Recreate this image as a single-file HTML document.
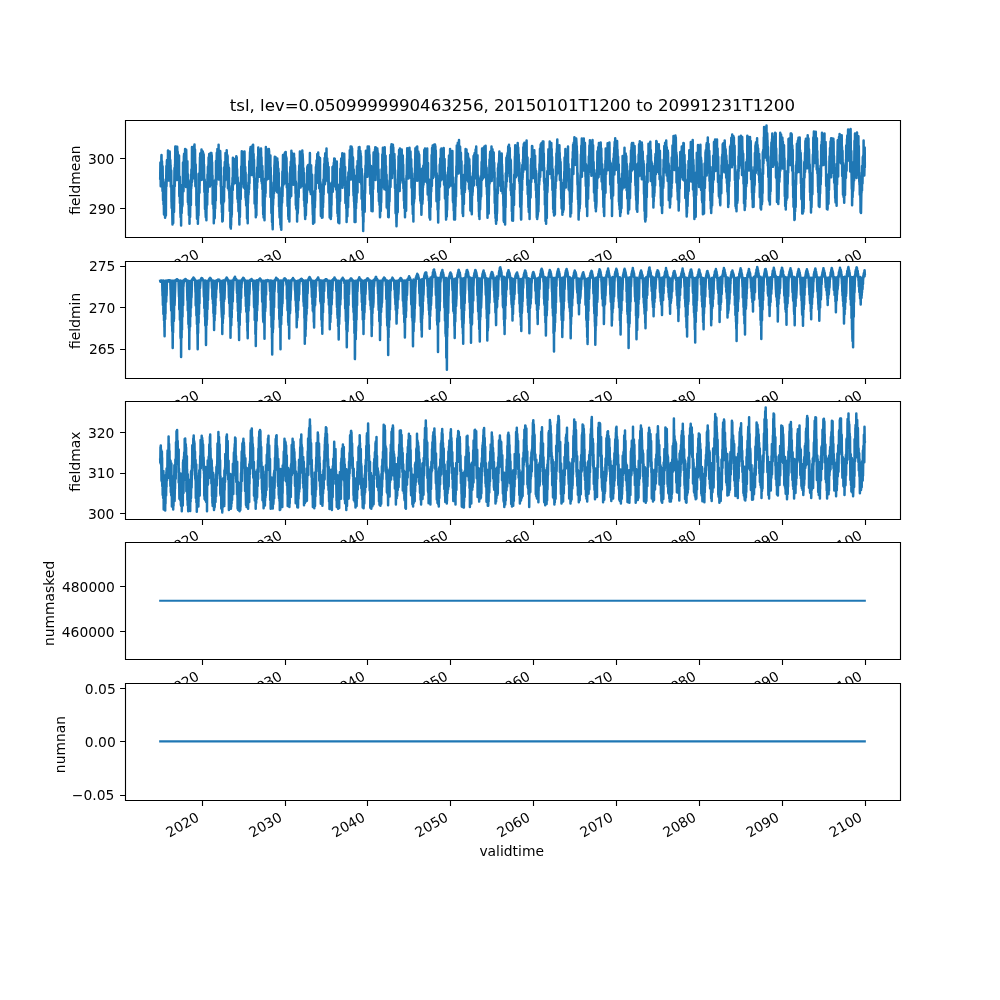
<!DOCTYPE html>
<html><head><meta charset="utf-8"><title>tsl</title>
<style>html,body{margin:0;padding:0;background:#fff;width:1000px;height:1000px;overflow:hidden}svg{display:block}</style>
</head><body>
<svg width="1000" height="1000" viewBox="0 0 1000 1000" style="font-family:'DejaVu Sans','Liberation Sans',sans-serif"><rect width="1000" height="1000" fill="#fff"/>
<rect x="125" y="120" width="775" height="117" fill="#fff"/>
<clipPath id="c0"><rect x="125.00" y="120.00" width="775.00" height="117.24"/></clipPath>
<path clip-path="url(#c0)" d="M160.2 178.5L160.4 162.5 160.5 164.6 160.5 170.6 160.6 164.2 160.7 186.3 161.0 166.8 161.0 171.0 161.2 172.7 161.4 155.9 161.5 163.8 161.5 161.0 161.5 155.0 161.8 178.5 162.0 170.4 162.0 161.2 162.5 190.9 162.5 186.1 162.5 186.6 162.6 166.3 162.9 186.9 163.0 184.9 163.0 195.7 163.1 200.4 163.3 179.4 163.5 199.4 163.5 204.4 163.6 189.5 164.0 214.4 164.0 205.2 164.2 214.7 164.5 196.9 164.5 197.8 164.5 203.6 164.5 211.7 164.9 185.5 165.0 205.5 165.0 199.2 165.1 217.8 165.5 197.6 165.5 194.2 165.5 182.5 165.9 215.5 166.0 193.2 166.0 194.7 166.4 165.9 166.5 169.5 166.5 186.3 166.9 160.7 167.0 169.4 167.0 168.8 167.0 160.1 167.4 176.0 167.5 170.9 167.5 165.8 167.8 176.8 168.0 150.5 168.0 157.8 168.1 172.7 168.4 153.5 168.5 171.1 168.5 166.7 168.6 180.5 168.7 153.6 169.0 154.9 169.0 161.5 169.1 177.9 169.2 159.1 169.5 161.4 169.5 173.1 169.7 151.6 170.0 168.1 170.0 169.7 170.1 177.9 170.3 160.0 170.5 166.7 170.5 173.7 170.6 165.3 170.8 186.8 171.0 177.5 171.0 183.1 171.2 170.5 171.5 201.9 171.5 193.9 171.5 198.3 171.7 207.9 171.9 185.7 172.0 200.2 172.0 201.1 172.5 224.4 172.5 217.7 172.5 213.4 172.8 219.8 172.9 208.1 173.0 208.9 173.0 207.2 173.2 222.9 173.4 191.4 173.5 201.9 173.5 210.0 173.5 211.5 173.7 191.2 174.0 202.6 174.0 203.7 174.0 211.9 174.5 168.1 174.5 174.2 174.5 177.1 174.8 186.2 175.0 164.2 175.0 171.9 175.0 176.0 175.3 146.4 175.5 162.8 175.5 168.3 175.5 179.7 176.0 154.3 176.0 152.6 176.3 146.7 176.5 172.2 176.5 166.6 176.5 169.5 176.6 179.9 176.7 148.6 177.0 166.0 177.0 167.8 177.1 176.2 177.2 146.8 177.5 158.5 177.5 156.1 177.7 151.8 177.8 169.9 178.0 161.6 178.0 167.1 178.2 154.8 178.4 178.9 178.5 162.3 178.5 156.6 178.8 180.8 179.0 167.9 179.0 155.4 179.3 196.3 179.5 187.6 179.5 182.8 179.8 176.7 179.9 202.9 180.0 198.1 180.0 190.6 180.1 185.7 180.4 213.6 180.5 205.4 180.5 212.2 180.6 217.2 180.7 191.1 181.0 208.2 181.0 210.1 181.1 225.6 181.2 206.6 181.5 210.0 181.5 203.8 181.7 213.1 181.9 185.9 182.0 199.8 182.0 190.2 182.0 185.1 182.1 206.9 182.5 204.6 182.5 198.6 183.0 168.0 183.0 169.7 183.0 162.6 183.5 191.3 183.5 188.1 183.5 171.8 183.6 177.3 183.9 155.8 184.0 171.4 184.0 170.9 184.1 153.7 184.4 185.5 184.5 157.2 184.5 154.3 184.7 180.7 185.0 168.5 185.0 173.3 185.1 149.0 185.4 176.8 185.5 176.4 185.5 174.1 185.7 162.8 186.0 186.9 186.0 179.6 186.2 149.8 186.5 165.9 186.5 167.5 186.6 161.2 186.9 183.9 187.0 175.2 187.0 175.9 187.1 184.5 187.4 161.2 187.5 179.4 187.5 182.4 187.8 174.0 187.9 202.3 188.0 197.9 188.0 191.4 188.2 179.7 188.4 204.8 188.5 196.1 188.5 193.5 188.5 191.4 188.9 215.1 189.0 206.9 189.0 211.8 189.1 194.7 189.5 213.5 189.5 219.0 189.5 223.8 189.7 196.6 190.0 201.2 190.0 211.9 190.1 217.1 190.5 181.3 190.5 183.8 190.5 193.6 190.9 205.1 191.0 174.8 191.0 186.1 191.0 188.1 191.2 188.6 191.4 169.6 191.5 186.1 191.5 181.5 191.8 182.4 192.0 147.0 192.0 164.9 192.0 165.5 192.1 181.4 192.2 151.2 192.5 166.7 192.5 171.3 192.6 148.4 192.9 175.7 193.0 171.1 193.0 172.3 193.2 178.3 193.3 150.8 193.5 156.8 193.5 159.0 193.6 175.4 194.0 146.3 194.0 148.8 194.1 173.8 194.5 144.5 194.5 155.1 194.5 149.5 195.0 172.9 195.0 166.1 195.0 149.6 195.4 186.2 195.5 183.5 195.5 181.9 195.7 164.4 195.9 185.6 196.0 177.6 196.0 180.7 196.3 173.8 196.4 205.4 196.5 201.2 196.5 201.7 196.7 196.2 197.0 218.7 197.0 218.6 197.0 218.7 197.2 200.2 197.5 219.0 197.5 218.9 197.5 203.7 197.7 197.8 197.9 223.8 198.0 213.3 198.0 209.2 198.1 218.2 198.3 196.9 198.5 205.8 198.5 215.6 199.0 184.9 199.0 180.3 199.1 173.6 199.5 192.8 199.5 182.7 199.5 183.9 199.6 186.0 200.0 157.3 200.0 166.7 200.0 168.2 200.1 180.6 200.2 153.6 200.5 167.3 200.5 165.6 200.7 155.2 201.0 179.9 201.0 169.4 201.1 176.2 201.5 149.6 201.5 153.9 201.5 163.0 201.6 155.9 202.0 178.1 202.0 170.9 202.0 174.0 202.1 151.7 202.5 153.5 202.5 158.5 202.7 170.7 202.8 151.5 203.0 167.3 203.0 179.4 203.2 153.0 203.5 173.0 203.5 171.4 203.7 154.4 203.9 175.1 204.0 172.7 204.0 168.7 204.0 164.6 204.4 192.1 204.5 184.9 204.5 186.2 204.7 179.4 205.0 209.1 205.0 198.9 205.0 201.9 205.3 186.2 205.4 208.0 205.5 194.4 205.5 210.2 205.8 217.2 206.0 203.0 206.0 198.2 206.2 194.6 206.4 220.2 206.5 205.5 206.5 206.9 206.6 208.8 206.9 182.2 207.0 201.9 207.0 196.1 207.2 204.7 207.5 174.5 207.5 183.8 207.5 185.6 207.7 192.3 207.9 166.8 208.0 174.0 208.0 174.5 208.5 164.3 208.5 182.8 208.5 177.8 208.5 183.1 208.6 157.5 209.0 174.3 209.0 169.9 209.2 154.1 209.3 183.6 209.5 169.5 209.5 173.5 209.8 161.6 209.9 186.5 210.0 163.6 210.0 169.8 210.2 185.3 210.2 159.0 210.5 171.2 210.5 169.2 210.7 152.9 210.9 179.8 211.0 175.2 211.0 161.4 211.1 176.3 211.4 152.9 211.5 168.3 211.5 169.2 211.6 180.6 211.7 155.1 212.0 170.0 212.0 171.4 212.1 162.2 212.3 180.6 212.5 175.6 212.5 181.5 212.6 180.9 212.7 204.1 213.0 182.6 213.0 186.8 213.4 180.8 213.5 208.8 213.5 202.7 213.5 199.3 213.7 183.4 213.8 223.2 214.0 204.7 214.0 208.0 214.1 196.9 214.5 216.3 214.5 207.4 214.7 218.2 215.0 201.3 215.0 202.3 215.2 208.6 215.5 179.4 215.5 181.6 215.8 200.6 216.0 161.0 216.0 174.0 216.1 166.1 216.3 184.7 216.5 167.6 216.5 167.4 216.8 152.8 216.9 171.2 217.0 170.1 217.0 155.1 217.3 177.1 217.4 149.1 217.5 152.7 217.5 159.4 217.6 155.7 217.7 173.9 218.0 157.5 218.0 159.1 218.1 167.8 218.5 149.8 218.5 155.1 218.5 155.9 218.6 144.8 218.7 179.4 219.0 166.0 219.0 162.3 219.1 174.1 219.4 154.6 219.5 161.3 219.5 159.1 219.9 173.3 220.0 152.0 220.0 153.5 220.0 162.8 220.1 174.1 220.2 151.1 220.5 162.7 220.5 164.2 220.6 160.0 220.8 186.5 221.0 167.7 221.0 178.7 221.2 202.9 221.5 192.9 221.5 204.2 221.8 188.9 221.9 212.3 222.0 209.9 222.0 200.9 222.2 199.5 222.3 221.4 222.5 203.2 222.5 208.2 222.7 204.1 222.7 221.0 223.0 211.4 223.0 208.1 223.1 187.1 223.5 190.6 223.5 189.7 223.6 202.5 224.0 175.8 224.0 199.7 224.0 201.3 224.3 167.3 224.5 185.5 224.5 187.1 224.8 162.0 225.0 164.6 225.0 163.5 225.3 180.3 225.5 153.0 225.5 155.4 225.5 153.9 225.9 177.2 226.0 162.2 226.0 154.3 226.0 153.3 226.3 173.8 226.5 164.2 226.5 168.8 226.7 174.0 226.7 150.2 227.0 164.3 227.0 158.4 227.1 178.8 227.4 155.2 227.5 160.0 227.5 163.6 227.6 155.9 227.9 188.3 228.0 169.4 228.0 165.5 228.2 164.2 228.3 181.2 228.5 178.3 228.5 172.4 228.6 167.2 228.9 190.8 229.0 168.0 229.0 180.9 229.1 180.1 229.4 198.2 229.5 193.0 229.5 197.6 229.6 186.0 229.7 210.9 230.0 206.9 230.0 211.3 230.3 190.8 230.4 227.2 230.5 212.6 230.5 210.4 230.8 206.7 230.8 228.6 231.0 220.1 231.0 223.1 231.1 225.4 231.3 198.4 231.5 216.9 231.5 212.5 231.8 215.0 232.0 188.0 232.0 196.1 232.0 198.4 232.1 203.4 232.3 182.9 232.5 187.5 232.5 177.8 232.8 190.0 232.9 157.8 233.0 168.0 233.0 169.3 233.2 159.7 233.4 184.4 233.5 171.3 233.5 176.7 233.7 163.2 233.8 183.8 234.0 169.4 234.0 163.8 234.2 181.4 234.4 159.1 234.5 174.8 234.5 176.3 234.6 161.5 234.8 182.1 235.0 165.5 235.0 165.7 235.1 183.1 235.4 160.9 235.5 171.3 235.5 171.7 235.7 164.5 235.8 179.9 236.0 165.9 236.0 167.2 236.3 156.2 236.4 175.3 236.5 162.9 236.5 160.5 236.7 157.2 236.9 179.5 237.0 178.9 237.0 174.8 237.1 168.9 237.4 198.8 237.5 189.3 237.5 197.7 237.7 177.5 238.0 202.4 238.0 197.5 238.0 192.7 238.1 188.4 238.5 211.2 238.5 198.3 238.5 202.7 238.7 211.3 239.0 191.0 239.0 204.1 239.0 200.6 239.0 200.5 239.4 224.4 239.5 202.0 239.5 206.7 239.7 190.9 239.9 217.1 240.0 207.3 240.0 199.2 240.0 206.9 240.3 182.8 240.5 196.2 240.5 192.2 240.7 199.1 240.9 180.5 241.0 187.1 241.0 176.5 241.2 183.1 241.2 166.4 241.5 169.5 241.5 181.7 241.8 151.2 242.0 169.7 242.0 170.6 242.3 183.4 242.5 158.4 242.5 155.9 242.9 178.8 243.0 171.4 243.0 170.0 243.1 178.4 243.3 157.4 243.5 171.2 243.5 165.6 243.6 151.8 243.7 187.5 244.0 175.4 244.0 173.9 244.2 178.9 244.4 157.7 244.5 162.6 244.5 158.8 244.5 151.4 245.0 189.1 245.0 181.5 245.2 167.1 245.5 197.8 245.5 189.6 245.5 191.2 245.6 172.4 245.9 200.2 246.0 187.8 246.0 190.5 246.2 205.4 246.4 186.3 246.5 188.0 246.5 194.7 246.8 194.6 247.0 218.6 247.0 212.7 247.3 215.9 247.4 192.4 247.5 207.0 247.5 203.4 247.7 223.2 247.8 193.7 248.0 201.3 248.0 203.2 248.4 182.6 248.5 194.8 248.5 182.6 248.7 192.8 248.8 174.4 249.0 183.5 249.0 173.9 249.1 189.2 249.3 161.2 249.5 183.3 249.5 165.1 249.6 174.9 250.0 152.0 250.0 157.0 250.0 172.3 250.1 174.8 250.3 148.6 250.5 156.6 250.5 155.5 250.6 147.1 250.8 168.3 251.0 160.0 251.0 155.5 251.0 151.0 251.5 174.9 251.5 170.6 251.6 149.8 252.0 158.9 252.0 160.8 252.0 149.4 252.5 168.7 252.5 159.1 252.5 147.0 252.5 145.4 252.8 172.4 253.0 152.6 253.0 156.6 253.1 144.8 253.3 170.7 253.5 166.8 253.5 164.8 253.6 153.9 253.8 176.9 254.0 162.7 254.0 159.8 254.4 190.2 254.5 185.7 254.5 179.5 254.6 203.5 255.0 193.0 255.0 189.3 255.2 178.7 255.5 208.3 255.5 202.5 255.5 198.3 255.8 190.9 255.8 217.2 256.0 195.2 256.0 193.3 256.4 215.3 256.5 189.8 256.5 194.3 256.5 188.3 256.6 204.1 257.0 172.7 257.0 179.2 257.1 188.1 257.2 167.6 257.5 177.8 257.5 180.2 257.5 182.0 257.9 157.8 258.0 162.3 258.0 156.5 258.1 168.2 258.3 147.6 258.5 161.3 258.5 161.9 258.8 174.2 258.9 151.1 259.0 157.7 259.0 162.1 259.1 149.7 259.5 176.7 259.5 176.0 259.5 170.9 259.6 150.9 260.0 157.2 260.0 163.9 260.2 155.9 260.5 174.6 260.5 166.9 260.5 165.8 260.6 174.4 261.0 148.4 261.0 160.1 261.0 160.3 261.1 151.5 261.4 181.3 261.5 178.3 261.5 173.0 261.5 157.3 261.9 183.4 262.0 170.1 262.0 171.6 262.3 166.0 262.4 189.2 262.5 185.4 262.5 183.5 262.6 170.8 262.9 206.1 263.0 190.2 263.0 195.8 263.1 184.7 263.2 214.5 263.5 190.4 263.5 198.1 263.6 217.6 263.9 189.6 264.0 212.1 264.0 213.4 264.3 193.6 264.5 215.3 264.5 216.0 264.5 220.2 264.8 187.5 265.0 190.6 265.0 186.0 265.1 178.8 265.2 196.7 265.5 180.1 265.5 182.9 265.6 192.9 265.9 147.1 266.0 170.0 266.0 164.2 266.2 180.6 266.5 154.0 266.5 160.7 266.5 164.0 266.6 149.1 267.0 176.9 267.0 174.7 267.2 179.3 267.3 156.4 267.5 161.6 267.5 168.4 267.7 178.9 267.9 154.3 268.0 163.2 268.0 170.8 268.0 173.3 268.5 151.2 268.5 166.6 268.5 159.8 268.7 170.0 268.9 149.0 269.0 166.8 269.0 159.9 269.1 150.8 269.4 175.5 269.5 164.9 269.5 169.9 269.7 178.5 269.8 157.3 270.0 173.2 270.0 168.5 270.4 155.6 270.5 197.0 270.5 190.2 270.5 182.9 270.7 167.4 271.0 191.1 271.0 175.5 271.4 213.0 271.5 201.3 271.5 202.6 271.5 193.8 272.0 217.3 272.0 222.1 272.3 207.9 272.5 225.9 272.5 222.5 272.5 221.4 272.7 229.2 272.9 197.0 273.0 198.2 273.0 202.1 273.1 205.0 273.3 192.9 273.5 194.5 273.5 198.3 273.7 182.4 274.0 193.0 274.0 193.5 274.4 165.1 274.5 165.6 274.8 156.8 274.9 178.3 275.0 173.4 275.0 174.4 275.1 181.1 275.4 158.4 275.5 162.1 275.5 157.1 275.8 184.7 276.0 179.6 276.0 174.4 276.1 161.9 276.4 187.2 276.5 181.2 276.5 191.0 276.7 159.7 277.0 191.9 277.0 184.8 277.3 158.4 277.5 186.3 277.5 185.1 277.5 192.6 277.7 161.8 278.0 176.7 278.0 177.5 278.1 190.7 278.4 168.7 278.5 185.7 278.5 177.1 278.8 173.1 278.9 197.0 279.0 186.2 279.0 206.8 279.3 186.9 279.4 211.7 279.5 208.7 279.5 213.3 279.6 217.4 279.8 198.0 280.0 203.5 280.0 209.2 280.1 199.3 280.4 224.7 280.5 213.9 280.5 207.2 280.6 207.2 280.9 227.7 281.0 225.1 281.0 217.6 281.1 203.8 281.3 229.8 281.5 207.0 281.5 203.2 281.6 206.3 281.9 188.1 282.0 199.4 282.0 196.0 282.1 202.7 282.4 171.4 282.5 185.0 282.5 191.6 282.5 196.4 283.0 154.9 283.0 168.4 283.0 173.6 283.1 185.7 283.1 164.0 283.5 173.6 283.5 179.3 283.6 184.6 283.9 164.1 284.0 172.1 284.0 181.7 284.3 161.2 284.5 172.9 284.5 172.2 284.7 153.2 284.8 183.2 285.0 159.3 285.0 173.2 285.2 177.2 285.3 152.3 285.5 172.9 285.5 171.7 285.7 152.0 285.8 174.4 286.0 164.8 286.0 161.6 286.1 156.5 286.4 178.0 286.5 161.8 286.5 169.4 286.5 158.0 286.8 187.4 287.0 172.3 287.0 176.7 287.2 173.4 287.5 201.1 287.5 197.6 287.6 206.1 288.0 186.0 288.0 188.2 288.0 187.6 288.1 184.0 288.3 216.6 288.5 211.9 288.5 208.8 288.5 218.9 288.9 198.9 289.0 202.3 289.0 202.0 289.3 198.1 289.4 221.4 289.5 205.7 289.5 203.3 289.5 205.7 289.7 187.8 290.0 188.8 290.0 198.1 290.3 166.9 290.5 181.1 290.5 178.7 290.6 186.4 290.8 161.8 291.0 178.4 291.0 177.4 291.2 196.0 291.4 150.8 291.5 170.8 291.5 178.5 291.7 183.7 291.9 153.0 292.0 178.9 292.0 165.9 292.2 155.9 292.4 180.9 292.5 175.7 292.5 174.4 292.6 184.6 292.7 155.3 293.0 173.1 293.0 182.3 293.2 184.7 293.3 157.7 293.5 163.6 293.5 164.9 293.9 179.2 294.0 153.8 294.0 165.7 294.4 158.0 294.5 176.9 294.5 173.3 294.5 173.1 294.6 163.7 294.7 177.8 295.0 167.1 295.0 165.6 295.5 188.5 295.5 184.3 295.5 193.3 295.8 181.4 295.8 204.9 296.0 196.6 296.0 195.3 296.2 208.7 296.3 191.7 296.5 202.8 296.5 203.7 296.7 210.0 296.9 192.6 297.0 203.2 297.0 209.0 297.1 221.4 297.4 196.5 297.5 203.9 297.5 207.7 297.8 213.4 298.0 190.8 298.0 208.4 298.5 183.1 298.5 190.6 298.7 197.0 298.9 171.3 299.0 176.7 299.0 174.6 299.1 187.4 299.2 165.8 299.5 168.5 299.5 164.8 299.6 185.8 299.9 151.4 300.0 169.8 300.0 175.9 300.1 157.5 300.5 168.1 300.5 166.6 300.6 187.4 300.9 153.6 301.0 162.5 301.0 163.3 301.1 158.0 301.2 175.0 301.5 170.7 301.5 173.2 301.8 185.9 302.0 158.2 302.0 170.0 302.3 150.5 302.5 180.5 302.5 172.9 302.5 179.4 302.6 153.7 303.0 162.4 303.0 179.1 303.3 167.9 303.4 183.3 303.5 170.1 303.5 176.5 303.5 168.2 303.9 192.9 304.0 192.8 304.0 200.4 304.1 172.9 304.5 206.6 304.5 206.4 304.6 183.9 305.0 216.3 305.0 210.0 305.2 219.0 305.2 190.9 305.5 201.8 305.5 205.2 305.6 198.5 305.9 215.3 306.0 208.3 306.0 209.8 306.2 185.8 306.5 190.1 306.5 194.1 306.6 185.7 306.7 202.7 307.0 189.9 307.0 190.0 307.1 192.2 307.3 167.1 307.5 180.2 307.5 181.2 307.6 186.5 307.7 165.7 308.0 176.3 308.0 174.8 308.2 165.0 308.3 187.0 308.5 183.9 308.5 180.9 308.5 166.2 308.8 185.1 309.0 175.2 309.0 176.3 309.0 188.9 309.2 169.5 309.5 179.6 309.5 178.6 309.6 189.8 309.9 152.9 310.0 180.1 310.0 179.8 310.3 165.9 310.4 192.1 310.5 179.3 310.5 176.0 310.6 168.5 310.8 193.9 311.0 177.1 311.0 173.5 311.1 165.3 311.4 187.0 311.5 173.7 311.5 179.6 311.6 194.5 311.7 176.8 312.0 186.1 312.0 175.3 312.1 174.7 312.4 204.0 312.5 203.2 312.5 202.7 312.8 214.8 312.9 194.9 313.0 205.5 313.0 209.3 313.1 223.8 313.5 208.1 313.5 213.7 313.6 222.4 313.7 204.8 314.0 218.0 314.0 210.9 314.3 222.6 314.5 194.3 314.5 207.0 314.5 199.7 314.8 191.0 314.9 207.5 315.0 194.5 315.0 192.0 315.1 201.0 315.5 182.0 315.5 174.4 315.8 189.1 315.9 167.0 316.0 180.3 316.0 177.2 316.2 183.0 316.3 164.4 316.5 170.6 316.5 169.6 316.6 160.5 316.8 183.0 317.0 171.2 317.0 169.9 317.3 154.0 317.5 177.5 317.5 172.1 317.5 170.0 317.5 182.1 317.9 161.9 318.0 170.8 318.0 165.1 318.2 152.6 318.4 179.0 318.5 170.4 318.5 171.0 318.8 157.1 318.8 176.2 319.0 164.2 319.0 161.8 319.2 188.2 319.5 171.4 319.5 168.8 319.5 159.0 319.7 183.3 320.0 163.5 320.0 158.0 320.2 192.0 320.5 189.6 320.5 182.0 320.9 216.0 321.0 192.2 321.0 187.2 321.1 184.5 321.4 209.9 321.5 201.2 321.5 195.7 321.6 193.6 321.9 217.8 322.0 206.4 322.0 206.1 322.3 195.4 322.4 215.1 322.5 213.6 322.5 211.5 322.5 217.6 322.9 191.1 323.0 207.3 323.0 195.7 323.2 202.8 323.4 179.4 323.5 189.4 323.5 183.8 323.6 194.8 324.0 170.0 324.0 175.8 324.2 164.1 324.4 180.6 324.5 168.3 324.5 173.6 324.6 158.0 324.8 175.8 325.0 172.3 325.0 184.2 325.2 153.4 325.5 177.1 325.5 167.5 325.6 173.5 325.7 153.0 326.0 164.4 326.0 165.1 326.2 180.2 326.5 149.0 326.5 154.1 326.5 148.4 326.8 174.2 327.0 172.8 327.0 168.6 327.1 173.3 327.2 158.4 327.5 173.2 327.5 170.8 327.6 181.2 327.7 162.6 328.0 174.8 328.0 177.2 328.2 168.8 328.4 192.6 328.5 183.2 328.5 173.7 328.6 167.1 328.8 191.8 329.0 184.2 329.0 188.1 329.3 183.2 329.5 203.9 329.5 202.2 329.5 199.9 329.7 217.4 330.0 216.3 330.0 217.1 330.3 197.5 330.5 213.1 330.5 209.0 330.5 199.6 330.8 219.0 331.0 205.5 331.0 204.6 331.1 216.5 331.3 195.8 331.5 204.9 331.5 200.0 331.8 182.5 332.0 185.1 332.0 185.6 332.3 190.9 332.5 174.5 332.5 167.0 332.8 191.7 333.0 180.4 333.0 174.1 333.2 186.6 333.3 166.1 333.5 181.0 333.5 167.4 333.6 180.4 333.8 162.7 334.0 171.3 334.0 179.1 334.2 158.6 334.3 184.4 334.5 173.3 334.5 176.3 334.7 181.4 334.8 158.8 335.0 179.1 335.0 185.8 335.3 186.7 335.4 166.2 335.5 177.0 335.5 174.7 335.7 180.5 335.9 161.5 336.0 178.7 336.0 181.1 336.1 189.6 336.4 172.3 336.5 175.2 336.5 172.3 336.8 161.5 337.0 198.1 337.0 195.5 337.0 193.8 337.2 183.9 337.4 213.3 337.5 202.1 337.5 202.2 337.6 185.1 337.9 216.4 338.0 201.7 338.0 201.0 338.1 194.2 338.3 222.6 338.5 206.7 338.5 205.4 338.6 216.5 338.9 195.3 339.0 214.4 339.0 212.1 339.3 223.2 339.5 191.4 339.5 195.2 339.5 200.8 339.5 204.7 339.8 184.2 340.0 193.2 340.0 190.7 340.1 201.0 340.3 168.7 340.5 178.4 340.5 172.5 340.9 181.1 340.9 163.6 341.0 164.8 341.0 175.2 341.2 158.4 341.5 161.1 341.5 166.9 341.6 161.7 341.9 179.4 342.0 175.0 342.0 171.9 342.3 153.2 342.5 182.1 342.5 187.8 343.0 154.6 343.0 167.6 343.0 159.5 343.1 183.7 343.3 157.8 343.5 170.0 343.5 170.2 343.7 176.9 344.0 161.3 344.0 162.9 344.0 167.0 344.2 153.8 344.5 169.6 344.5 175.1 344.7 169.7 344.9 185.7 345.0 176.0 345.0 178.5 345.1 167.1 345.4 202.9 345.5 196.6 345.5 184.6 345.8 181.4 345.9 202.6 346.0 197.5 346.0 198.5 346.2 190.3 346.3 208.6 346.5 199.8 346.5 194.5 346.6 222.0 346.8 191.6 347.0 199.7 347.0 211.6 347.3 196.2 347.4 216.2 347.5 198.2 347.5 203.7 347.7 207.8 347.9 177.0 348.0 200.3 348.0 195.1 348.1 207.2 348.4 172.4 348.5 185.4 348.5 192.6 348.8 195.6 349.0 171.1 349.0 177.6 349.0 178.9 349.5 159.2 349.5 175.1 349.5 169.4 349.6 174.5 349.8 150.2 350.0 169.1 350.0 168.9 350.0 178.6 350.3 151.4 350.5 159.8 350.5 161.2 350.6 146.4 350.9 174.1 351.0 166.5 351.0 179.4 351.2 160.2 351.5 175.8 351.5 167.3 351.6 146.8 351.8 174.0 352.0 165.8 352.0 159.3 352.1 148.6 352.5 177.3 352.5 168.0 352.5 162.3 352.7 157.1 352.9 173.0 353.0 168.2 353.0 160.4 353.0 157.8 353.4 192.0 353.5 183.8 353.5 195.6 353.7 169.4 354.0 201.6 354.0 196.5 354.0 191.8 354.4 207.9 354.5 206.2 354.5 205.4 354.6 222.0 354.9 183.2 355.0 199.9 355.0 203.1 355.0 192.6 355.3 218.5 355.5 213.5 355.5 207.1 355.5 221.9 355.7 187.5 356.0 208.6 356.0 194.2 356.2 175.6 356.4 202.7 356.5 199.5 356.5 192.7 356.6 199.0 356.9 166.2 357.0 177.4 357.0 176.5 357.3 168.0 357.5 192.4 357.5 178.8 357.6 161.1 358.0 173.6 358.0 164.3 358.3 172.8 358.5 150.4 358.5 156.9 358.5 153.1 358.7 177.9 358.8 147.3 359.0 156.8 359.0 159.4 359.1 149.3 359.3 176.8 359.5 160.2 359.5 156.4 359.5 146.9 359.9 182.1 360.0 172.7 360.0 175.7 360.3 151.1 360.5 157.4 360.5 162.7 360.6 153.3 360.7 172.3 361.0 156.3 361.0 165.5 361.0 157.9 361.3 184.3 361.5 170.1 361.5 169.2 361.6 198.7 361.8 168.9 362.0 186.8 362.0 187.5 362.1 175.7 362.4 209.9 362.5 197.7 362.5 194.6 362.8 216.2 363.0 204.9 363.0 206.6 363.2 231.0 363.4 198.7 363.5 216.2 363.5 222.0 363.5 198.7 364.0 208.1 364.0 198.6 364.2 208.4 364.4 191.1 364.5 195.7 364.5 196.1 364.7 211.8 365.0 173.8 365.0 178.0 365.0 177.4 365.1 193.3 365.5 165.4 365.5 166.9 365.5 167.6 365.8 176.2 365.9 150.8 366.0 159.7 366.0 154.2 366.2 172.1 366.4 151.9 366.5 159.4 366.5 160.1 366.5 150.6 366.8 171.2 367.0 159.3 367.0 164.3 367.1 154.1 367.4 176.8 367.5 167.6 367.5 170.2 367.7 146.6 368.0 164.2 368.0 164.5 368.0 173.8 368.4 152.9 368.5 164.6 368.5 164.9 368.8 169.0 368.9 146.4 369.0 160.5 369.0 154.4 369.1 148.5 369.5 171.7 369.5 165.0 369.5 154.8 370.0 178.6 370.0 185.7 370.2 167.3 370.4 193.8 370.5 176.7 370.5 174.4 370.8 190.6 371.0 166.1 371.0 170.5 371.0 183.2 371.5 211.1 371.5 207.5 371.5 201.8 371.8 185.1 372.0 194.3 372.0 202.1 372.1 186.8 372.5 203.1 372.5 191.8 372.6 211.2 373.0 174.2 373.0 182.9 373.2 189.1 373.5 161.5 373.5 158.2 373.6 152.5 373.8 177.6 374.0 162.1 374.0 161.3 374.4 153.3 374.5 176.4 374.5 164.3 374.6 172.3 375.0 149.4 375.0 168.4 375.1 175.7 375.3 147.2 375.5 165.5 375.5 171.6 375.6 180.0 375.9 147.6 376.0 163.0 376.0 165.9 376.3 168.4 376.4 150.0 376.5 163.0 376.5 155.4 376.5 148.8 376.9 174.3 377.0 167.5 377.0 166.2 377.0 170.0 377.3 148.4 377.5 163.1 377.5 167.6 377.5 150.6 378.0 174.6 378.0 172.0 378.1 153.4 378.3 192.1 378.5 173.2 378.5 172.0 378.6 169.4 378.9 201.3 379.0 190.2 379.0 197.2 379.2 180.0 379.5 204.9 379.5 198.9 379.5 198.8 379.6 188.9 380.0 217.2 380.0 213.6 380.1 216.7 380.3 190.4 380.5 202.5 380.5 204.3 380.7 187.7 380.8 210.9 381.0 199.2 381.0 192.7 381.2 202.4 381.5 178.2 381.5 187.9 381.6 169.5 382.0 176.1 382.0 168.3 382.2 180.6 382.3 154.4 382.5 169.7 382.5 168.3 382.7 183.0 382.9 147.8 383.0 163.8 383.0 164.3 383.3 151.1 383.4 174.9 383.5 169.9 383.5 165.5 383.6 187.6 383.7 154.0 384.0 168.0 384.0 164.4 384.1 159.3 384.4 189.3 384.5 167.6 384.5 164.0 384.7 147.2 384.9 187.2 385.0 168.8 385.0 172.4 385.2 179.9 385.5 156.3 385.5 168.0 385.5 168.1 385.6 155.8 385.8 185.3 386.0 166.2 386.0 181.0 386.0 167.5 386.2 190.5 386.5 185.8 386.5 186.7 386.6 174.7 386.7 207.5 387.0 194.2 387.0 193.8 387.1 180.4 387.4 206.6 387.5 191.4 387.5 191.0 387.5 189.5 387.9 209.5 388.0 201.6 388.0 196.7 388.0 186.5 388.2 217.1 388.5 201.1 388.5 208.9 388.6 192.6 388.7 217.2 389.0 197.2 389.0 205.2 389.0 205.8 389.3 186.6 389.5 194.2 389.5 194.6 389.5 201.6 390.0 171.4 390.0 177.4 390.0 179.3 390.2 155.0 390.5 185.3 390.5 186.9 390.9 154.8 391.0 164.3 391.0 169.5 391.1 146.4 391.4 171.1 391.5 147.3 391.5 144.2 391.7 175.7 392.0 154.6 392.0 154.4 392.1 178.0 392.2 147.0 392.5 163.8 392.5 159.9 392.6 168.6 392.9 144.7 393.0 149.3 393.0 153.1 393.2 169.0 393.3 147.6 393.5 167.5 393.5 154.1 393.6 168.4 394.0 162.5 394.0 167.6 394.2 172.5 394.4 154.0 394.5 164.8 394.5 173.8 394.6 159.0 395.0 188.2 395.0 184.6 395.0 185.7 395.1 170.3 395.5 199.0 395.5 206.5 395.6 213.3 395.7 185.1 396.0 190.7 396.0 201.7 396.1 191.1 396.4 223.1 396.5 212.1 396.5 218.6 396.5 226.2 397.0 202.5 397.0 214.2 397.4 195.7 397.5 205.6 397.5 211.0 397.7 212.2 398.0 179.1 398.0 183.3 398.0 188.0 398.5 161.7 398.5 156.2 399.0 181.4 399.0 171.4 399.0 171.9 399.1 149.9 399.5 162.7 399.5 163.0 399.7 190.9 399.9 148.4 400.0 167.7 400.0 172.0 400.0 178.7 400.2 151.1 400.5 163.0 400.5 159.7 400.8 174.5 400.9 152.5 401.0 155.0 401.0 158.7 401.2 179.6 401.5 152.8 401.5 164.8 401.6 174.6 401.7 149.5 402.0 160.0 402.0 169.7 402.1 180.8 402.3 156.6 402.5 172.8 402.5 171.0 402.6 182.7 402.8 155.4 403.0 172.9 403.0 178.0 403.2 164.5 403.4 188.5 403.5 182.6 403.5 185.4 403.6 178.6 403.9 200.8 404.0 191.8 404.0 189.6 404.0 181.6 404.3 208.0 404.5 187.2 404.5 196.9 404.8 190.8 405.0 217.2 405.0 207.1 405.5 184.1 405.5 188.2 405.6 183.9 405.9 200.5 406.0 194.7 406.0 191.5 406.1 210.8 406.4 177.4 406.5 178.8 406.5 175.4 406.7 178.5 407.0 158.4 407.0 164.6 407.0 161.9 407.1 177.1 407.2 148.2 407.5 155.0 407.5 165.0 407.6 167.9 407.7 150.4 408.0 154.3 408.0 162.5 408.1 152.2 408.5 175.2 408.5 178.5 409.0 148.2 409.0 153.1 409.0 162.8 409.0 167.8 409.5 149.6 409.5 150.3 409.5 147.8 409.9 169.5 410.0 157.7 410.0 161.5 410.4 177.3 410.5 152.2 410.5 151.6 410.9 177.9 411.0 162.9 411.0 169.8 411.2 159.3 411.5 187.8 411.5 181.1 411.5 179.7 411.6 168.1 412.0 188.1 412.0 178.6 412.2 204.8 412.5 197.0 412.5 188.7 412.8 214.0 413.0 203.0 413.0 198.7 413.1 185.1 413.4 221.4 413.5 200.1 413.5 201.0 413.7 203.8 414.0 183.8 414.0 187.4 414.0 195.9 414.0 202.1 414.5 173.4 414.5 183.0 414.5 198.8 415.0 168.5 415.0 172.2 415.4 148.2 415.5 152.6 415.5 151.1 415.6 150.7 415.8 173.7 416.0 170.1 416.0 160.9 416.2 168.5 416.4 153.5 416.5 155.9 416.5 160.1 416.6 147.1 416.7 176.2 417.0 165.4 417.0 166.3 417.1 180.7 417.2 146.4 417.5 170.4 417.5 166.4 417.6 173.4 417.9 158.1 418.0 164.6 418.0 166.0 418.3 175.2 418.3 151.5 418.5 165.0 418.5 162.9 418.5 171.1 418.7 153.3 419.0 157.9 419.0 155.3 419.2 154.7 419.5 181.3 419.5 172.3 419.5 163.7 420.0 195.2 420.0 183.2 420.0 185.0 420.3 173.3 420.3 200.7 420.5 185.8 420.5 186.7 420.5 186.2 420.9 203.2 421.0 196.4 421.0 200.3 421.1 186.8 421.4 214.8 421.5 212.3 421.5 212.5 422.0 168.8 422.0 177.4 422.4 203.7 422.5 199.2 422.5 192.9 422.7 199.8 422.8 170.8 423.0 184.7 423.0 183.5 423.0 187.6 423.3 165.8 423.5 176.3 423.5 182.0 423.5 184.6 424.0 163.6 424.0 165.6 424.0 164.7 424.3 150.0 424.4 180.2 424.5 155.7 424.5 162.4 424.9 179.8 425.0 148.6 425.0 150.7 425.3 181.6 425.5 166.9 425.5 171.3 425.6 156.0 425.9 181.0 426.0 164.4 426.0 168.3 426.1 176.3 426.2 152.3 426.5 156.9 426.5 154.2 426.7 149.0 426.9 168.1 427.0 163.8 427.0 168.3 427.2 148.4 427.3 183.5 427.5 179.0 427.5 176.1 427.7 194.5 428.0 162.9 428.0 166.1 428.0 171.4 428.1 191.7 428.5 182.3 428.5 193.0 428.7 179.3 428.8 200.4 429.0 189.5 429.0 193.9 429.0 188.0 429.5 217.8 429.5 213.0 429.5 207.0 429.6 189.0 429.7 213.3 430.0 206.6 430.0 210.4 430.2 219.6 430.3 188.7 430.5 195.5 430.5 197.1 430.7 206.9 431.0 179.9 431.0 190.1 431.2 191.7 431.5 168.7 431.5 173.4 431.5 175.0 431.6 155.0 431.9 186.0 432.0 174.8 432.0 161.3 432.1 148.0 432.3 174.3 432.5 151.3 432.5 153.4 432.7 145.6 432.9 177.0 433.0 167.7 433.0 178.1 433.1 149.4 433.5 165.8 433.5 164.6 433.8 167.9 434.0 144.7 434.0 153.1 434.0 161.2 434.1 145.9 434.2 174.4 434.5 162.9 434.5 158.8 434.8 174.0 435.0 144.5 435.0 154.1 435.1 165.5 435.4 146.2 435.5 160.4 435.5 163.2 435.7 177.0 435.8 150.6 436.0 171.8 436.0 170.9 436.1 165.4 436.5 201.3 436.5 196.4 436.5 194.5 436.7 173.3 437.0 200.8 437.0 188.7 437.1 181.5 437.3 199.6 437.5 186.9 437.5 187.6 437.6 209.8 438.0 200.7 438.0 208.0 438.2 222.6 438.4 191.7 438.5 206.7 438.5 209.2 438.8 183.1 439.0 192.9 439.0 189.6 439.1 200.0 439.3 175.2 439.5 176.3 439.5 180.5 439.7 164.5 439.9 186.8 440.0 174.2 440.0 169.1 440.1 181.0 440.2 158.5 440.5 160.4 440.5 158.4 440.7 180.4 440.8 149.4 441.0 159.1 441.0 156.5 441.3 175.0 441.4 148.4 441.5 161.9 441.5 162.7 441.5 150.8 441.8 177.9 442.0 156.5 442.0 163.3 442.2 179.2 442.4 152.7 442.5 169.8 442.5 165.5 442.8 172.2 442.9 153.2 443.0 167.6 443.0 164.2 443.2 178.1 443.5 155.0 443.5 161.4 443.7 148.1 444.0 176.5 444.0 178.6 444.1 184.8 444.3 169.6 444.5 181.6 444.5 180.3 444.6 159.1 445.0 198.5 445.0 189.5 445.0 184.1 445.2 175.1 445.3 197.3 445.5 196.8 445.5 195.1 445.6 189.4 446.0 215.1 446.0 204.2 446.0 215.6 446.1 219.6 446.5 195.0 446.5 199.9 446.5 191.5 446.8 216.5 446.9 185.8 447.0 192.5 447.0 197.5 447.1 210.1 447.5 187.9 447.5 191.5 447.5 189.4 447.7 195.0 447.8 172.6 448.0 175.0 448.0 171.8 448.2 188.2 448.3 167.5 448.5 172.0 448.5 179.5 448.6 182.7 448.8 159.8 449.0 170.8 449.0 162.7 449.0 155.4 449.1 186.9 449.5 167.1 449.5 165.3 449.6 162.7 449.9 176.8 450.0 167.4 450.0 159.1 450.1 149.0 450.3 177.9 450.5 169.2 450.5 164.1 450.7 156.0 450.8 182.8 451.0 164.6 451.0 167.7 451.2 185.5 451.4 152.7 451.5 168.6 451.5 173.4 451.7 154.2 451.9 178.3 452.0 155.7 452.0 164.7 452.3 181.0 452.4 150.9 452.5 165.9 452.5 165.5 452.9 201.0 453.0 189.9 453.0 190.1 453.1 202.6 453.3 177.4 453.5 192.9 453.5 186.7 453.7 210.8 454.0 206.5 454.0 204.6 454.1 219.5 454.2 194.6 454.5 204.4 454.5 207.1 454.6 193.8 454.9 219.6 455.0 219.4 455.0 205.6 455.1 216.8 455.3 193.4 455.5 196.9 455.5 206.2 455.8 184.0 456.0 189.6 456.0 196.7 456.4 166.1 456.5 169.8 456.5 173.0 456.5 177.0 456.8 145.6 457.0 158.3 457.0 165.9 457.0 172.6 457.4 152.3 457.5 156.3 457.5 149.8 457.7 165.3 457.8 142.7 458.0 151.3 458.0 159.2 458.1 144.0 458.3 165.9 458.5 162.5 458.5 156.8 458.6 173.6 458.8 149.9 459.0 152.3 459.0 148.5 459.0 140.0 459.4 167.6 459.5 152.2 459.5 150.6 459.6 146.3 459.7 171.6 460.0 155.4 460.0 155.6 460.1 146.8 460.4 169.5 460.5 164.9 460.5 165.1 460.7 168.0 460.9 152.7 461.0 163.5 461.0 173.0 461.1 161.1 461.4 188.8 461.5 165.1 461.5 161.3 461.8 194.3 462.0 191.3 462.0 187.9 462.3 181.9 462.4 199.8 462.5 198.3 462.5 202.8 462.6 213.6 462.7 191.1 463.0 204.6 463.0 207.6 463.1 216.0 463.5 179.3 463.5 192.8 463.5 197.4 463.7 180.5 463.9 204.1 464.0 187.3 464.0 186.5 464.0 174.8 464.1 192.2 464.5 187.9 464.5 179.1 464.8 191.9 464.9 165.2 465.0 190.1 465.0 177.4 465.2 184.9 465.5 163.3 465.5 159.0 465.6 149.0 465.7 176.5 466.0 164.6 466.0 164.5 466.1 177.0 466.2 152.8 466.5 161.2 466.5 149.6 466.8 179.9 467.0 178.6 467.0 170.6 467.2 163.7 467.3 180.1 467.5 166.2 467.5 166.0 467.7 170.8 467.9 153.8 468.0 161.7 468.0 171.2 468.1 181.6 468.4 157.5 468.5 168.4 468.5 182.1 468.6 159.3 469.0 173.6 469.0 188.8 469.3 159.3 469.5 171.6 469.5 177.7 469.6 165.2 469.9 191.7 470.0 180.9 470.0 183.0 470.1 178.5 470.4 210.5 470.5 208.0 470.5 199.7 470.7 184.0 470.9 207.9 471.0 197.7 471.0 200.7 471.3 189.1 471.4 207.7 471.5 202.8 471.5 211.9 471.6 185.7 471.8 214.2 472.0 193.9 472.0 187.2 472.3 176.5 472.4 195.3 472.5 188.3 472.5 177.9 472.7 192.0 472.9 173.1 473.0 181.9 473.0 184.8 473.5 159.8 473.5 167.5 473.5 159.6 473.6 156.0 473.9 185.6 474.0 163.2 474.0 170.2 474.2 154.8 474.4 179.0 474.5 169.5 474.5 173.8 474.7 153.0 475.0 158.4 475.0 154.8 475.0 153.0 475.3 169.6 475.5 155.2 475.5 163.1 475.6 149.4 475.7 164.8 476.0 159.5 476.0 173.0 476.0 177.4 476.2 146.6 476.5 166.7 476.5 164.8 476.7 156.4 477.0 179.1 477.0 176.0 477.0 185.1 477.5 155.2 477.5 163.6 477.9 187.6 478.0 175.6 478.0 175.2 478.4 201.2 478.5 178.2 478.5 180.5 478.9 211.8 479.0 207.0 479.0 205.7 479.1 216.7 479.3 197.1 479.5 208.6 479.5 219.0 479.6 192.9 480.0 193.3 480.0 183.2 480.1 209.5 480.5 192.1 480.5 193.0 480.5 199.4 480.9 176.4 481.0 183.0 481.0 185.1 481.1 196.4 481.5 167.4 481.5 179.8 481.6 162.1 481.9 180.2 482.0 177.6 482.0 173.3 482.1 148.5 482.2 173.8 482.5 158.4 482.5 157.0 482.9 178.6 483.0 168.6 483.0 170.3 483.1 154.4 483.4 176.8 483.5 170.2 483.5 165.0 483.5 175.0 483.8 147.4 484.0 158.6 484.0 159.5 484.1 164.3 484.5 146.4 484.5 157.4 484.5 153.1 484.6 174.7 485.0 157.7 485.0 157.5 485.1 177.3 485.3 155.6 485.5 162.8 485.5 151.2 485.6 145.7 485.8 169.1 486.0 169.0 486.0 165.5 486.4 186.4 486.5 172.7 486.5 170.8 486.6 167.8 487.0 194.4 487.0 194.3 487.0 185.6 487.0 177.8 487.5 217.8 487.5 208.7 487.5 201.4 487.7 184.0 487.8 211.3 488.0 202.3 488.0 197.5 488.2 178.9 488.3 205.2 488.5 195.6 488.5 202.7 488.7 213.6 488.9 175.0 489.0 183.1 489.0 189.7 489.0 195.2 489.5 159.4 489.5 159.5 489.5 162.8 489.6 183.8 489.9 159.0 490.0 165.7 490.0 154.0 490.0 175.0 490.2 151.7 490.5 162.6 490.5 164.7 490.6 153.7 490.8 176.8 491.0 157.1 491.0 153.3 491.3 173.4 491.5 146.4 491.5 146.6 491.5 161.6 491.7 181.1 492.0 154.7 492.0 155.1 492.0 158.0 492.2 169.7 492.4 154.0 492.5 159.5 492.5 149.2 492.7 173.2 493.0 169.8 493.0 169.6 493.1 151.9 493.2 176.8 493.5 158.1 493.5 171.9 493.7 152.6 493.8 172.6 494.0 166.2 494.0 168.9 494.2 162.8 494.5 190.2 494.5 183.3 494.5 179.0 494.6 172.2 494.7 202.9 495.0 191.2 495.0 189.2 495.2 213.6 495.5 208.1 495.5 217.9 495.8 200.9 495.9 221.6 496.0 209.7 496.0 218.2 496.1 223.8 496.4 198.5 496.5 211.1 496.5 215.7 496.7 220.6 496.8 190.3 497.0 213.5 497.0 210.3 497.1 211.6 497.4 186.2 497.5 186.5 497.5 177.9 497.8 193.5 497.9 168.3 498.0 180.4 498.0 185.1 498.4 164.1 498.5 185.7 498.5 173.4 498.8 162.5 498.9 183.9 499.0 168.8 499.0 163.4 499.4 151.4 499.5 171.7 499.5 169.2 499.6 180.5 499.7 157.0 500.0 164.7 500.0 169.7 500.1 185.4 500.2 153.5 500.5 179.5 500.5 165.3 500.6 154.3 501.0 190.8 501.0 180.4 501.0 180.8 501.4 160.8 501.5 173.8 501.5 164.9 501.7 153.4 501.9 175.8 502.0 164.3 502.0 174.3 502.1 166.0 502.5 183.4 502.5 177.5 502.5 175.1 502.6 193.6 503.0 181.8 503.0 188.1 503.1 185.8 503.4 206.1 503.5 197.7 503.5 199.8 503.5 193.4 503.7 220.9 504.0 202.8 504.0 208.1 504.0 222.1 504.4 200.1 504.5 201.0 504.5 199.8 504.9 196.4 505.0 221.8 505.0 208.0 505.0 207.6 505.1 224.4 505.4 189.1 505.5 192.7 505.5 201.5 505.6 207.4 505.8 173.2 506.0 181.2 506.2 187.4 506.4 157.7 506.5 167.1 506.5 167.4 506.8 181.6 506.9 166.4 507.0 174.1 507.0 166.4 507.1 156.0 507.4 176.6 507.5 163.4 507.5 154.0 507.9 152.4 507.9 171.1 508.0 168.0 508.0 167.1 508.2 146.4 508.5 161.7 508.5 159.6 508.7 172.7 509.0 145.9 509.0 147.3 509.0 144.8 509.5 168.5 509.5 164.5 509.5 167.2 509.7 148.0 510.0 166.8 510.0 167.6 510.2 182.0 510.4 159.3 510.5 165.6 510.5 161.5 510.7 190.5 510.8 160.2 511.0 171.4 511.0 168.7 511.2 195.2 511.5 190.2 511.5 192.8 511.8 187.3 511.8 211.2 512.0 197.4 512.0 196.4 512.2 220.6 512.3 185.6 512.5 208.5 512.5 206.6 512.6 201.3 512.8 217.4 513.0 208.4 513.0 214.1 513.0 220.8 513.4 195.2 513.5 200.8 513.5 191.3 513.6 183.9 513.9 205.2 514.0 191.4 514.0 197.0 514.0 205.1 514.2 174.8 514.5 186.0 514.5 189.5 514.9 156.4 515.0 164.6 515.0 162.9 515.2 145.3 515.3 176.2 515.5 165.4 515.5 172.6 515.9 151.6 515.9 177.2 516.0 165.5 516.0 170.8 516.2 176.1 516.4 151.5 516.5 155.4 516.5 150.7 516.8 173.1 517.0 156.7 517.0 162.0 517.3 169.6 517.5 151.1 517.5 160.9 517.5 162.5 517.7 143.0 518.0 170.5 518.0 162.4 518.0 175.2 518.2 147.4 518.5 168.9 518.5 159.6 518.7 154.5 518.8 173.9 519.0 170.0 519.0 168.6 519.1 180.9 519.3 162.7 519.5 170.1 519.5 183.3 519.6 168.6 520.0 193.7 520.0 186.6 520.0 189.1 520.0 175.4 520.2 206.7 520.5 199.5 520.5 203.0 520.8 195.9 521.0 218.9 521.0 210.3 521.0 210.8 521.2 219.6 521.5 195.0 521.5 205.1 521.9 178.1 522.0 185.2 522.0 173.1 522.1 190.2 522.3 165.0 522.5 174.4 522.5 174.6 522.6 178.9 523.0 159.3 523.0 167.7 523.0 166.5 523.2 172.1 523.3 147.2 523.5 151.4 523.5 155.0 523.8 144.0 523.9 167.7 524.0 157.1 524.0 161.3 524.3 166.8 524.4 142.8 524.5 157.1 524.5 157.3 524.6 167.1 524.8 146.7 525.0 155.8 525.0 167.8 525.0 169.3 525.3 145.5 525.5 150.2 525.5 156.1 525.6 166.4 525.7 145.2 526.0 157.4 526.0 155.8 526.1 167.3 526.4 146.4 526.5 155.6 526.5 156.3 526.6 140.4 526.8 166.7 527.0 165.4 527.0 168.6 527.1 159.7 527.2 185.0 527.5 176.3 527.5 165.7 527.5 157.4 527.7 194.2 528.0 179.7 528.0 193.4 528.1 180.7 528.4 207.2 528.5 202.4 528.5 197.7 528.5 191.9 528.8 212.0 529.0 209.8 529.0 208.8 529.2 210.1 529.4 189.9 529.5 200.6 529.5 204.8 529.6 219.0 529.9 187.9 530.0 196.5 530.0 191.8 530.3 180.8 530.4 196.1 530.5 190.1 530.5 186.8 530.6 197.6 530.8 164.8 531.0 173.2 531.0 166.8 531.1 158.9 531.3 182.0 531.5 162.1 531.5 169.5 531.7 175.6 532.0 146.0 532.0 148.8 532.3 146.3 532.3 173.1 532.5 166.7 532.5 163.4 532.8 152.4 533.0 173.9 533.0 169.8 533.0 163.5 533.4 178.0 533.5 152.1 533.5 153.4 533.9 166.6 534.0 158.1 534.0 162.3 534.3 150.3 534.4 171.4 534.5 165.3 534.5 161.8 534.7 157.9 535.0 175.1 535.0 172.7 535.1 155.8 535.3 182.6 535.5 170.2 535.5 172.4 535.5 168.6 535.9 190.5 536.0 173.3 536.0 183.3 536.1 170.9 536.3 197.8 536.5 184.5 536.5 196.3 536.8 217.5 537.0 206.7 537.0 204.8 537.2 219.0 537.4 195.8 537.5 216.9 537.5 205.0 537.8 201.9 537.8 214.9 538.0 206.8 538.0 199.5 538.2 186.3 538.4 211.5 538.5 200.8 538.5 197.7 538.6 205.0 539.0 173.5 539.0 180.5 539.0 179.6 539.2 184.8 539.5 164.1 539.5 176.0 539.5 181.1 540.0 148.7 540.0 151.1 540.0 149.4 540.2 177.1 540.5 159.2 540.5 151.5 540.7 144.4 540.9 163.3 541.0 156.8 541.0 156.3 541.2 163.9 541.4 143.2 541.5 160.3 541.5 150.9 541.6 148.2 541.8 169.9 542.0 157.4 542.0 159.9 542.1 146.3 542.1 162.4 542.5 150.2 542.5 145.1 542.6 169.7 542.7 141.6 543.0 151.7 543.0 149.5 543.4 141.6 543.5 165.4 543.5 158.2 543.5 160.8 543.8 153.5 544.0 181.6 544.0 178.4 544.0 170.8 544.2 167.7 544.3 183.5 544.5 182.5 544.5 190.0 544.8 178.7 544.9 204.8 545.0 200.9 545.0 196.6 545.1 187.0 545.5 217.7 545.5 215.1 545.5 221.1 545.7 201.4 545.9 221.4 546.0 202.8 546.0 198.3 546.1 223.8 546.3 193.1 546.5 201.6 546.5 198.1 546.8 217.9 547.0 180.0 547.0 189.2 547.3 171.0 547.4 192.1 547.5 189.3 547.5 185.9 547.7 186.2 548.0 164.5 548.0 175.4 548.0 167.4 548.0 175.4 548.4 149.3 548.5 164.5 548.5 159.6 548.5 149.3 549.0 166.8 549.0 155.6 549.3 150.5 549.3 167.6 549.5 157.7 549.5 156.5 549.7 141.6 549.8 173.7 550.0 162.1 550.0 160.9 550.1 149.3 550.5 166.7 550.5 152.9 550.5 159.1 550.6 152.9 550.9 174.0 551.0 167.8 551.0 164.0 551.3 142.9 551.4 166.0 551.5 153.6 551.5 158.8 551.7 149.0 551.7 178.4 552.0 162.6 552.0 168.9 552.1 157.0 552.4 190.1 552.5 178.9 552.5 174.0 552.7 169.2 553.0 196.4 553.0 189.8 553.0 188.7 553.0 183.4 553.2 209.1 553.5 201.9 553.5 203.9 553.6 212.4 554.0 190.9 554.0 201.8 554.0 201.7 554.1 215.4 554.5 188.9 554.5 194.2 554.5 195.3 554.7 183.5 554.9 214.5 555.0 192.3 555.0 195.8 555.1 197.6 555.5 177.8 555.5 176.6 555.6 188.2 555.9 166.2 556.0 173.6 556.0 170.4 556.2 181.0 556.4 153.4 556.5 164.3 556.5 176.1 556.9 148.6 557.0 156.9 557.0 149.2 557.3 139.4 557.5 173.4 557.5 166.4 557.5 157.1 557.7 148.3 557.9 166.7 558.0 150.9 558.0 151.6 558.0 149.6 558.1 170.9 558.5 154.8 558.5 156.7 558.6 171.3 559.0 146.7 559.0 149.7 559.0 153.9 559.3 170.6 559.4 145.3 559.5 159.8 559.5 164.0 559.7 152.8 559.9 179.9 560.0 160.5 560.0 161.0 560.1 159.1 560.1 179.8 560.5 173.6 560.5 163.4 560.6 162.1 561.0 189.9 561.0 188.9 561.1 179.0 561.2 198.8 561.5 196.6 561.5 191.6 561.6 208.2 561.9 187.5 562.0 201.4 562.0 209.6 562.1 195.8 562.4 214.8 562.5 197.4 562.5 188.6 562.8 211.1 563.0 196.1 563.0 198.0 563.0 212.1 563.3 182.9 563.5 201.5 563.5 200.2 563.6 209.8 564.0 179.8 564.0 183.0 564.1 190.2 564.3 171.4 564.5 175.2 564.5 172.5 564.6 157.4 564.8 174.6 565.0 169.6 565.0 169.1 565.1 177.8 565.4 149.1 565.5 170.2 565.5 167.4 565.6 162.4 565.9 187.4 566.0 170.8 566.0 175.9 566.0 182.5 566.4 153.7 566.5 160.4 566.5 173.7 566.9 156.5 567.0 168.4 567.0 165.5 567.1 154.8 567.3 180.2 567.5 158.6 567.5 161.0 567.8 179.8 568.0 157.4 568.0 157.2 568.0 146.6 568.1 175.3 568.5 167.6 568.5 163.9 568.7 189.6 569.0 171.6 569.0 172.1 569.4 190.6 569.5 168.9 569.5 174.5 569.5 172.3 569.9 197.7 570.0 193.8 570.0 204.3 570.3 191.0 570.4 216.6 570.5 211.0 570.5 199.5 570.5 187.0 570.8 213.8 571.0 191.3 571.0 201.5 571.1 213.5 571.5 182.1 571.5 189.6 571.6 202.1 572.0 179.3 572.0 186.3 572.0 186.7 572.0 191.9 572.4 158.9 572.5 159.8 572.5 160.9 572.7 173.5 572.8 151.8 573.0 172.3 573.0 163.6 573.1 144.7 573.4 174.0 573.5 163.2 573.5 156.4 573.6 163.3 573.7 142.7 574.0 150.7 574.0 145.0 574.2 153.1 574.4 137.3 574.5 146.5 574.5 154.6 574.5 161.4 574.6 137.8 575.0 154.0 575.0 156.6 575.3 142.1 575.5 164.7 575.5 159.9 575.5 154.9 575.6 142.5 575.8 163.4 576.0 146.1 576.0 148.7 576.1 162.0 576.2 138.5 576.5 143.5 576.5 154.5 576.8 146.1 576.9 165.8 577.0 151.1 577.0 162.6 577.1 153.7 577.5 184.7 577.5 174.7 577.6 173.0 578.0 199.6 578.0 194.8 578.1 182.7 578.4 204.5 578.5 193.4 578.5 196.3 578.5 195.9 578.6 219.6 579.0 202.0 579.0 202.4 579.1 192.0 579.2 211.1 579.5 197.1 579.5 196.0 579.7 208.6 579.9 188.4 580.0 199.0 580.0 202.6 580.0 204.5 580.4 175.2 580.5 177.6 580.5 174.4 580.6 178.2 580.9 154.4 581.0 163.8 581.0 166.5 581.0 177.0 581.3 145.8 581.5 165.6 581.5 160.4 581.8 138.5 581.9 176.8 582.0 159.8 582.0 159.6 582.4 139.4 582.5 150.4 582.5 154.0 582.6 145.9 582.9 169.7 583.0 166.2 583.0 164.5 583.3 167.2 583.4 147.8 583.5 154.8 583.5 158.6 583.5 170.5 583.8 138.6 584.0 160.6 584.0 159.9 584.1 142.6 584.3 160.4 584.5 157.5 584.5 156.8 584.7 168.2 584.9 142.7 585.0 147.1 585.0 155.4 585.1 154.5 585.5 176.8 585.5 168.7 585.5 170.5 585.8 186.0 586.0 164.2 586.0 168.7 586.4 206.7 586.5 193.6 586.5 191.7 586.6 206.7 586.8 188.0 587.0 188.4 587.0 193.6 587.2 216.0 587.5 183.2 587.5 193.2 587.7 198.8 588.0 177.3 588.0 187.5 588.0 184.1 588.1 198.7 588.4 165.4 588.5 186.0 588.5 172.4 588.6 175.4 588.8 156.6 589.0 159.1 589.0 159.6 589.1 172.2 589.4 145.6 589.5 164.8 589.5 158.6 589.8 168.5 589.9 140.2 590.0 161.8 590.0 159.9 590.3 142.2 590.4 161.8 590.5 148.3 590.5 152.6 590.7 143.2 591.0 167.5 591.0 155.4 591.1 147.1 591.4 175.8 591.5 158.6 591.5 159.3 591.9 149.1 592.0 174.6 592.0 161.5 592.1 171.1 592.5 140.0 592.5 154.9 592.5 167.8 592.7 148.3 593.0 150.1 593.0 153.7 593.1 145.3 593.2 174.4 593.5 163.8 593.5 172.2 593.6 162.1 594.0 187.0 594.0 192.4 594.3 170.0 594.5 176.5 594.5 184.5 594.5 181.2 594.8 201.1 595.0 188.1 595.0 196.0 595.3 174.3 595.4 206.4 595.5 197.9 595.5 208.2 595.6 182.8 595.9 211.2 596.0 207.2 596.0 201.7 596.1 189.0 596.2 207.1 596.5 201.9 596.5 191.7 596.5 196.8 596.8 173.3 597.0 176.3 597.0 181.7 597.0 188.4 597.4 151.2 597.5 161.1 597.5 172.4 597.6 178.5 597.9 151.1 598.0 158.3 598.0 161.7 598.2 147.3 598.5 168.5 598.5 163.4 598.5 158.7 598.6 177.1 598.9 143.0 599.0 152.0 599.0 155.6 599.1 174.5 599.3 148.8 599.5 157.9 599.5 157.8 599.5 144.6 599.7 169.3 600.0 148.2 600.0 156.1 600.1 166.6 600.3 143.6 600.5 166.5 600.5 167.2 600.7 142.4 601.0 171.2 601.0 167.8 601.0 169.4 601.3 148.4 601.5 171.8 601.5 165.1 601.5 157.6 601.6 181.5 602.0 166.2 602.0 176.6 602.2 164.2 602.5 189.4 602.5 177.7 602.7 173.2 603.0 189.7 603.0 179.9 603.0 181.3 603.4 206.9 603.5 194.2 603.5 194.1 603.8 187.2 603.9 212.8 604.0 204.9 604.0 199.1 604.2 216.0 604.4 187.9 604.5 191.0 604.5 197.6 604.8 169.2 605.0 191.4 605.0 187.3 605.2 189.1 605.4 160.5 605.5 185.5 605.5 192.8 605.7 148.5 606.0 158.0 606.0 162.2 606.1 174.2 606.5 157.1 606.5 155.0 606.9 170.6 607.0 150.4 607.0 156.7 607.0 160.3 607.2 168.9 607.3 152.4 607.5 168.0 607.5 163.7 607.6 143.2 608.0 152.9 608.0 148.2 608.0 146.2 608.3 169.9 608.5 164.6 608.5 164.2 608.7 169.2 608.9 146.0 609.0 152.4 609.0 160.3 609.2 169.6 609.4 142.4 609.5 149.2 609.5 147.0 609.7 168.2 610.0 168.0 610.0 160.9 610.2 184.6 610.5 176.3 610.5 172.1 610.8 163.2 611.0 193.0 611.0 180.2 611.0 175.5 611.3 198.5 611.5 192.7 611.5 193.6 611.6 177.7 612.0 196.5 612.0 198.5 612.0 216.0 612.4 182.9 612.5 191.5 612.5 185.8 612.7 194.9 612.8 174.3 613.0 181.4 613.0 189.1 613.1 195.5 613.4 158.4 613.5 171.1 613.5 174.4 613.7 174.9 613.9 153.5 614.0 164.4 614.0 169.4 614.3 147.6 614.4 174.4 614.5 159.3 614.5 150.3 614.7 141.9 615.0 169.6 615.0 167.5 615.0 164.8 615.2 138.2 615.5 144.7 615.5 148.9 615.8 170.0 615.8 146.7 616.0 148.6 616.0 150.9 616.1 142.5 616.3 167.8 616.5 160.3 616.5 156.1 616.7 166.8 616.9 146.1 617.0 146.7 617.0 144.3 617.1 141.0 617.4 159.6 617.5 152.1 617.5 149.5 617.9 169.7 618.0 167.3 618.0 163.2 618.1 156.7 618.4 183.1 618.5 166.5 618.5 172.0 618.8 164.5 618.9 201.8 619.0 188.1 619.0 194.5 619.3 205.4 619.4 178.4 619.5 197.2 619.5 192.1 619.6 209.2 619.8 186.3 620.0 207.7 620.0 208.5 620.2 216.0 620.5 196.7 620.5 200.4 620.8 212.6 621.0 196.6 621.0 196.9 621.0 204.3 621.1 208.4 621.4 188.7 621.5 196.4 621.5 208.3 621.9 173.7 622.0 185.4 622.0 186.7 622.3 189.8 622.5 166.7 622.5 172.8 622.5 175.8 622.6 156.1 622.8 180.9 623.0 173.8 623.0 178.3 623.1 187.1 623.5 158.6 623.5 168.0 623.5 164.0 623.7 185.5 624.0 157.7 624.0 160.3 624.0 174.1 624.1 187.6 624.5 147.8 624.5 156.4 624.6 153.2 624.7 179.9 625.0 170.1 625.0 163.6 625.2 155.0 625.4 179.8 625.5 168.9 625.5 159.7 625.7 153.4 625.9 179.5 626.0 173.9 626.0 170.0 626.3 156.2 626.5 179.8 626.5 175.4 626.5 169.6 626.6 190.2 626.8 164.0 627.0 185.2 627.0 185.3 627.1 166.0 627.3 198.4 627.5 178.0 627.5 188.4 627.7 179.0 628.0 206.2 628.0 198.4 628.0 206.0 628.1 213.6 628.2 181.2 628.5 204.3 628.5 202.2 628.6 183.7 628.8 209.0 629.0 193.0 629.0 193.6 629.2 209.6 629.5 183.4 629.5 188.7 629.5 180.1 629.5 199.2 629.8 170.7 630.0 192.7 630.0 192.5 630.0 198.2 630.4 163.4 630.5 166.4 630.5 166.7 630.7 182.1 631.0 150.4 631.0 158.7 631.2 171.6 631.5 147.1 631.5 158.0 631.5 156.6 631.7 144.1 631.9 170.5 632.0 155.8 632.0 151.7 632.0 143.1 632.4 169.4 632.5 156.7 632.5 162.7 632.7 169.5 632.9 147.8 633.0 153.2 633.0 156.2 633.2 143.0 633.5 159.9 633.5 150.2 633.5 154.8 633.7 145.6 633.9 165.8 634.0 151.3 634.0 156.6 634.1 146.3 634.4 161.5 634.5 155.5 634.5 158.6 634.6 146.1 634.8 160.8 635.0 156.0 635.0 160.7 635.0 160.0 635.4 185.4 635.5 170.7 635.5 172.4 635.6 164.0 635.9 195.2 636.0 174.2 636.0 182.5 636.2 200.1 636.4 179.8 636.5 198.2 636.5 200.2 636.6 209.5 636.8 187.0 637.0 190.2 637.0 184.7 637.3 211.8 637.5 176.3 637.5 178.9 637.6 204.0 638.0 182.4 638.0 191.0 638.1 163.2 638.5 176.7 638.5 173.9 638.6 154.6 639.0 167.6 639.0 161.0 639.1 144.2 639.4 170.9 639.5 154.7 639.5 160.5 639.8 141.2 639.9 174.2 640.0 160.0 640.0 156.5 640.1 175.5 640.4 144.6 640.5 151.4 640.5 156.7 640.7 164.7 640.9 144.0 641.0 155.2 641.0 157.2 641.1 146.1 641.3 166.0 641.5 151.4 641.5 154.4 641.8 142.5 641.8 179.3 642.0 154.1 642.0 147.5 642.0 144.2 642.4 173.9 642.5 158.6 642.5 159.2 642.7 151.4 643.0 167.2 643.0 166.6 643.0 170.0 643.3 176.2 643.4 161.0 643.5 172.5 643.5 177.3 643.7 163.5 644.0 194.1 644.0 192.9 644.0 182.2 644.1 181.4 644.5 211.1 644.5 204.6 644.5 190.0 645.0 219.5 645.0 205.5 645.1 192.9 645.3 221.4 645.5 212.2 645.5 209.0 645.6 220.3 645.9 196.2 646.0 216.0 646.0 211.3 646.1 217.0 646.5 176.3 646.5 188.9 646.5 186.8 646.8 197.3 647.0 167.0 647.0 176.6 647.1 164.2 647.3 179.6 647.5 167.5 647.5 167.7 647.6 182.3 647.7 155.8 648.0 159.9 648.0 157.0 648.4 170.5 648.5 143.8 648.5 157.3 648.7 153.4 648.9 170.8 649.0 158.4 649.0 164.2 649.1 153.8 649.5 169.8 649.5 162.1 649.5 160.1 649.7 170.0 649.8 148.6 650.0 163.9 650.0 163.0 650.3 141.8 650.4 167.5 650.5 159.2 650.5 160.1 650.7 181.1 650.8 149.9 651.0 160.2 651.0 155.0 651.2 177.9 651.5 162.3 651.5 161.5 652.0 178.3 652.0 170.7 652.0 168.3 652.2 163.6 652.4 185.8 652.5 180.0 652.5 183.0 652.7 166.6 652.8 197.1 653.0 181.0 653.0 183.4 653.3 179.9 653.4 207.6 653.5 200.5 653.5 200.9 653.7 201.6 653.9 178.5 654.0 194.5 654.0 192.7 654.2 196.0 654.4 174.1 654.5 191.8 654.5 192.8 654.7 165.9 655.0 184.3 655.0 175.8 655.1 185.4 655.3 157.1 655.5 169.5 655.5 165.6 655.5 154.0 655.9 174.3 656.0 162.5 656.0 159.6 656.1 169.8 656.3 140.9 656.5 163.2 656.5 164.6 656.7 141.7 656.8 172.1 657.0 145.0 657.0 150.4 657.1 144.5 657.5 166.1 657.5 162.2 657.8 146.6 657.9 165.1 658.0 150.6 658.0 157.1 658.2 166.7 658.3 146.1 658.5 152.9 658.5 151.3 658.7 169.1 658.8 144.3 659.0 158.2 659.0 164.3 659.1 173.9 659.1 150.4 659.5 163.9 659.5 167.5 659.6 179.3 659.9 150.8 660.0 171.8 660.0 166.5 660.3 159.6 660.4 185.9 660.5 184.9 660.5 186.6 660.7 175.9 660.8 198.3 661.0 190.8 661.0 205.2 661.2 181.4 661.5 206.1 661.5 201.9 661.7 186.5 662.0 211.5 662.0 206.5 662.1 213.0 662.3 194.7 662.5 202.2 662.5 202.8 662.5 205.7 662.6 178.4 663.0 187.0 663.0 183.3 663.3 187.7 663.4 168.1 663.5 175.6 663.5 183.2 663.6 159.7 664.0 169.0 664.0 166.3 664.0 167.9 664.3 146.0 664.5 154.7 664.5 164.7 664.5 165.6 664.9 147.4 665.0 154.5 665.0 161.9 665.1 142.7 665.4 172.3 665.5 161.4 665.5 165.4 665.8 144.1 666.0 152.6 666.0 154.4 666.1 168.1 666.2 140.6 666.5 155.3 666.5 148.8 666.7 175.4 666.8 147.2 667.0 171.5 667.0 158.5 667.0 153.5 667.2 173.9 667.5 162.7 667.5 168.2 667.7 181.1 667.8 150.5 668.0 156.0 668.0 152.2 668.3 178.4 668.5 173.0 668.5 173.6 668.6 163.4 668.8 200.3 669.0 165.4 669.0 175.0 669.0 171.6 669.4 200.6 669.5 188.9 669.5 198.1 669.6 173.7 669.9 207.6 670.0 198.0 670.0 203.3 670.2 204.7 670.4 188.1 670.5 197.9 670.5 190.8 670.6 196.1 670.8 171.0 671.0 192.0 671.0 184.1 671.2 196.6 671.4 172.0 671.5 179.2 671.5 179.7 671.6 188.2 671.7 157.6 672.0 171.1 672.0 169.6 672.0 183.0 672.5 145.5 672.5 157.6 672.7 163.4 672.7 150.1 673.0 157.2 673.0 153.1 673.3 164.9 673.4 140.4 673.5 146.2 673.5 135.9 673.9 166.9 674.0 163.4 674.0 166.0 674.1 142.8 674.3 167.4 674.5 161.1 674.5 170.0 674.6 146.8 675.0 157.1 675.0 157.8 675.2 161.4 675.4 135.6 675.5 157.9 675.5 152.3 675.8 160.4 675.8 137.2 676.0 149.8 676.0 153.5 676.4 152.4 676.5 182.4 676.5 180.0 676.5 178.5 676.6 154.7 677.0 160.1 677.0 169.2 677.5 191.7 677.5 180.8 677.5 176.5 677.8 199.4 678.0 188.8 678.0 193.4 678.5 181.5 678.5 201.1 678.5 196.2 678.7 210.6 679.0 189.9 679.0 193.7 679.1 202.2 679.5 167.6 679.5 187.5 679.5 184.7 679.7 188.6 679.9 168.9 680.0 176.6 680.0 168.0 680.1 178.0 680.3 151.9 680.5 173.1 680.5 167.4 680.5 177.2 680.8 156.4 681.0 163.4 681.0 171.8 681.2 155.9 681.5 156.9 681.5 153.1 681.6 163.9 681.8 146.5 682.0 152.9 682.0 150.4 682.3 176.3 682.5 163.0 682.5 168.6 682.6 150.6 682.8 179.6 683.0 168.6 683.0 174.7 683.4 143.0 683.5 161.6 683.5 166.0 683.8 143.2 683.9 168.5 684.0 156.6 684.0 155.4 684.1 180.6 684.5 175.9 684.5 168.8 684.5 155.0 684.9 180.7 685.0 173.1 685.0 173.4 685.1 164.4 685.3 197.9 685.5 192.9 685.5 186.4 685.6 179.4 685.8 197.1 686.0 195.9 686.0 194.6 686.2 194.2 686.5 208.9 686.5 202.1 686.5 205.0 686.7 216.6 686.8 197.0 687.0 213.0 687.3 182.5 687.5 196.7 687.5 192.5 687.6 206.1 687.9 183.2 688.0 186.0 688.0 181.7 688.0 194.5 688.2 169.7 688.5 184.0 688.5 165.7 688.5 160.9 688.7 191.1 689.0 162.5 689.0 167.1 689.1 177.7 689.3 150.2 689.5 160.1 689.5 153.3 689.6 172.5 689.8 150.7 690.0 159.9 690.0 161.3 690.0 174.3 690.5 154.1 690.5 159.3 690.7 165.5 690.8 142.1 691.0 162.5 691.0 159.7 691.0 157.5 691.2 181.6 691.5 162.6 691.7 176.4 691.8 152.4 692.0 165.2 692.0 169.5 692.2 177.9 692.5 154.0 692.5 154.3 692.7 140.0 693.0 186.2 693.0 185.6 693.0 189.4 693.3 159.8 693.5 169.5 693.5 168.6 693.6 165.1 693.9 196.2 694.0 181.4 694.0 179.6 694.0 176.8 694.4 219.0 694.5 206.9 694.5 207.8 694.6 195.3 694.7 212.2 695.0 206.7 695.0 209.5 695.3 216.6 695.4 193.4 695.5 197.3 695.5 203.6 695.7 216.7 695.9 185.7 696.0 192.8 696.0 187.1 696.1 172.4 696.3 195.0 696.5 183.2 696.5 174.3 696.6 183.4 696.8 152.7 697.0 180.8 697.0 170.5 697.1 171.3 697.5 154.7 697.5 163.0 697.5 158.1 697.9 170.6 698.0 148.7 698.0 149.7 698.0 144.9 698.4 175.0 698.5 154.4 698.5 151.9 698.6 147.4 698.7 176.4 699.0 148.3 699.0 155.0 699.1 186.9 699.4 149.4 699.5 163.9 699.5 163.0 699.6 172.0 699.8 153.4 700.0 155.4 700.0 158.1 700.2 174.9 700.4 144.8 700.5 163.9 700.5 162.0 700.6 177.1 700.9 157.5 701.0 158.2 701.0 173.2 701.1 190.0 701.3 160.3 701.5 175.6 701.5 173.9 701.6 163.8 702.0 200.5 702.0 198.9 702.0 187.5 702.1 180.2 702.3 202.4 702.5 198.3 702.5 197.6 702.8 177.2 702.9 214.2 703.0 195.8 703.0 195.4 703.1 212.1 703.4 191.7 703.5 198.5 703.5 202.4 703.7 181.6 704.0 213.6 704.0 198.0 704.0 196.6 704.2 200.8 704.4 178.7 704.5 181.9 704.5 179.9 704.6 163.4 704.9 187.9 705.0 177.2 705.0 177.9 705.1 180.3 705.5 152.1 705.5 155.0 705.5 161.4 705.5 171.2 705.8 150.2 706.0 163.9 706.0 166.0 706.0 168.4 706.5 146.5 706.5 153.0 706.5 144.6 706.7 175.5 706.8 142.9 707.0 166.9 707.0 173.3 707.2 144.0 707.5 158.3 707.5 163.2 707.5 165.3 707.8 137.6 708.0 160.9 708.0 160.8 708.2 165.4 708.4 146.5 708.5 148.1 708.5 158.8 708.6 144.1 708.8 165.3 709.0 151.4 709.0 159.4 709.3 151.0 709.5 181.1 709.5 170.2 709.5 167.4 709.5 155.4 710.0 191.3 710.0 190.8 710.0 184.7 710.1 170.2 710.4 200.7 710.5 172.5 710.5 167.0 710.8 208.7 711.0 198.2 711.0 201.5 711.0 189.4 711.2 213.0 711.5 198.2 711.5 198.9 711.6 207.1 711.9 188.5 712.0 205.8 712.0 198.2 712.1 205.6 712.4 179.0 712.5 186.6 712.5 181.3 712.7 192.6 712.9 171.5 713.0 182.4 713.0 176.9 713.0 182.7 713.2 155.7 713.5 163.4 713.5 168.4 713.7 179.8 714.0 147.3 714.0 160.5 714.0 142.0 714.3 167.9 714.5 144.6 714.5 144.4 714.8 168.3 714.9 140.6 715.0 153.4 715.0 159.5 715.1 139.4 715.5 170.9 715.5 170.7 715.9 148.4 716.0 165.1 716.0 166.6 716.5 140.7 716.5 141.3 716.7 167.0 717.0 139.4 717.0 153.0 717.3 165.2 717.4 151.1 717.5 158.1 717.5 153.0 717.6 148.6 718.0 181.9 718.0 170.6 718.2 156.7 718.5 181.2 718.5 174.3 718.9 196.3 719.0 182.8 719.0 189.7 719.2 175.8 719.5 196.0 719.5 192.5 719.5 197.9 719.8 182.0 720.0 202.9 720.0 200.3 720.3 205.2 720.5 185.1 720.5 190.4 720.5 193.1 720.7 177.2 721.0 184.3 721.0 178.6 721.3 193.3 721.5 165.3 721.5 165.4 721.7 178.6 721.9 156.9 722.0 171.0 722.0 170.0 722.2 170.3 722.3 154.5 722.5 164.0 722.5 167.1 722.7 144.2 723.0 149.4 723.0 150.9 723.0 144.1 723.3 166.4 723.5 159.4 723.5 158.8 723.5 142.9 723.9 168.0 724.0 158.7 724.0 166.0 724.3 172.2 724.3 153.3 724.5 165.4 724.5 162.0 724.7 140.6 725.0 161.9 725.0 146.5 725.4 164.1 725.5 149.0 725.5 150.0 725.7 149.7 725.8 164.1 726.0 161.3 726.0 163.6 726.2 177.7 726.3 155.5 726.5 164.2 726.5 169.7 726.7 160.6 726.9 183.1 727.0 182.5 727.0 183.5 727.1 169.7 727.4 191.8 727.5 178.6 727.5 185.2 727.7 166.0 727.9 194.7 728.0 187.4 728.0 185.9 728.2 207.0 728.3 176.4 728.5 202.2 728.5 195.0 728.6 204.0 728.8 169.5 729.0 183.4 729.0 184.0 729.0 186.5 729.2 164.9 729.5 165.6 729.5 167.2 729.5 180.9 730.0 150.0 730.0 163.7 730.0 165.4 730.1 146.5 730.5 155.0 730.5 163.1 730.9 144.6 731.0 163.8 731.0 155.6 731.1 161.6 731.3 137.7 731.5 153.1 731.5 143.5 731.7 139.2 731.9 167.2 732.0 160.7 732.0 148.7 732.2 134.6 732.4 162.3 732.5 157.5 732.5 155.7 732.7 158.8 732.9 139.5 733.0 153.7 733.0 158.1 733.3 136.0 733.5 154.7 733.5 162.3 733.5 163.1 733.9 137.6 734.0 152.1 734.0 152.9 734.1 164.4 734.5 148.4 734.5 150.7 734.6 145.8 734.9 180.2 735.0 178.9 735.0 172.2 735.1 165.4 735.5 206.2 735.5 191.3 735.5 178.5 736.0 208.6 736.0 198.5 736.3 207.6 736.5 189.1 736.5 200.5 736.5 211.2 736.8 180.3 737.0 193.9 737.0 200.9 737.3 203.0 737.4 172.3 737.5 185.4 737.5 184.9 737.6 200.8 737.9 169.9 738.0 174.9 738.0 176.5 738.4 178.7 738.5 162.5 738.5 156.6 738.7 171.2 739.0 145.9 739.0 136.7 739.1 168.5 739.5 162.4 739.5 149.1 739.5 146.4 739.7 161.5 740.0 149.6 740.0 153.0 740.3 163.0 740.4 143.0 740.5 152.1 740.5 154.8 740.7 165.1 740.9 135.8 741.0 145.6 741.0 143.7 741.1 158.4 741.3 140.9 741.5 149.4 741.5 144.2 741.8 141.5 742.0 175.1 742.0 165.2 742.0 155.9 742.1 168.7 742.2 137.1 742.5 157.7 742.5 156.0 742.6 150.6 743.0 167.9 743.0 169.0 743.2 153.8 743.4 177.2 743.5 175.4 743.5 183.7 743.9 172.2 744.0 197.4 744.0 201.3 744.0 203.2 744.1 177.6 744.5 182.0 744.5 177.8 744.7 210.0 745.0 192.7 745.0 195.3 745.2 206.7 745.4 182.9 745.5 191.4 745.5 193.3 745.6 198.9 745.9 169.7 746.0 178.9 746.0 179.7 746.1 162.2 746.2 186.4 746.5 177.5 746.5 166.9 746.8 183.2 747.0 159.9 747.0 165.6 747.0 158.9 747.2 165.9 747.3 135.8 747.5 152.6 747.5 145.1 747.6 168.4 747.8 136.5 748.0 144.6 748.0 151.0 748.2 170.4 748.4 142.1 748.5 146.7 748.5 154.3 748.6 160.1 748.6 143.6 749.0 154.0 749.0 155.6 749.1 145.6 749.2 162.7 749.5 151.6 749.5 152.1 749.5 163.3 750.0 136.9 750.0 145.9 750.3 170.7 750.5 153.3 750.5 166.9 750.5 171.1 750.7 141.1 751.0 163.4 751.0 162.4 751.0 160.4 751.1 179.3 751.5 168.8 751.5 171.6 751.5 167.1 752.0 192.7 752.0 184.6 752.1 170.5 752.4 198.7 752.5 190.0 752.5 199.7 752.6 183.7 752.8 207.0 753.0 191.6 753.0 189.2 753.1 205.7 753.3 184.3 753.5 188.3 753.5 195.6 753.6 206.7 753.9 170.7 754.0 178.8 754.0 178.1 754.1 192.5 754.4 166.9 754.5 175.3 754.5 176.3 754.7 185.4 754.9 153.1 755.0 166.8 755.0 167.1 755.4 172.8 755.4 145.7 755.5 167.4 755.5 169.7 755.7 143.9 755.7 173.0 756.0 154.8 756.0 142.2 756.2 169.9 756.5 156.1 756.5 159.0 756.6 146.1 756.8 170.1 757.0 154.8 757.0 151.6 757.1 138.2 757.2 163.7 757.5 152.5 757.5 163.8 757.6 145.0 758.0 164.2 758.0 162.3 758.0 169.8 758.1 148.4 758.5 160.4 758.5 170.6 758.5 174.5 758.9 156.3 759.0 168.3 759.0 164.4 759.2 153.9 759.2 181.9 759.5 172.2 759.5 171.3 759.6 159.9 759.8 197.3 760.0 173.8 760.0 169.0 760.1 191.6 760.5 186.9 760.5 190.0 760.6 208.2 760.7 184.1 761.0 198.3 761.0 191.4 761.1 209.4 761.4 190.2 761.5 197.8 761.5 196.9 761.9 173.4 761.9 204.3 762.0 190.1 762.0 190.5 762.2 201.7 762.3 175.4 762.5 193.4 762.5 180.8 762.6 193.1 762.8 152.0 763.0 162.8 763.0 166.5 763.1 173.9 763.2 150.0 763.5 163.6 763.5 162.4 763.8 137.3 764.0 143.7 764.0 146.1 764.1 127.1 764.3 153.3 764.5 135.7 764.5 143.1 764.6 156.5 764.9 135.4 765.0 141.9 765.0 143.1 765.2 129.5 765.3 156.9 765.5 133.8 765.5 135.6 765.5 135.2 765.7 157.4 766.0 137.1 766.0 142.8 766.1 136.1 766.2 149.0 766.5 142.0 766.5 131.7 766.5 125.6 766.6 153.0 767.0 148.6 767.0 160.6 767.2 133.2 767.5 145.3 767.5 140.3 767.9 165.8 768.0 150.6 768.0 147.5 768.0 147.1 768.3 176.9 768.5 171.5 768.5 173.6 768.7 168.4 768.9 199.9 769.0 190.0 769.0 187.4 769.3 179.8 769.3 201.6 769.5 194.2 769.5 198.7 769.8 181.8 769.9 204.6 770.0 185.7 770.0 193.7 770.1 195.2 770.2 169.0 770.5 175.0 770.5 186.3 770.6 191.3 770.8 156.7 771.0 161.5 771.0 155.7 771.0 167.6 771.4 142.6 771.5 151.1 771.5 148.4 771.6 162.9 771.8 141.9 772.0 150.1 772.0 139.1 772.1 156.8 772.3 133.6 772.5 139.2 772.5 147.2 772.6 137.8 772.7 163.1 773.0 153.7 773.0 155.1 773.0 166.7 773.5 137.4 773.5 142.3 773.5 144.7 773.7 155.7 774.0 136.7 774.0 138.6 774.1 138.3 774.5 153.5 774.5 152.3 774.5 159.4 775.0 137.8 775.0 140.8 775.1 132.8 775.5 165.3 775.5 157.6 775.7 133.2 776.0 174.1 776.0 177.6 776.2 148.6 776.5 171.9 776.5 178.8 776.7 161.8 777.0 197.3 777.0 194.3 777.0 190.8 777.0 201.9 777.1 171.6 777.5 175.2 777.5 183.3 777.6 198.5 777.7 181.3 778.0 190.0 778.0 195.0 778.3 204.0 778.5 177.3 778.5 178.6 778.6 199.3 779.0 167.6 779.0 174.3 779.3 169.0 779.4 181.8 779.5 169.2 779.5 162.9 779.7 177.2 779.8 154.7 780.0 159.1 780.0 157.0 780.2 132.8 780.3 170.8 780.5 162.7 780.5 153.4 780.6 140.9 780.9 162.0 781.0 149.1 781.0 146.9 781.1 134.6 781.4 163.4 781.5 159.7 781.5 164.1 781.6 148.2 782.0 167.8 782.0 159.6 782.0 148.1 782.2 162.6 782.4 137.8 782.5 156.4 782.5 144.6 782.6 168.6 782.9 141.7 783.0 149.1 783.0 155.0 783.4 161.4 783.5 146.3 783.5 146.4 783.5 153.2 783.5 145.1 783.9 168.3 784.0 152.5 784.0 145.3 784.3 163.6 784.5 163.2 784.5 158.3 784.8 196.2 785.0 183.6 785.0 182.5 785.0 177.2 785.2 206.0 785.5 202.9 785.5 193.7 785.8 209.4 785.8 189.7 786.0 201.7 786.0 203.3 786.0 203.4 786.1 183.0 786.5 196.1 786.5 195.4 786.5 199.9 786.8 171.2 787.0 184.3 787.0 180.9 787.3 197.8 787.5 171.6 787.5 176.1 787.5 172.7 787.7 183.9 788.0 160.5 788.0 169.7 788.2 172.7 788.5 150.6 788.5 154.3 788.5 139.0 788.6 159.3 789.0 147.0 789.0 141.4 789.2 151.5 789.4 138.2 789.5 145.0 789.5 146.8 789.8 159.3 789.9 139.9 790.0 154.7 790.0 157.6 790.1 165.1 790.3 137.9 790.5 153.2 790.5 144.6 790.7 133.4 790.9 162.8 791.0 153.1 791.0 146.3 791.2 133.6 791.4 154.9 791.5 140.8 791.5 153.1 791.7 134.2 791.9 156.2 792.0 147.6 792.0 156.2 792.2 170.8 792.3 145.6 792.5 157.0 792.5 157.7 792.7 149.7 792.9 185.6 793.0 184.5 793.0 182.5 793.1 172.6 793.2 197.5 793.5 189.0 793.5 195.9 793.5 206.7 793.7 183.5 794.0 202.7 794.0 201.0 794.1 195.3 794.4 219.9 794.5 207.6 794.5 205.2 794.7 219.4 794.9 191.0 795.0 205.5 795.0 200.0 795.1 211.4 795.5 189.2 795.5 197.0 795.5 180.5 795.7 207.0 795.9 165.5 796.0 182.0 796.0 181.1 796.1 184.5 796.4 163.3 796.5 167.4 796.5 161.4 796.6 173.8 796.9 143.7 797.0 150.4 797.0 159.0 797.3 170.6 797.4 151.6 797.5 153.1 797.5 149.2 797.8 140.9 797.9 167.9 798.0 158.0 798.0 156.6 798.0 161.9 798.3 139.3 798.5 141.9 798.5 139.1 798.5 137.7 798.9 172.0 799.0 152.9 799.0 150.8 799.2 163.6 799.5 147.0 799.5 152.5 799.5 153.9 799.7 137.6 799.8 169.1 800.0 157.3 800.0 152.1 800.1 150.3 800.1 168.8 800.5 166.6 800.5 170.3 800.7 153.0 800.9 183.2 801.0 172.3 801.0 167.8 801.0 160.0 801.4 199.0 801.5 188.6 801.5 192.1 801.7 195.4 801.8 178.9 802.0 194.8 802.0 200.5 802.2 182.7 802.2 213.6 802.5 203.2 802.5 207.4 802.7 213.4 803.0 190.7 803.0 200.7 803.0 198.5 803.1 191.7 803.3 211.8 803.5 199.4 803.5 204.2 803.7 208.7 803.9 183.6 804.0 188.1 804.0 177.7 804.0 182.7 804.3 162.0 804.5 174.9 804.5 177.7 805.0 154.4 805.0 152.7 805.1 171.9 805.4 141.1 805.5 143.0 805.5 152.1 805.9 138.8 806.0 163.1 806.0 157.8 806.0 159.1 806.1 165.2 806.2 146.5 806.5 147.2 806.5 150.8 806.8 139.2 806.9 158.8 807.0 155.5 807.0 141.5 807.2 168.3 807.3 138.9 807.5 154.8 807.5 158.6 807.7 135.2 808.0 154.8 808.0 156.5 808.5 138.4 808.5 140.3 808.7 160.7 809.0 152.1 809.0 159.1 809.0 149.3 809.5 172.6 809.5 167.7 809.5 172.7 809.7 164.6 810.0 189.6 810.0 192.2 810.1 173.2 810.4 200.3 810.5 185.7 810.5 187.2 810.7 179.1 811.0 212.4 811.0 203.6 811.3 182.5 811.5 207.2 811.5 194.3 811.5 196.6 811.6 204.4 811.9 178.2 812.0 178.9 812.0 187.4 812.3 172.8 812.4 194.2 812.5 179.9 812.5 175.7 812.9 154.6 813.0 161.1 813.0 163.3 813.2 166.8 813.3 137.6 813.5 147.4 813.5 155.5 813.9 131.6 814.0 148.5 814.0 142.4 814.1 160.4 814.3 138.4 814.5 145.7 814.5 154.0 814.7 141.2 814.8 162.9 815.0 148.9 815.0 146.1 815.1 157.0 815.5 139.2 815.5 150.2 815.8 131.8 815.9 161.5 816.0 153.6 816.0 153.8 816.2 142.8 816.3 160.8 816.5 153.8 816.5 149.0 816.7 169.5 816.9 138.2 817.0 160.0 817.0 159.5 817.3 151.1 817.4 173.4 817.5 167.6 817.5 158.8 818.0 185.5 818.0 186.5 818.1 168.7 818.2 192.3 818.5 186.7 818.5 184.0 818.5 175.9 818.8 205.9 819.0 202.3 819.0 195.6 819.0 186.8 819.1 205.9 819.5 204.4 819.5 206.8 819.5 207.0 820.0 186.2 820.0 187.6 820.1 193.5 820.5 165.7 820.5 178.3 820.5 172.6 820.7 184.4 820.9 166.7 821.0 174.5 821.0 176.6 821.2 145.0 821.5 155.8 821.5 154.9 821.6 165.7 821.7 141.6 822.0 150.3 822.0 140.0 822.0 132.8 822.2 155.0 822.5 153.8 822.5 156.2 822.7 140.8 822.8 161.5 823.0 147.2 823.0 143.0 823.3 163.7 823.4 142.2 823.5 148.4 823.5 165.1 823.8 142.7 824.0 146.5 824.0 152.5 824.2 158.2 824.5 133.5 824.5 145.3 824.5 150.3 824.8 144.1 825.0 164.3 825.0 156.0 825.3 162.1 825.5 145.4 825.5 151.7 825.6 142.0 826.0 170.1 826.0 161.0 826.2 186.0 826.5 180.6 826.5 182.7 826.6 180.9 826.9 209.0 827.0 201.5 827.0 199.9 827.1 204.7 827.4 183.1 827.5 189.8 827.5 207.5 827.6 209.4 827.7 180.7 828.0 200.3 828.0 200.6 828.2 174.5 828.5 203.7 828.5 190.0 828.6 199.2 828.8 174.6 829.0 184.5 829.0 182.0 829.0 189.9 829.5 156.2 829.5 159.1 829.7 173.0 830.0 147.9 830.0 155.7 830.0 163.2 830.1 170.7 830.5 141.4 830.5 148.4 830.6 144.8 830.7 172.0 831.0 166.5 831.0 163.2 831.1 138.2 831.2 177.2 831.5 166.4 831.5 155.3 831.5 147.7 831.8 169.6 832.0 154.7 832.0 164.0 832.3 138.4 832.5 151.6 832.5 161.8 832.6 145.0 832.9 172.8 833.0 160.7 833.0 154.1 833.1 168.0 833.4 138.7 833.5 150.8 833.5 151.3 833.6 141.6 833.8 173.1 834.0 161.8 834.0 155.9 834.2 182.8 834.5 168.6 834.5 172.9 834.7 168.6 834.9 189.7 835.0 179.9 835.0 168.3 835.2 198.0 835.5 191.7 835.5 200.7 835.6 202.3 835.9 182.9 836.0 190.5 836.0 196.4 836.2 173.2 836.3 197.3 836.5 181.7 836.5 196.3 836.6 205.8 836.7 164.1 837.0 176.8 837.0 175.3 837.1 184.6 837.5 151.3 837.5 157.1 837.7 140.2 837.9 172.5 838.0 150.8 838.0 159.2 838.2 176.4 838.3 140.2 838.5 149.0 838.5 153.9 838.7 162.0 839.0 137.1 839.0 141.6 839.1 159.0 839.5 136.1 839.5 139.3 839.6 134.0 839.8 162.1 840.0 148.2 840.0 148.5 840.1 142.6 840.4 158.5 840.5 149.5 840.5 154.3 840.7 135.7 840.9 163.2 841.0 142.9 841.0 148.9 841.1 139.2 841.4 163.6 841.5 157.1 841.5 154.5 841.7 135.3 841.9 157.0 842.0 146.7 842.0 148.7 842.2 176.1 842.5 153.4 842.5 150.7 843.0 194.7 843.0 185.3 843.2 163.3 843.4 193.0 843.5 189.8 843.5 186.8 843.6 197.1 844.0 177.3 844.0 182.8 844.0 190.4 844.2 202.8 844.5 179.8 844.5 179.1 844.6 177.3 845.0 194.9 845.0 185.3 845.0 175.3 845.1 189.8 845.4 165.6 845.5 175.3 845.5 175.2 845.9 177.9 846.0 159.5 846.0 162.4 846.1 171.7 846.2 145.5 846.5 154.6 846.5 154.2 846.6 170.8 847.0 138.9 847.0 142.9 847.0 145.1 847.3 135.6 847.5 160.9 847.5 149.8 847.5 152.0 847.9 135.1 848.0 142.6 848.0 138.7 848.1 129.6 848.3 160.2 848.5 135.4 848.5 137.2 848.5 130.0 848.7 157.1 849.0 150.4 849.0 151.0 849.2 156.6 849.5 133.4 849.5 131.0 849.8 159.9 850.0 146.2 850.0 151.1 850.0 144.7 850.2 171.4 850.5 163.4 850.5 159.9 850.6 128.9 851.0 168.7 851.0 159.1 851.0 162.2 851.3 151.0 851.5 169.4 851.5 166.9 851.5 172.0 851.8 189.0 852.0 162.2 852.0 178.9 852.0 174.5 852.1 205.2 852.5 183.3 852.5 180.8 852.5 167.2 852.6 197.2 853.0 174.5 853.0 183.8 853.0 174.5 853.2 190.6 853.5 183.2 853.5 180.4 853.5 180.8 854.0 162.6 854.0 174.0 854.1 180.6 854.5 142.6 854.5 155.0 854.5 140.8 854.6 162.9 855.0 133.4 855.0 136.0 855.0 142.0 855.3 141.6 855.4 159.6 855.5 152.7 855.5 142.2 856.0 161.0 856.0 147.1 856.0 140.2 856.4 162.1 856.5 160.3 856.5 150.7 856.6 178.0 857.0 132.5 857.0 144.9 857.0 140.3 857.2 171.7 857.5 155.6 857.5 165.1 857.7 167.6 858.0 143.5 858.0 145.1 858.0 151.1 858.2 160.4 858.4 136.3 858.5 150.2 858.5 153.3 858.6 174.8 858.8 145.9 859.0 167.1 859.0 168.0 859.0 165.1 859.3 182.0 859.5 181.6 859.5 184.8 859.6 176.4 859.8 194.7 860.0 183.7 860.0 181.1 860.1 177.4 860.5 202.9 860.5 196.4 860.5 208.8 860.6 212.2 860.6 176.8 861.0 203.4 861.0 209.2 861.0 213.0 861.5 183.2 861.5 190.3 861.5 190.6 861.5 192.9 861.8 172.4 862.0 180.8 862.0 190.5 862.1 166.1 862.5 183.4 862.5 183.3 862.8 156.9 863.0 159.5 863.0 163.1 863.3 174.7 863.3 155.2 863.5 161.0 863.5 167.3 863.6 140.6 863.9 174.3 864.0 165.3 864.0 153.3 864.0 152.2 864.3 175.5 864.5 167.5 864.5 166.2 864.7 147.5 864.8 167.6 864.8 162.9" fill="none" stroke="#1f77b4" stroke-width="2.5" stroke-linecap="square" stroke-linejoin="round"/>
<path d="M125.5 237.5V120.5M900.5 237.5V120.5M125.5 237.5H900.5M125.5 120.5H900.5M202.5 237.5v4.86M285.5 237.5v4.86M367.5 237.5v4.86M450.5 237.5v4.86M533.5 237.5v4.86M616.5 237.5v4.86M699.5 237.5v4.86M782.5 237.5v4.86M865.5 237.5v4.86M125.5 208.5h-4.86M125.5 158.5h-4.86" fill="none" stroke="#000" stroke-width="1.1111" stroke-linecap="square"/>
<g style="will-change:opacity" opacity="0.999"><text transform="translate(169.59 274.76) rotate(-30)" style="font-size:13.889px">2020</text><text transform="translate(252.51 274.76) rotate(-30)" style="font-size:13.889px">2030</text><text transform="translate(335.55 274.71) rotate(-30)" style="font-size:13.889px">2040</text><text transform="translate(418.56 274.69) rotate(-30)" style="font-size:13.889px">2050</text><text transform="translate(500.63 274.71) rotate(-30)" style="font-size:13.889px">2060</text><text transform="translate(583.38 274.68) rotate(-30)" style="font-size:13.889px">2070</text><text transform="translate(666.57 274.74) rotate(-30)" style="font-size:13.889px">2080</text><text transform="translate(749.56 274.72) rotate(-30)" style="font-size:13.889px">2090</text><text transform="translate(832.64 274.63) rotate(-30)" style="font-size:13.889px">2100</text><text x="115.30" y="213.72" style="font-size:13.889px;text-anchor:end">290</text><text x="114.37" y="163.64" style="font-size:13.889px;text-anchor:end">300</text><text x="79.51" y="180.01" transform="rotate(-90 79.51 180.01)" style="font-size:13.889px;text-anchor:middle">fieldmean</text><text x="512.43" y="110.73" textLength="565.20" lengthAdjust="spacing" style="font-size:16.667px;text-anchor:middle">tsl, lev=0.0509999990463256, 20150101T1200 to 20991231T1200</text></g>
<rect x="125" y="261" width="775" height="117" fill="#fff"/>
<clipPath id="c1"><rect x="125.00" y="260.69" width="775.00" height="117.24"/></clipPath>
<path clip-path="url(#c1)" d="M160.2 280.9L160.3 281.7 160.5 280.7 160.5 281.4 160.5 281.5 160.7 281.7 160.9 280.5 161.0 281.5 161.0 281.1 161.3 280.8 161.4 281.6 161.5 281.2 161.5 280.9 161.8 280.5 161.8 281.7 162.0 281.0 162.0 281.1 162.2 280.9 162.4 291.6 162.5 290.1 162.5 295.4 162.6 280.8 162.9 305.0 163.0 281.2 163.0 286.7 163.2 280.6 163.4 313.9 163.5 281.1 163.5 281.0 163.9 280.7 164.0 320.4 164.0 302.7 164.1 280.7 164.4 327.3 164.5 324.7 164.5 330.0 164.6 336.2 164.9 281.9 165.0 314.6 165.0 281.8 165.2 319.0 165.3 280.8 165.5 287.5 165.5 313.6 165.6 281.1 166.0 292.4 166.0 281.1 166.1 280.8 166.2 301.8 166.5 281.3 166.5 289.4 166.6 295.4 166.9 280.7 167.0 280.9 167.0 281.2 167.0 280.4 167.2 281.4 167.5 281.0 167.5 280.8 167.8 281.3 167.9 280.4 168.0 280.8 168.0 280.9 168.3 281.2 168.4 280.2 168.5 280.6 168.5 280.8 168.7 281.2 168.7 280.2 169.0 280.5 169.0 281.4 169.1 280.2 169.5 280.7 169.5 280.5 169.7 280.4 169.7 281.4 170.0 280.7 170.0 280.8 170.3 280.6 170.5 289.6 170.5 286.0 171.0 305.0 171.0 280.9 171.0 299.9 171.2 310.5 171.4 280.9 171.5 281.4 171.5 298.4 171.8 280.8 171.9 322.6 172.0 281.0 172.0 325.7 172.1 280.8 172.3 331.2 172.5 330.1 172.5 317.7 172.7 348.0 172.9 309.7 173.0 325.3 173.0 330.7 173.1 332.6 173.4 280.8 173.5 301.3 173.5 281.4 173.8 321.0 173.9 281.0 174.0 311.4 174.0 281.5 174.0 318.9 174.3 280.7 174.5 304.0 174.5 285.6 174.6 281.1 174.6 305.3 175.0 291.6 175.0 292.6 175.4 280.5 175.5 280.8 175.5 280.7 175.7 281.1 175.8 280.0 176.0 280.3 176.0 280.2 176.0 280.7 176.4 279.6 176.5 280.3 176.5 280.1 176.7 280.5 176.9 279.2 177.0 279.4 177.0 280.1 177.1 279.3 177.3 280.8 177.5 279.7 177.5 280.4 177.7 280.8 177.8 279.7 178.0 280.5 178.0 280.9 178.2 281.0 178.2 280.1 178.5 280.8 178.5 280.5 179.0 296.8 179.0 289.8 179.0 281.9 179.1 280.8 179.3 309.5 179.5 302.2 179.5 300.5 179.7 280.8 179.9 319.8 180.0 313.0 180.0 309.0 180.4 281.0 180.5 337.2 180.5 330.1 180.5 280.6 180.7 338.7 181.0 324.9 181.0 332.9 181.1 357.1 181.5 282.1 181.5 281.5 181.6 337.7 181.8 280.9 182.0 329.8 182.0 325.1 182.0 329.2 182.2 280.9 182.5 314.6 182.5 316.7 182.7 280.7 183.0 290.4 183.0 296.0 183.1 305.3 183.3 281.0 183.5 286.2 183.5 284.7 184.0 280.5 184.0 280.7 184.0 280.4 184.3 280.9 184.3 279.8 184.5 280.6 184.5 280.2 184.6 280.8 184.9 279.5 185.0 279.6 185.0 279.9 185.4 280.4 185.4 279.1 185.5 280.4 185.5 279.7 185.6 280.9 185.8 279.3 186.0 280.6 186.0 280.4 186.4 280.1 186.5 281.0 186.5 280.7 186.9 280.2 187.0 284.9 187.0 285.0 187.4 300.1 187.4 280.7 187.5 280.8 187.5 281.0 187.8 310.4 187.9 280.9 188.0 307.9 188.0 293.2 188.1 280.8 188.4 324.0 188.5 316.7 188.5 320.2 188.5 281.0 188.9 328.1 189.0 293.7 189.0 288.0 189.3 349.0 189.5 307.3 189.5 313.3 189.5 330.9 189.8 281.1 190.0 281.3 190.0 281.8 190.1 326.5 190.2 281.1 190.5 293.1 190.5 281.0 190.5 316.8 190.6 280.8 191.0 307.8 191.0 281.1 191.0 307.0 191.5 280.6 191.5 297.4 192.0 280.0 192.0 280.1 192.0 281.1 192.4 279.1 192.5 279.4 192.5 279.5 192.6 279.8 193.0 278.2 193.0 279.3 193.1 279.7 193.5 277.5 193.5 277.8 193.6 277.7 193.7 279.5 194.0 278.4 194.0 279.4 194.3 278.4 194.3 280.0 194.5 279.9 194.5 280.0 194.6 279.0 195.0 280.4 195.0 280.6 195.1 280.1 195.5 292.1 195.5 281.0 195.6 280.7 195.7 305.6 196.0 299.1 196.0 288.4 196.2 280.9 196.4 315.6 196.5 302.5 196.5 311.7 196.9 280.7 196.9 323.9 197.0 287.4 197.0 280.9 197.4 334.1 197.5 331.8 197.5 331.0 197.7 349.3 198.0 289.5 198.0 304.3 198.1 332.9 198.2 280.8 198.5 281.1 198.5 281.2 198.6 322.8 198.9 280.6 199.0 295.0 199.0 314.0 199.4 281.0 199.5 281.3 199.5 281.0 199.5 303.5 199.6 280.9 200.0 281.0 200.0 288.2 200.5 279.9 200.5 280.0 200.7 280.6 201.0 279.0 201.0 278.7 201.1 280.4 201.4 278.5 201.5 278.8 201.5 278.5 201.6 277.9 201.6 279.8 202.0 278.4 202.0 278.9 202.1 278.3 202.4 280.2 202.5 278.8 202.5 279.0 202.6 278.9 202.9 280.4 203.0 280.2 203.0 279.9 203.0 279.8 203.4 281.1 203.5 280.7 203.5 281.0 203.9 296.6 204.0 280.9 204.0 283.7 204.0 281.0 204.3 280.6 204.3 308.1 204.5 306.5 204.5 281.1 204.8 280.9 204.9 316.7 205.0 289.2 205.0 305.3 205.3 325.4 205.5 280.6 205.5 316.3 205.6 281.6 206.0 344.2 206.0 344.9 206.5 281.2 206.5 296.0 206.5 281.2 206.6 325.0 207.0 303.0 207.0 303.7 207.0 319.6 207.3 281.1 207.5 309.3 207.5 308.0 207.9 280.7 208.0 300.0 208.0 296.7 208.5 280.7 208.5 280.5 208.6 281.0 208.9 279.5 209.0 279.7 209.0 280.1 209.3 280.6 209.5 278.4 209.5 279.2 210.0 278.2 210.0 279.9 210.0 278.5 210.2 277.9 210.4 279.8 210.5 278.8 210.5 278.4 210.8 278.4 210.9 280.2 211.0 279.9 211.0 280.0 211.4 279.6 211.5 280.7 211.5 280.5 211.6 279.9 212.0 288.3 212.0 288.2 212.3 280.9 212.3 297.1 212.5 293.2 212.5 298.9 212.6 281.0 213.0 303.8 213.0 299.3 213.0 281.0 213.3 280.7 213.4 313.0 213.5 283.0 213.5 309.4 213.6 280.7 213.8 316.8 214.0 306.0 214.0 319.9 214.1 330.0 214.4 287.6 214.5 298.4 214.5 301.3 214.6 320.6 214.9 280.9 215.0 302.3 215.0 296.7 215.1 314.0 215.3 280.9 215.5 298.7 215.5 281.1 215.5 305.8 215.6 280.8 216.0 290.9 216.0 297.8 216.4 280.8 216.5 287.3 216.5 280.9 216.5 289.2 217.0 280.3 217.0 281.0 217.0 280.7 217.1 281.1 217.4 280.3 217.5 280.6 217.5 280.8 217.7 280.9 217.9 279.9 218.0 280.2 218.1 279.6 218.1 281.0 218.5 280.1 218.5 280.2 218.5 279.7 218.6 280.6 219.0 280.2 219.0 281.1 219.3 279.8 219.5 280.5 219.5 280.8 219.7 280.4 219.8 281.2 220.0 280.8 220.0 281.1 220.1 280.7 220.5 292.6 220.5 284.7 220.5 285.1 220.7 281.1 220.9 300.8 221.0 290.2 221.0 288.2 221.4 307.4 221.5 281.0 221.5 298.9 221.5 308.5 221.9 317.2 222.0 281.9 222.0 299.7 222.0 304.4 222.1 294.6 222.3 333.9 222.5 305.1 222.5 312.1 222.8 323.1 222.9 281.1 223.0 316.9 223.0 281.5 223.1 280.6 223.1 318.8 223.5 299.0 223.5 306.5 223.6 313.9 223.6 280.6 224.0 301.6 224.0 293.4 224.1 280.9 224.3 299.4 224.5 288.0 224.5 291.1 224.5 298.9 225.0 280.4 225.0 282.4 225.0 280.9 225.5 279.5 225.5 279.9 225.5 279.5 225.6 280.3 225.8 279.0 226.0 279.8 226.0 279.0 226.1 279.8 226.4 277.9 226.5 279.3 226.5 278.8 226.6 279.7 226.7 277.5 227.0 278.1 227.0 279.3 227.1 278.1 227.4 280.5 227.5 279.2 227.5 279.5 227.5 279.0 228.0 280.7 228.0 279.8 228.1 279.6 228.5 284.9 228.5 282.7 228.6 280.9 228.9 297.7 229.0 280.9 229.0 280.8 229.2 303.2 229.5 300.9 229.5 280.9 229.9 316.7 230.0 310.1 230.0 280.8 230.5 333.6 230.5 337.2 230.5 337.8 231.0 281.9 231.0 320.0 231.0 309.2 231.3 325.2 231.5 280.8 231.5 299.2 231.5 294.4 231.7 317.7 232.0 281.1 232.0 294.8 232.1 309.0 232.3 280.8 232.5 287.5 232.5 290.2 232.7 280.9 232.8 301.5 233.0 286.7 233.0 283.3 233.1 290.5 233.5 280.0 233.5 280.1 233.5 280.0 233.6 280.7 233.9 278.6 234.0 278.8 234.0 279.2 234.3 279.6 234.5 277.6 234.5 278.2 234.5 279.4 234.6 279.7 235.0 276.9 235.0 278.5 235.0 276.7 235.2 278.9 235.5 278.3 235.5 279.3 235.5 278.2 236.0 280.1 236.0 278.9 236.0 279.1 236.2 279.0 236.5 280.9 236.5 279.9 236.6 279.9 236.9 290.4 237.0 288.7 237.0 293.1 237.2 280.9 237.5 302.6 237.5 295.7 237.5 294.7 237.6 281.0 237.9 310.9 238.0 281.2 238.0 280.9 238.3 321.1 238.5 281.0 238.5 301.9 238.7 280.9 238.8 327.7 239.0 326.2 239.0 332.1 239.1 340.1 239.4 283.6 239.5 297.6 239.5 305.3 239.7 325.0 239.9 280.8 240.0 280.9 240.0 281.1 240.3 280.7 240.3 312.6 240.5 281.2 240.5 309.9 240.9 281.1 241.0 291.7 241.0 281.1 241.1 298.0 241.3 281.1 241.5 287.8 241.5 284.6 241.6 284.6 241.9 279.5 242.0 280.2 242.0 280.3 242.1 280.5 242.5 278.9 242.5 279.4 242.5 279.3 242.7 280.2 242.9 278.3 243.0 278.9 243.0 278.8 243.2 279.6 243.2 277.8 243.5 278.9 243.5 277.9 243.8 280.4 244.0 278.6 244.0 279.7 244.1 279.0 244.4 280.3 244.5 279.5 244.5 280.1 244.7 279.6 245.0 283.6 245.0 280.6 245.1 280.3 245.4 296.1 245.5 295.8 245.5 281.0 245.6 280.8 245.9 306.3 246.0 299.7 246.0 294.2 246.3 311.7 246.4 280.9 246.5 309.6 246.5 281.2 246.9 280.9 247.0 322.3 247.0 320.3 247.1 280.7 247.4 331.0 247.5 298.6 247.5 321.5 247.7 338.2 248.0 298.3 248.0 282.7 248.1 321.8 248.1 280.9 248.5 285.2 248.5 308.7 248.6 310.7 248.8 280.8 249.0 292.2 249.0 301.8 249.0 305.8 249.4 281.1 249.5 290.1 249.5 294.1 249.9 280.8 250.0 281.2 250.0 281.0 250.2 280.0 250.3 281.3 250.5 280.2 250.5 280.1 250.7 281.0 250.7 279.5 251.0 280.0 251.0 279.9 251.4 279.4 251.5 280.6 251.5 279.9 251.5 280.1 251.6 279.1 251.7 280.3 252.0 280.2 252.0 280.1 252.1 279.7 252.2 280.9 252.5 280.5 252.5 280.3 252.7 280.2 252.7 281.3 253.0 280.7 253.0 280.4 253.5 290.1 253.5 285.0 253.5 287.0 253.6 280.7 254.0 302.9 254.0 303.7 254.1 307.1 254.3 280.9 254.5 303.6 254.5 281.1 254.7 280.8 254.7 320.1 255.0 281.0 255.0 297.9 255.3 280.9 255.4 334.1 255.5 320.4 255.5 298.4 255.5 284.9 255.8 345.9 256.0 313.5 256.0 304.1 256.0 329.9 256.5 280.5 256.5 317.2 256.5 282.8 256.7 320.8 256.9 280.3 257.0 297.2 257.0 281.7 257.2 310.4 257.4 280.7 257.5 304.7 257.5 291.9 257.6 302.4 257.8 280.6 258.0 290.4 258.0 280.9 258.1 286.2 258.5 280.1 258.5 280.7 258.5 280.6 258.6 280.9 258.8 279.7 259.0 279.9 259.0 280.1 259.2 280.5 259.4 279.1 259.5 280.1 259.5 279.7 259.5 280.1 259.9 278.5 260.0 279.3 260.1 278.6 260.4 280.3 260.5 279.8 260.5 280.2 260.7 279.3 261.0 280.6 261.0 280.5 261.0 280.0 261.5 281.1 261.5 280.8 261.5 282.1 261.9 280.8 262.0 294.0 262.0 288.1 262.2 301.7 262.3 280.8 262.5 280.9 262.5 292.7 262.8 281.2 262.9 311.6 263.0 295.5 263.0 315.6 263.3 321.8 263.3 280.9 263.5 281.1 263.5 301.7 263.7 280.7 263.8 322.5 264.0 314.0 264.0 299.4 264.1 282.0 264.5 338.7 264.5 337.9 264.5 335.1 265.0 281.3 265.0 281.1 265.2 311.3 265.2 280.8 265.5 297.9 265.5 307.8 265.7 280.5 266.0 291.7 266.0 287.8 266.1 294.8 266.1 280.6 266.5 281.1 266.7 281.4 266.9 280.5 267.0 280.5 267.0 280.7 267.3 281.3 267.3 280.4 267.5 280.8 267.5 280.1 267.9 281.0 268.0 280.7 268.0 281.1 268.2 280.2 268.5 280.8 268.5 280.4 268.6 280.4 268.9 281.1 269.0 280.4 269.0 281.1 269.3 280.5 269.5 281.3 269.5 281.4 269.5 280.8 270.0 289.2 270.0 286.1 270.0 291.1 270.5 280.4 270.5 299.9 270.5 283.2 270.6 280.9 271.0 315.6 271.0 293.2 271.0 281.4 271.4 280.8 271.5 327.1 271.5 308.1 271.5 323.4 271.6 280.7 272.0 338.8 272.0 323.3 272.0 325.9 272.2 354.5 272.5 309.2 272.5 325.7 272.5 289.0 272.6 280.9 272.8 332.4 273.0 303.4 273.0 292.9 273.1 329.0 273.4 280.8 273.5 292.7 273.5 281.0 273.5 319.8 274.0 283.8 274.0 280.9 274.1 307.3 274.3 280.5 274.5 291.5 274.5 280.9 274.6 289.9 275.0 280.0 275.0 280.2 275.0 280.4 275.1 280.8 275.5 279.2 275.5 279.9 275.5 279.8 275.6 278.9 275.6 280.3 276.0 279.5 276.0 279.9 276.1 277.7 276.5 278.1 276.5 278.0 276.6 279.8 277.0 279.3 277.0 278.9 277.4 280.4 277.5 280.1 277.5 279.6 277.9 279.4 277.9 280.8 278.0 280.5 278.4 280.2 278.5 292.6 278.5 281.2 278.9 280.9 278.9 308.0 279.0 281.1 279.0 281.2 279.3 319.0 279.5 281.0 279.5 316.1 279.5 319.8 279.6 281.1 279.8 327.2 280.0 281.2 280.0 281.0 280.5 349.3 280.5 347.8 280.5 344.7 280.9 281.1 281.0 281.2 281.0 299.2 281.1 280.6 281.2 324.2 281.5 280.7 281.5 295.1 281.6 281.5 281.7 315.6 282.0 292.3 282.0 281.1 282.0 306.9 282.5 280.7 282.5 288.7 282.5 284.7 282.5 303.6 282.9 280.5 283.0 285.9 283.0 282.3 283.5 280.1 283.8 279.2 283.8 280.5 284.0 279.6 284.0 280.0 284.5 278.4 284.8 278.2 285.0 280.2 285.0 278.5 285.5 280.4 285.5 279.8 285.5 279.0 285.9 280.8 286.0 280.2 286.0 279.6 286.5 284.9 286.5 282.3 286.5 283.1 286.8 280.9 286.9 298.7 287.0 297.0 287.0 281.0 287.2 280.7 287.5 309.3 287.5 295.6 287.5 310.2 287.9 280.7 288.0 281.0 288.2 322.3 288.3 280.6 288.5 318.0 288.5 325.0 288.7 281.0 288.7 325.4 289.0 300.6 289.0 313.4 289.2 338.5 289.5 283.7 289.5 309.6 289.8 280.9 290.0 313.3 290.0 287.0 290.0 301.5 290.2 310.7 290.4 280.6 290.5 281.0 290.5 295.7 290.6 280.8 290.6 300.2 291.0 289.7 291.0 281.3 291.0 290.3 291.4 280.4 291.5 280.4 291.7 280.9 291.9 279.6 292.0 279.6 292.0 280.8 292.4 279.0 292.5 279.3 292.9 280.0 293.0 278.0 293.0 278.9 293.0 278.4 293.5 279.8 293.5 279.4 293.6 279.1 293.9 280.5 294.0 279.6 294.0 279.5 294.3 280.9 294.5 280.5 294.5 280.4 294.6 280.1 295.0 290.1 295.0 283.4 295.0 281.0 295.5 300.1 295.5 298.3 295.5 286.7 295.7 280.9 296.0 306.2 296.0 287.7 296.3 312.3 296.3 281.2 296.5 286.7 296.5 295.4 296.7 327.2 297.0 288.5 297.0 286.1 297.1 320.5 297.3 281.1 297.5 308.3 297.5 315.7 297.6 317.5 297.9 280.7 298.0 300.2 298.0 292.9 298.1 310.0 298.2 281.1 298.5 281.5 298.5 280.7 298.7 300.4 299.0 281.4 299.0 293.6 299.2 294.5 299.4 280.8 299.5 283.8 299.5 280.8 299.5 283.8 299.8 280.1 300.0 280.3 300.0 280.2 300.2 280.8 300.4 279.7 300.5 280.3 300.5 280.0 300.6 280.8 300.8 279.0 301.0 279.8 301.0 279.7 301.4 278.7 301.5 280.4 301.5 279.3 301.5 279.1 301.9 279.0 301.9 280.7 302.0 279.8 302.0 279.6 302.4 280.8 302.5 280.3 302.6 280.1 303.0 282.6 303.0 285.1 303.1 280.9 303.5 301.9 303.5 287.4 303.5 296.2 303.7 280.7 303.8 306.0 304.0 296.1 304.0 300.0 304.3 280.8 304.4 317.9 304.5 295.3 304.5 298.7 304.8 343.8 305.0 299.5 305.0 295.4 305.4 280.9 305.5 336.1 305.5 292.1 305.8 280.5 305.8 329.2 306.0 289.0 306.0 318.4 306.1 321.4 306.2 280.8 306.5 289.6 306.5 312.6 306.6 314.4 306.8 280.8 307.0 296.1 307.0 281.3 307.0 308.3 307.3 280.9 307.5 288.6 307.5 280.9 307.6 293.4 308.0 280.2 308.0 280.4 308.0 280.5 308.2 280.6 308.4 279.1 308.5 279.9 308.5 279.1 308.8 280.1 308.9 278.1 309.0 278.6 309.0 278.5 309.1 279.8 309.3 277.4 309.5 278.1 309.5 277.0 310.0 279.6 310.0 278.1 310.0 277.6 310.3 279.9 310.5 278.5 310.5 279.1 310.6 278.9 310.9 280.2 311.0 280.0 311.0 280.3 311.1 279.9 311.5 287.7 311.5 286.9 311.5 280.8 311.9 297.0 312.0 296.3 312.0 281.0 312.3 280.8 312.4 304.1 312.5 281.1 312.5 294.2 312.6 281.0 312.8 310.8 313.0 283.6 313.0 284.3 313.1 280.9 313.2 311.7 313.5 293.5 313.5 281.5 313.6 281.1 313.8 321.9 314.0 313.0 314.0 311.4 314.1 327.4 314.5 283.1 314.5 292.8 314.5 282.1 314.5 307.0 314.7 280.9 315.0 284.7 315.0 301.5 315.1 305.0 315.5 280.5 315.5 287.0 315.5 281.0 315.6 297.3 315.8 280.8 316.0 285.2 316.0 285.4 316.1 286.2 316.3 280.1 316.5 280.5 316.5 280.1 316.6 280.5 317.0 279.2 317.2 280.0 317.5 278.4 317.5 278.8 317.5 279.7 317.6 280.1 318.0 277.6 318.0 279.1 318.2 277.5 318.5 279.9 318.5 278.7 318.8 280.1 319.0 279.7 319.0 279.4 319.5 280.9 319.5 280.1 319.5 280.4 319.9 291.1 320.0 281.8 320.0 280.9 320.3 301.6 320.4 280.8 320.5 289.1 320.5 280.8 320.9 303.7 321.0 281.3 321.0 302.0 321.2 280.6 321.4 319.8 321.5 281.4 321.5 281.3 321.9 280.9 321.9 326.3 322.0 303.6 322.0 286.5 322.3 333.8 322.5 302.5 322.5 321.2 322.7 280.8 323.0 281.4 323.0 281.2 323.0 312.4 323.2 281.1 323.5 298.7 323.5 292.5 323.6 302.2 323.7 280.6 324.0 284.0 324.0 281.2 324.2 290.9 324.4 280.8 324.5 281.1 324.5 280.9 324.7 281.6 324.9 280.1 325.0 280.8 325.0 280.6 325.2 280.9 325.5 279.8 325.5 280.0 325.5 280.1 325.6 279.2 325.8 280.5 326.0 279.6 326.0 279.8 326.1 280.5 326.3 279.2 326.5 279.7 326.6 279.3 326.7 280.6 327.0 280.2 327.0 280.3 327.0 280.2 327.3 281.2 327.5 280.7 327.5 280.8 327.6 280.3 328.0 285.8 328.0 286.5 328.0 280.7 328.4 298.0 328.5 281.4 328.5 284.4 328.9 304.7 329.0 281.0 329.0 303.9 329.0 286.6 329.3 280.7 329.5 313.5 329.5 305.2 329.5 311.5 329.5 289.5 329.8 329.2 330.0 296.6 330.0 292.8 330.1 282.1 330.4 322.0 330.5 294.1 330.5 286.2 330.5 318.4 331.0 280.9 331.0 281.2 331.0 314.0 331.3 281.0 331.5 299.7 331.5 280.8 331.6 280.4 331.7 304.6 332.0 288.6 332.0 298.4 332.1 280.9 332.5 290.3 332.5 289.3 332.8 280.1 333.0 280.2 333.0 280.1 333.1 280.7 333.3 279.1 333.5 279.2 333.5 278.9 333.9 280.0 334.0 278.4 334.0 279.5 334.0 278.6 334.4 279.6 334.5 277.6 334.5 278.2 334.5 278.1 334.7 277.8 334.9 279.7 335.0 278.8 335.0 278.6 335.2 280.3 335.5 279.4 335.5 280.0 335.6 279.3 336.0 280.4 336.0 280.3 336.4 291.5 336.5 290.1 336.5 281.9 336.7 280.9 336.9 304.8 337.0 303.6 337.0 307.3 337.2 280.7 337.4 314.9 337.5 298.4 337.5 281.3 337.6 318.1 337.8 280.9 338.0 312.5 338.0 309.1 338.0 280.8 338.1 326.0 338.5 310.2 338.5 316.6 338.7 339.6 339.0 283.1 339.0 309.0 339.0 281.8 339.0 281.1 339.2 323.9 339.5 303.1 339.5 299.8 339.5 316.8 340.0 281.0 340.0 301.7 340.0 298.1 340.3 304.5 340.3 280.7 340.5 300.1 340.5 281.0 340.6 299.3 340.9 280.9 341.0 283.8 341.0 280.8 341.1 281.5 341.3 279.9 341.5 280.7 341.5 279.6 341.7 280.7 341.9 279.0 342.0 279.4 342.0 280.1 342.3 278.5 342.5 278.5 342.5 278.7 342.7 277.8 342.9 279.7 343.0 279.5 343.0 279.1 343.1 278.4 343.4 280.1 343.5 279.1 343.5 279.9 343.5 279.0 343.9 280.4 344.0 280.0 344.1 279.8 344.4 283.5 344.5 282.6 344.5 283.4 344.8 280.8 344.9 298.7 345.0 285.6 345.0 281.1 345.2 308.4 345.3 281.0 345.5 291.8 345.5 299.7 345.9 321.1 346.0 281.1 346.0 310.9 346.3 280.8 346.4 329.8 346.5 319.9 346.5 300.0 346.8 347.3 347.0 293.3 347.0 289.8 347.3 281.2 347.5 331.3 347.5 289.0 347.5 309.2 347.5 280.7 347.6 325.5 348.0 317.3 348.0 282.2 348.0 316.5 348.2 280.7 348.5 280.8 348.5 282.5 348.6 305.1 348.6 281.0 349.0 293.7 349.0 294.2 349.4 280.2 349.5 280.4 349.5 280.9 349.7 281.1 349.9 279.7 350.0 279.8 350.0 280.1 350.2 280.2 350.5 279.0 350.5 279.4 350.5 279.1 350.7 280.4 350.8 278.6 351.0 280.0 351.0 279.7 351.2 280.5 351.2 278.6 351.5 279.7 351.5 280.4 351.6 278.8 351.7 280.5 352.0 280.4 352.0 280.2 352.2 279.9 352.4 280.9 352.5 280.8 352.5 280.5 352.6 280.2 353.0 295.1 353.0 294.3 353.0 293.9 353.2 307.3 353.4 280.9 353.5 300.0 353.5 312.1 353.7 280.9 353.9 314.0 354.0 297.3 354.0 320.1 354.3 281.1 354.4 333.1 354.5 300.7 354.5 321.5 354.7 290.9 354.9 359.1 355.0 354.6 355.0 349.0 355.4 281.4 355.5 317.9 355.5 337.1 355.8 339.2 355.9 280.8 356.0 281.2 356.0 299.7 356.0 331.0 356.5 280.7 356.5 319.7 357.0 280.9 357.0 304.9 357.1 305.3 357.2 280.5 357.5 291.4 357.5 290.4 358.0 279.9 358.0 280.0 358.0 280.6 358.5 279.0 358.5 279.3 358.6 279.9 359.0 277.9 359.0 278.8 359.3 279.6 359.3 277.3 359.5 278.5 359.5 279.1 359.7 278.2 359.7 279.8 360.0 278.9 360.0 279.0 360.4 280.3 360.5 279.3 360.5 280.0 360.7 279.5 361.0 281.2 361.0 282.2 361.1 280.7 361.5 293.6 361.5 281.8 361.7 281.0 361.8 302.1 362.0 281.2 362.0 290.9 362.2 280.6 362.3 310.2 362.5 290.5 362.5 309.4 362.7 280.9 362.8 319.4 363.0 307.3 363.0 303.5 363.0 280.9 363.5 330.1 363.5 332.9 363.5 334.0 363.9 281.9 364.0 303.4 364.0 319.2 364.5 280.6 364.5 309.8 364.5 312.4 365.0 280.6 365.0 304.6 365.2 280.6 365.5 288.1 365.5 293.7 365.5 294.3 366.0 280.2 366.0 280.6 366.1 281.1 366.5 279.4 366.5 280.4 366.5 279.7 366.7 280.5 367.0 279.1 367.0 279.6 367.2 279.6 367.2 278.5 367.5 279.1 367.5 278.4 367.7 278.3 367.8 279.9 368.0 279.7 368.0 279.8 368.3 278.7 368.3 280.5 368.5 279.9 368.5 280.3 368.7 279.5 368.8 280.8 369.0 280.4 369.0 280.5 369.2 280.2 369.5 289.7 369.5 281.6 369.9 299.7 369.9 280.9 370.0 298.3 370.0 281.1 370.4 280.7 370.5 305.7 370.5 299.3 370.5 300.2 370.8 280.7 370.9 309.6 371.0 286.3 371.0 281.2 371.1 280.9 371.5 324.4 371.5 305.2 371.7 335.9 371.9 287.3 372.0 304.3 372.0 312.0 372.1 325.7 372.2 281.0 372.5 294.2 372.5 306.3 372.5 313.3 372.7 280.9 373.0 287.8 373.0 302.7 373.1 280.5 373.1 307.5 373.5 302.0 373.5 285.0 373.6 299.3 373.7 281.1 374.0 284.4 374.0 284.5 374.0 286.7 374.5 279.7 374.5 279.6 374.6 280.6 374.9 278.7 375.0 280.0 375.0 279.7 375.1 280.2 375.5 278.0 375.5 278.6 375.5 278.4 375.7 279.3 375.8 276.9 376.0 277.6 376.0 277.4 376.1 277.0 376.4 279.3 376.5 279.2 376.5 278.8 376.5 278.2 376.9 279.8 377.0 279.8 377.0 280.1 377.1 279.0 377.4 280.8 377.5 280.1 377.5 280.7 377.5 280.0 378.0 291.3 378.0 280.6 378.0 293.7 378.1 280.8 378.5 304.7 378.5 284.2 378.5 300.7 378.7 310.0 378.9 280.9 379.0 302.1 379.0 281.2 379.2 280.8 379.3 321.3 379.5 292.1 379.5 311.7 379.6 281.1 380.0 336.5 380.0 339.1 380.0 340.1 380.5 281.4 380.5 281.0 380.5 325.4 380.7 280.8 381.0 303.7 381.0 296.4 381.1 311.9 381.5 281.2 381.5 281.4 381.6 306.9 381.8 280.9 382.0 297.9 382.0 302.6 382.5 280.3 382.5 283.0 382.5 281.1 382.8 279.6 383.0 279.8 383.0 279.7 383.2 280.8 383.3 278.8 383.5 279.1 383.5 279.0 383.6 279.6 384.0 277.9 384.0 277.8 384.0 279.4 384.1 277.5 384.5 278.9 384.5 278.7 384.6 277.9 384.9 280.3 385.0 278.9 385.0 279.1 385.1 278.8 385.4 280.7 385.5 280.1 385.5 280.7 385.7 279.9 385.9 285.5 386.0 282.1 386.0 283.8 386.1 280.9 386.3 299.0 386.5 281.4 386.5 281.1 386.6 280.5 387.0 317.9 387.0 305.9 387.0 292.0 387.1 280.6 387.2 325.4 387.5 305.7 387.5 293.4 387.7 281.0 387.9 329.9 388.0 311.5 388.0 321.0 388.2 354.9 388.4 296.3 388.5 325.3 388.5 284.0 388.6 337.3 388.7 280.9 389.0 281.0 389.0 327.3 389.5 280.8 389.5 316.0 389.5 317.0 389.6 319.7 389.6 280.7 390.0 305.7 390.0 281.8 390.0 309.7 390.3 281.3 390.5 287.6 390.5 289.8 390.6 290.8 390.9 280.4 391.0 280.5 391.0 280.7 391.1 281.3 391.4 279.7 391.5 279.7 391.5 280.0 391.8 280.4 391.9 278.7 392.0 279.1 392.0 279.5 392.0 280.0 392.5 277.6 392.5 279.1 392.5 278.6 392.6 278.1 392.9 279.7 393.0 278.8 393.0 279.0 393.4 280.4 393.5 280.0 393.5 280.2 393.5 279.6 393.9 281.3 394.0 280.6 394.0 280.7 394.2 280.4 394.4 289.5 394.5 283.7 394.5 284.3 394.8 280.7 394.9 295.6 395.0 281.2 395.0 297.9 395.0 280.9 395.4 304.6 395.5 293.6 395.5 302.7 395.7 280.9 395.8 309.8 396.0 294.4 396.0 291.4 396.1 281.0 396.5 319.0 396.5 321.6 396.6 323.6 397.0 281.0 397.0 281.2 397.0 310.1 397.0 313.8 397.1 280.9 397.5 307.7 397.5 302.5 397.5 308.3 397.8 280.9 398.0 281.1 398.0 299.2 398.1 281.1 398.2 299.5 398.5 281.3 398.5 281.0 398.5 294.2 398.9 280.6 399.0 281.0 399.0 280.2 399.0 282.2 399.5 279.7 399.5 279.8 399.8 280.6 399.9 279.1 400.0 280.1 400.0 279.3 400.1 280.1 400.3 278.5 400.5 279.0 400.5 279.6 400.6 278.0 400.9 280.1 401.0 279.4 401.0 279.5 401.1 280.7 401.1 278.2 401.5 279.1 401.5 279.4 401.6 279.3 401.9 280.9 402.0 280.0 402.0 280.4 402.0 280.0 402.5 282.4 402.5 280.7 402.5 281.5 402.9 300.8 403.0 280.7 403.0 298.0 403.2 280.9 403.5 306.8 403.5 297.0 403.5 284.4 403.8 314.1 403.9 281.1 404.0 287.9 404.0 304.8 404.1 280.6 404.3 322.2 404.5 281.5 404.5 295.2 404.5 282.3 404.9 337.6 405.0 323.3 405.0 317.3 405.0 329.4 405.4 280.9 405.5 312.9 405.5 307.3 405.9 317.1 405.9 280.5 406.0 281.0 406.0 300.5 406.2 310.9 406.3 281.1 406.5 291.1 406.5 289.7 406.5 300.1 406.9 281.1 407.0 286.8 407.0 295.3 407.5 279.4 407.5 280.0 407.5 280.1 407.5 280.8 407.7 278.9 408.0 279.1 408.0 279.2 408.3 279.9 408.5 277.8 408.5 279.0 408.5 278.7 408.8 277.0 408.8 279.4 409.0 277.1 409.0 277.5 409.1 276.2 409.2 278.9 409.5 276.9 409.5 278.8 409.7 279.7 409.7 277.4 410.0 279.1 410.0 278.9 410.0 278.0 410.3 280.0 410.5 279.7 410.7 279.6 411.0 288.5 411.0 281.0 411.0 292.4 411.3 304.4 411.3 280.8 411.5 300.0 411.5 289.7 411.8 280.9 412.0 317.4 412.0 296.5 412.1 281.1 412.5 320.9 412.5 289.1 412.5 320.6 412.5 296.9 413.0 346.2 413.0 345.2 413.0 341.9 413.5 280.3 413.5 321.6 413.5 280.3 413.5 279.5 413.6 331.2 414.0 280.3 414.0 279.7 414.2 321.9 414.5 315.2 414.5 280.3 414.8 308.5 414.9 279.8 415.0 302.2 415.0 303.8 415.5 279.8 415.5 282.0 415.5 287.2 415.9 277.4 416.0 278.8 416.0 278.6 416.1 279.1 416.5 276.4 416.5 275.7 416.6 278.5 416.9 275.2 417.0 275.4 417.0 275.5 417.3 273.8 417.4 277.7 417.5 275.0 417.5 277.6 417.6 274.4 417.8 278.4 418.0 274.9 418.0 277.5 418.2 275.7 418.4 278.9 418.5 278.2 418.5 278.0 418.6 277.2 419.0 280.2 419.0 278.8 419.0 279.5 419.4 293.5 419.5 280.6 419.5 280.3 419.6 279.8 420.0 305.6 420.0 289.8 420.2 280.0 420.4 306.2 420.5 288.3 420.5 301.3 420.5 279.9 420.9 319.8 421.0 290.0 421.0 322.2 421.1 279.7 421.5 330.3 421.5 325.8 421.6 287.1 421.8 336.4 422.0 312.5 422.0 303.6 422.2 318.5 422.3 279.3 422.5 314.7 422.5 300.3 422.7 311.9 422.9 279.7 423.0 297.9 423.0 280.3 423.1 301.3 423.5 279.1 423.5 284.0 423.5 290.6 423.5 295.0 424.0 277.6 424.0 277.3 424.0 279.2 424.4 275.3 424.5 275.9 424.5 277.7 424.8 278.3 424.9 273.6 425.0 274.5 425.0 274.7 425.0 277.7 425.3 272.8 425.5 276.4 425.5 273.8 425.6 276.6 425.7 272.4 426.0 273.4 426.0 275.1 426.3 272.6 426.3 277.4 426.5 276.8 426.5 276.3 426.6 275.1 426.9 277.8 427.0 276.8 427.0 277.9 427.1 276.6 427.5 285.9 427.5 279.5 427.7 278.8 428.0 297.2 428.0 296.9 428.0 279.0 428.5 303.5 428.5 290.7 428.9 310.2 428.9 279.8 429.0 300.5 429.0 279.4 429.1 279.0 429.3 314.8 429.5 289.4 429.5 303.3 429.7 328.7 429.9 288.3 430.0 315.2 430.0 286.2 430.2 316.0 430.4 278.3 430.5 310.0 430.5 294.3 430.6 309.3 430.6 277.6 431.0 305.3 431.0 296.9 431.1 278.3 431.1 303.8 431.5 284.5 431.5 289.7 431.6 296.0 431.9 278.6 432.0 285.5 432.0 287.5 432.3 276.2 432.5 278.2 432.5 275.5 432.8 277.3 432.9 272.4 433.0 275.0 433.0 272.9 433.1 276.6 433.4 271.2 433.5 275.7 433.5 273.6 433.6 269.9 433.7 274.7 434.0 272.9 434.0 273.9 434.1 269.4 434.4 275.9 434.5 274.5 434.5 273.9 434.8 272.0 434.9 277.0 435.0 273.9 435.1 273.5 435.5 277.9 435.5 277.6 435.5 275.8 435.9 294.9 436.0 291.6 436.0 292.0 436.3 278.5 436.5 308.0 436.5 294.5 436.5 299.4 436.8 278.2 437.0 315.0 437.0 320.8 437.1 277.7 437.3 324.7 437.5 314.8 437.5 306.6 437.7 287.0 438.0 351.9 438.0 348.6 438.0 347.1 438.3 281.1 438.5 321.7 438.5 313.7 438.8 278.0 439.0 321.4 439.0 295.4 439.0 319.8 439.3 278.1 439.5 282.4 439.5 307.2 439.7 310.4 440.0 278.3 440.0 299.6 440.0 301.8 440.2 278.6 440.5 281.2 440.5 282.0 441.0 274.4 441.0 277.4 441.0 274.9 441.1 277.6 441.3 272.7 441.5 273.7 441.5 274.8 441.9 275.8 441.9 271.4 442.0 272.5 442.0 273.5 442.2 275.9 442.4 270.0 442.5 274.7 442.5 275.6 442.6 271.3 443.0 276.8 443.0 273.1 443.0 273.2 443.1 272.7 443.2 277.4 443.5 275.6 443.5 274.6 443.9 281.3 444.0 278.0 444.0 277.7 444.4 307.4 444.5 301.9 444.5 292.5 444.7 278.2 445.0 320.7 445.0 280.1 445.0 280.0 445.4 279.5 445.5 333.4 445.5 322.7 445.8 336.1 445.8 278.1 446.0 278.4 446.0 285.6 446.2 277.9 446.3 357.7 446.5 280.1 446.5 304.8 446.5 282.5 446.9 369.7 447.0 333.7 447.0 323.1 447.2 336.3 447.4 279.0 447.5 302.8 447.5 289.9 447.6 327.7 447.9 279.8 448.0 308.2 448.0 298.3 448.0 279.6 448.2 312.9 448.5 293.2 448.5 292.1 448.6 295.7 449.0 277.3 449.0 276.8 449.1 279.0 449.5 275.6 449.5 275.8 449.6 277.8 449.8 274.1 450.0 275.3 450.3 272.7 450.5 276.9 450.5 274.0 450.5 273.3 450.6 272.5 450.6 276.8 451.0 275.0 451.0 276.7 451.3 274.1 451.4 277.9 451.5 275.4 451.5 277.4 451.6 275.5 451.9 279.3 452.0 277.0 452.0 278.8 452.1 277.6 452.5 290.1 452.5 289.6 452.8 279.0 453.0 303.0 453.0 284.4 453.0 299.0 453.2 279.3 453.3 310.9 453.5 300.3 453.5 303.4 453.6 279.4 453.9 313.1 454.0 288.3 454.0 279.9 454.1 279.9 454.4 325.9 454.5 292.9 454.5 311.4 454.7 337.9 455.0 295.2 455.0 315.9 455.1 278.7 455.3 321.4 455.5 279.1 455.5 300.3 455.5 313.8 455.5 278.6 456.0 299.5 456.0 279.3 456.0 278.3 456.1 305.9 456.5 294.5 456.5 299.0 456.9 278.4 457.0 283.3 457.0 278.9 457.0 280.3 457.4 274.9 457.5 276.0 457.5 274.5 457.6 277.7 458.0 272.4 458.0 275.5 458.0 275.9 458.2 276.0 458.4 270.5 458.5 270.9 458.5 270.1 458.8 269.9 459.0 275.8 459.0 270.6 459.2 276.4 459.5 274.5 459.5 273.3 459.8 272.4 460.0 276.7 460.0 274.1 460.5 278.8 460.5 278.4 460.5 279.4 460.6 277.9 460.9 294.3 461.0 279.3 461.0 295.5 461.1 278.3 461.4 308.4 461.5 307.3 461.5 295.2 461.6 278.4 461.9 319.8 462.0 318.1 462.0 292.8 462.4 327.6 462.4 283.7 462.5 292.1 462.5 279.0 462.8 278.6 462.9 333.7 463.0 317.2 463.0 304.5 463.2 343.7 463.5 284.3 463.5 307.6 463.5 296.6 463.6 278.8 463.6 323.4 464.0 306.9 464.0 279.8 464.2 310.4 464.3 278.0 464.5 300.2 464.5 300.0 464.7 303.2 465.0 278.2 465.0 293.8 465.5 277.3 465.5 277.8 465.7 277.9 465.8 274.1 466.0 274.6 466.0 276.3 466.2 276.8 466.5 271.5 466.5 273.1 466.5 271.3 466.6 276.2 466.7 270.3 467.0 272.0 467.0 274.4 467.2 269.9 467.3 276.2 467.5 272.4 467.5 275.2 467.6 276.6 467.8 271.6 468.0 272.7 468.0 276.6 468.1 272.7 468.5 278.2 468.5 275.3 468.5 276.7 468.6 276.1 469.0 289.9 469.0 290.1 469.1 278.4 469.5 302.3 469.5 289.4 469.6 278.2 470.0 308.9 470.0 297.8 470.0 279.4 470.1 277.8 470.2 317.7 470.5 315.8 470.5 323.3 470.6 277.8 471.0 337.4 471.0 342.3 471.0 342.7 471.4 279.0 471.5 283.2 471.5 321.1 471.5 278.8 471.6 325.3 472.0 316.0 472.0 323.0 472.0 323.9 472.4 278.3 472.5 311.8 472.5 290.8 472.6 312.7 472.7 278.6 473.0 283.7 473.0 295.9 473.3 300.6 473.4 278.6 473.5 279.1 473.5 286.0 473.9 275.7 474.0 278.3 474.0 276.9 474.1 277.4 474.4 273.2 474.5 276.8 474.5 273.1 475.0 275.6 475.0 271.0 475.0 273.7 475.2 275.6 475.3 270.1 475.5 270.2 475.5 270.7 475.6 270.3 475.7 275.8 476.0 271.5 476.0 274.4 476.3 272.4 476.4 277.3 476.5 273.6 476.5 276.1 476.6 274.3 476.9 278.6 477.0 276.0 477.0 276.5 477.4 295.3 477.5 292.0 477.5 294.6 477.7 278.6 477.9 302.1 478.0 278.8 478.0 299.3 478.2 311.6 478.5 278.4 478.5 304.8 478.7 278.8 478.8 319.5 479.0 290.3 479.0 303.9 479.2 278.4 479.2 329.0 479.5 298.1 479.5 322.8 479.8 341.5 480.0 300.3 480.0 286.8 480.1 319.9 480.3 278.8 480.5 316.8 480.5 314.7 480.8 278.9 481.0 287.1 481.0 279.0 481.1 307.6 481.5 295.8 481.5 280.3 481.6 292.9 482.0 277.1 482.0 277.2 482.1 279.1 482.5 274.1 482.5 274.5 482.7 277.6 483.0 272.4 483.0 274.3 483.0 272.5 483.4 271.2 483.5 276.1 483.5 273.4 483.6 270.5 483.8 275.5 484.0 274.0 484.3 272.6 484.5 276.2 484.5 274.2 484.6 273.7 484.8 278.0 485.0 276.5 485.0 276.6 485.1 275.5 485.5 285.9 485.5 284.2 485.5 283.1 485.8 294.6 485.9 278.6 486.0 292.2 486.0 287.6 486.0 278.4 486.5 309.2 486.5 301.2 486.5 278.2 486.8 318.3 487.0 281.6 487.0 315.7 487.0 290.9 487.3 340.6 487.5 296.3 487.5 291.9 487.7 278.9 487.8 330.8 488.0 319.3 488.0 315.6 488.1 278.7 488.1 327.7 488.5 295.7 488.5 295.8 488.5 313.4 488.7 279.6 489.0 312.1 489.0 287.1 489.0 313.2 489.1 279.3 489.5 302.7 489.5 297.1 489.5 279.0 489.6 300.1 490.0 281.1 490.0 287.7 490.4 277.0 490.5 277.5 490.5 278.0 490.6 278.6 490.9 274.5 491.0 275.6 491.0 274.7 491.2 277.4 491.4 273.1 491.5 273.3 491.5 276.0 491.6 276.6 491.8 272.0 492.0 273.6 492.0 274.6 492.2 276.3 492.3 272.2 492.5 273.1 492.5 273.6 492.9 278.6 493.0 274.5 493.0 276.3 493.1 274.8 493.4 279.2 493.5 277.5 493.5 276.8 494.0 290.8 494.0 290.2 494.2 279.3 494.4 297.3 494.5 280.1 494.5 292.1 494.7 302.0 495.0 278.9 495.0 279.9 495.0 285.0 495.2 279.1 495.4 312.5 495.5 305.5 495.5 305.8 495.6 280.0 496.0 319.7 496.0 322.7 496.1 325.1 496.5 277.5 496.5 284.9 496.9 307.5 496.9 276.6 497.0 298.2 497.0 301.9 497.1 306.8 497.2 277.1 497.5 278.7 497.5 295.6 497.6 299.3 497.6 276.8 498.0 287.4 498.0 296.3 498.4 277.0 498.5 280.0 498.5 278.4 498.6 279.4 499.0 272.6 499.0 272.5 499.4 270.4 499.5 276.2 499.5 271.2 499.5 270.4 499.6 274.7 499.8 268.1 500.0 273.4 500.0 273.0 500.3 267.3 500.4 274.8 500.5 270.9 500.5 269.4 500.6 275.4 500.7 268.7 501.0 274.2 501.0 272.9 501.2 271.1 501.2 276.1 501.5 272.5 501.5 274.1 501.5 273.7 502.0 280.6 502.0 277.7 502.2 277.0 502.5 294.8 502.5 286.2 502.6 276.9 502.9 306.1 503.0 293.7 503.0 277.7 503.2 307.6 503.3 277.1 503.5 290.1 503.5 307.6 503.8 277.1 503.9 319.5 504.0 278.7 504.0 301.4 504.1 277.1 504.3 325.8 504.5 298.7 504.5 303.0 504.6 334.0 505.0 280.3 505.0 309.3 505.0 283.1 505.2 318.7 505.3 278.1 505.5 280.0 505.5 281.5 505.7 305.4 505.7 278.3 506.0 279.2 506.0 278.6 506.0 296.8 506.1 278.3 506.5 283.3 506.5 288.2 506.6 289.8 507.0 276.1 507.0 277.1 507.0 277.9 507.1 278.1 507.4 273.2 507.5 274.4 507.5 273.6 507.9 272.1 508.0 276.4 508.0 273.1 508.0 276.2 508.4 270.3 508.5 273.5 508.5 273.6 508.6 270.3 508.9 276.1 509.0 272.0 509.0 272.6 509.3 272.4 509.5 277.1 509.6 273.4 510.0 278.8 510.0 278.5 510.1 276.0 510.5 283.5 510.5 289.2 510.8 278.4 510.8 294.3 511.0 283.4 511.0 290.8 511.2 278.1 511.4 300.8 511.5 296.2 511.5 302.7 511.7 304.7 511.8 278.5 512.0 288.6 512.0 307.5 512.1 278.5 512.5 320.6 512.5 319.1 512.5 318.5 512.9 279.2 513.0 289.8 513.0 307.0 513.0 313.9 513.4 279.1 513.5 288.8 513.5 304.4 513.6 279.4 514.0 281.0 514.0 279.9 514.1 299.2 514.4 279.5 514.5 286.0 514.5 292.8 514.6 294.3 514.9 279.0 515.0 280.2 515.0 283.3 515.4 276.1 515.5 277.1 515.6 278.6 515.9 274.5 516.0 274.7 516.0 274.9 516.1 277.6 516.4 273.5 516.5 274.7 516.5 273.4 516.6 276.7 516.9 272.8 517.0 273.7 517.0 273.1 517.1 272.5 517.4 277.7 517.5 273.9 517.5 274.6 518.0 278.2 518.0 275.9 518.1 275.9 518.5 279.3 518.5 279.9 518.5 278.0 518.9 293.2 519.0 289.3 519.0 279.4 519.2 279.4 519.5 303.8 519.5 279.9 519.7 279.6 520.0 312.0 520.0 280.5 520.4 279.1 520.4 316.8 520.5 302.9 520.5 300.2 520.9 279.6 520.9 325.1 521.0 300.6 521.0 320.2 521.1 288.9 521.3 330.9 521.5 299.5 521.5 288.4 521.7 278.9 521.8 313.5 522.0 310.5 522.0 295.1 522.2 307.0 522.4 278.9 522.5 285.6 522.5 294.4 522.6 301.6 523.0 278.2 523.0 284.9 523.2 288.0 523.5 276.8 523.5 277.3 523.5 277.6 523.7 278.1 523.9 274.4 524.0 277.6 524.0 275.7 524.4 272.6 524.4 277.1 524.5 273.3 524.5 274.2 524.8 275.5 525.0 270.5 525.0 272.1 525.1 270.5 525.1 276.6 525.5 272.9 525.5 270.9 525.9 277.0 526.0 276.6 526.1 272.9 526.3 278.1 526.5 276.3 526.5 275.5 526.9 283.8 527.0 279.1 527.0 283.3 527.1 278.5 527.4 298.0 527.5 290.1 527.5 289.2 527.6 278.4 527.8 305.3 528.0 302.7 528.0 280.2 528.2 312.1 528.3 278.3 528.5 293.8 528.5 287.6 528.9 278.5 529.0 319.2 529.0 279.3 529.0 279.8 529.4 333.2 529.5 316.4 529.5 320.7 529.8 279.1 530.0 308.0 530.0 279.2 530.1 307.6 530.5 279.5 530.5 283.1 530.7 303.8 530.9 279.0 531.0 279.8 531.0 279.6 531.1 298.0 531.5 279.4 531.5 281.3 531.6 283.1 532.0 276.7 532.0 277.8 532.0 277.4 532.2 278.1 532.4 274.7 532.5 276.5 532.5 275.9 532.6 277.9 532.8 273.1 533.0 276.6 533.0 276.7 533.3 276.8 533.3 271.9 533.5 276.4 533.5 273.1 533.6 272.4 534.0 278.0 534.0 274.0 534.1 273.8 534.4 277.8 534.5 275.5 534.5 277.6 534.6 276.0 534.9 279.1 535.0 278.7 535.0 279.0 535.1 277.8 535.4 290.6 535.5 279.7 535.5 280.5 535.8 279.2 536.0 299.6 536.0 295.6 536.2 303.5 536.3 278.7 536.5 296.9 536.5 283.7 536.8 278.9 537.0 310.1 537.0 280.4 537.0 302.6 537.2 279.1 537.5 318.5 537.5 313.1 537.5 295.4 537.7 323.9 538.0 283.0 538.0 290.2 538.0 278.3 538.3 309.0 538.4 278.1 538.5 305.4 538.5 286.0 538.7 305.4 538.9 277.5 539.0 279.1 539.0 297.4 539.2 277.7 539.5 289.3 539.5 285.1 539.6 288.6 539.9 276.7 540.0 278.4 540.0 276.9 540.1 278.0 540.3 274.0 540.5 274.2 540.5 273.5 540.8 276.7 540.9 270.6 541.0 273.0 541.0 273.7 541.3 275.6 541.4 269.2 541.5 272.3 541.5 273.8 541.7 268.7 541.8 274.0 542.0 271.2 542.0 274.2 542.3 270.2 542.4 275.7 542.5 271.6 542.5 275.3 542.7 271.8 542.9 277.3 543.0 275.8 543.0 273.5 543.5 281.6 543.5 278.4 543.5 281.1 543.8 277.2 544.0 298.7 544.0 287.9 544.2 277.4 544.3 303.7 544.5 289.0 544.5 304.9 544.8 277.1 545.0 313.1 545.0 299.5 545.0 315.4 545.2 277.7 545.4 322.6 545.5 278.1 545.5 281.8 545.9 335.4 546.0 328.4 546.0 324.1 546.5 278.2 546.5 308.8 546.5 302.4 546.7 315.4 547.0 277.8 547.0 306.6 547.0 310.2 547.4 278.5 547.5 278.9 547.5 300.1 547.7 278.1 548.0 282.4 548.0 287.5 548.1 288.3 548.5 276.6 548.5 277.2 548.5 278.6 549.0 272.8 549.0 273.8 549.3 277.0 549.4 272.2 549.5 274.5 549.5 271.6 549.7 270.1 549.8 275.5 550.0 270.9 550.0 273.6 550.1 270.8 550.3 276.0 550.5 273.3 550.5 273.5 550.5 271.4 551.0 276.9 551.0 274.5 551.0 274.8 551.0 273.5 551.4 277.9 551.5 277.7 551.5 276.2 552.0 291.7 552.0 283.4 552.0 277.9 552.5 308.1 552.5 278.1 552.5 285.2 552.7 278.8 552.9 313.2 553.0 279.0 553.0 315.8 553.5 278.1 553.5 330.9 553.5 333.1 553.6 280.3 554.0 351.6 554.0 349.6 554.0 347.0 554.2 284.5 554.5 331.6 554.5 300.3 554.6 278.1 554.6 330.8 555.0 314.9 555.0 315.7 555.1 322.6 555.3 278.2 555.5 279.5 555.5 278.0 555.6 312.9 555.9 278.0 556.0 302.4 556.0 290.2 556.0 302.4 556.2 277.9 556.5 285.9 556.5 277.7 556.5 280.9 557.0 274.1 557.0 275.8 557.0 277.7 557.4 272.0 557.5 275.5 557.5 271.6 557.8 276.2 557.9 270.3 558.0 271.1 558.0 273.8 558.1 275.0 558.3 269.1 558.5 271.2 558.5 272.3 558.5 269.6 558.8 275.8 559.0 272.1 559.0 272.6 559.1 271.8 559.4 277.2 559.5 275.8 559.5 273.7 560.0 280.8 560.0 278.0 560.1 277.4 560.4 296.2 560.5 278.8 560.5 294.9 560.8 301.7 560.9 278.2 561.0 278.7 561.0 298.7 561.4 278.3 561.4 315.2 561.5 293.2 561.5 309.8 561.7 320.0 561.8 278.1 562.0 306.2 562.0 319.9 562.0 286.2 562.3 337.0 562.5 298.1 562.5 328.6 562.8 277.7 563.0 279.0 563.0 303.5 563.2 320.3 563.4 277.6 563.5 310.3 563.5 300.3 563.7 308.6 563.8 278.4 564.0 294.9 564.0 278.8 564.1 301.3 564.3 277.8 564.5 279.4 564.5 288.4 564.6 289.3 565.0 275.6 565.0 276.3 565.0 278.1 565.5 272.5 565.5 273.5 565.5 276.4 565.9 270.7 566.0 273.6 566.0 276.2 566.3 269.7 566.5 271.8 566.5 270.5 566.6 268.9 566.8 275.9 567.0 273.0 567.0 272.4 567.1 270.4 567.2 276.1 567.5 274.0 567.5 272.0 568.0 277.2 568.0 276.4 568.1 275.9 568.5 289.9 568.5 290.1 568.6 278.2 568.8 300.3 569.0 280.2 569.0 302.8 569.4 277.6 569.4 307.4 569.5 306.4 569.5 300.8 569.6 277.6 570.0 311.8 570.0 277.6 570.0 299.1 570.2 277.8 570.4 319.0 570.5 302.0 570.5 311.5 570.7 338.3 570.9 285.4 571.0 287.0 571.0 317.1 571.0 324.3 571.5 279.0 571.5 310.4 571.5 314.7 571.6 316.3 571.8 278.4 572.0 295.8 572.0 297.5 572.2 305.6 572.4 279.0 572.5 293.7 572.5 278.5 572.6 298.1 573.0 287.0 573.0 280.6 573.0 281.6 573.4 275.8 573.5 277.7 573.5 276.9 573.8 278.1 574.0 272.9 574.0 273.1 574.0 276.3 574.2 277.3 574.4 271.7 574.5 274.6 574.5 272.3 574.8 270.4 574.9 276.1 575.0 272.6 575.0 272.0 575.2 271.6 575.2 275.9 575.5 274.2 575.5 272.5 575.6 272.1 575.9 277.3 576.0 274.8 576.0 274.0 576.5 278.7 576.5 277.8 577.0 289.7 577.0 280.9 577.0 279.7 577.3 292.7 577.5 278.9 577.5 279.3 577.6 278.5 577.9 298.3 578.0 288.9 578.0 300.4 578.1 303.3 578.3 278.6 578.5 278.9 578.5 290.3 578.6 279.0 579.0 314.3 579.4 279.5 579.5 295.1 579.5 279.6 579.7 303.0 579.8 278.8 580.0 294.4 580.0 280.8 580.0 279.4 580.1 298.9 580.5 295.9 580.5 291.0 580.6 294.3 580.9 279.2 581.0 279.7 581.0 285.7 581.0 289.4 581.5 277.8 581.5 279.4 581.7 279.5 581.8 276.2 582.0 277.5 582.0 276.3 582.4 278.0 582.4 274.2 582.5 275.5 582.5 276.9 582.8 277.5 582.9 272.7 583.0 273.5 583.0 272.9 583.3 272.2 583.5 277.3 583.5 275.8 583.6 273.5 583.9 278.2 584.0 275.1 584.0 276.9 584.1 275.6 584.2 278.6 584.5 277.1 584.5 277.9 584.6 277.2 585.0 286.5 585.0 285.2 585.0 279.7 585.2 279.4 585.5 304.7 585.5 302.8 585.5 279.2 585.9 304.4 586.0 280.3 586.0 284.2 586.1 279.2 586.3 319.3 586.5 280.9 586.5 320.5 586.7 279.1 586.9 326.9 587.0 313.6 587.0 287.0 587.1 279.4 587.2 337.0 587.5 336.0 587.5 341.6 587.6 343.9 588.0 278.6 588.0 316.4 588.1 320.3 588.4 278.5 588.5 297.8 588.5 298.4 588.5 310.9 588.7 278.5 589.0 297.8 589.0 298.9 589.5 278.2 589.5 288.5 589.9 275.9 590.0 276.8 590.0 276.6 590.1 278.0 590.5 273.2 590.5 274.2 590.5 274.8 590.7 277.6 590.8 272.4 591.0 274.1 591.0 272.6 591.1 276.6 591.4 271.1 591.5 271.5 591.5 274.6 591.6 271.1 591.8 276.1 592.0 271.8 592.0 274.7 592.1 272.9 592.5 277.9 592.5 276.8 592.5 274.3 592.9 278.2 593.0 277.4 593.0 278.4 593.1 277.1 593.4 293.4 593.5 286.1 593.5 291.5 593.8 279.0 594.0 306.2 594.0 303.4 594.1 279.0 594.3 313.6 594.5 279.0 594.5 289.9 594.7 278.8 594.8 322.1 595.0 280.3 595.0 326.3 595.0 283.5 595.3 344.7 595.5 331.6 595.5 300.7 595.6 330.7 595.9 278.1 596.0 322.5 596.0 317.0 596.1 325.6 596.2 277.7 596.5 278.1 596.5 304.7 596.6 315.7 596.8 278.1 597.0 278.9 597.0 278.3 597.1 277.5 597.3 302.0 597.5 279.3 597.5 299.4 597.9 277.4 598.0 279.7 598.0 278.2 598.0 280.3 598.4 273.9 598.5 274.2 598.5 273.9 598.5 277.5 599.0 271.3 599.0 272.3 599.0 276.3 599.5 269.8 599.5 271.7 599.5 270.2 599.5 269.3 600.0 274.5 600.0 272.0 600.1 270.3 600.4 276.8 600.5 272.5 600.5 273.6 600.6 272.1 600.9 277.3 601.0 275.1 601.0 276.5 601.0 274.5 601.5 282.0 601.5 281.2 601.5 279.4 602.0 293.8 602.0 286.8 602.2 298.8 602.4 278.0 602.5 285.9 602.5 288.2 602.7 278.0 602.9 305.5 603.0 302.7 603.0 302.8 603.2 278.0 603.5 279.5 603.5 299.6 603.6 279.2 603.9 324.0 604.0 317.9 604.0 313.7 604.1 314.0 604.3 278.2 604.5 305.8 604.5 287.9 604.6 305.2 604.6 278.3 605.0 304.0 605.0 286.7 605.1 300.1 605.2 277.6 605.5 290.0 605.5 278.0 605.5 295.8 606.0 278.2 606.0 285.6 606.4 275.0 606.5 275.4 606.5 277.1 606.9 273.7 607.0 274.4 607.0 272.0 607.1 276.4 607.4 271.1 607.5 272.1 607.5 273.4 607.8 275.6 608.0 269.1 608.0 270.8 608.1 268.6 608.2 276.3 608.5 275.5 608.5 272.3 608.6 270.6 608.9 276.9 609.0 276.1 609.0 273.0 609.4 278.0 609.5 276.4 609.5 276.0 609.5 275.4 610.0 284.8 610.0 284.9 610.3 277.8 610.3 294.2 610.5 278.8 610.5 294.6 610.8 301.6 610.9 278.3 611.0 290.6 611.0 302.2 611.1 277.9 611.5 310.1 611.5 282.6 611.8 325.5 612.0 291.4 612.0 289.9 612.1 320.3 612.1 278.9 612.5 280.0 612.5 307.0 612.5 312.8 612.6 277.1 613.0 308.6 613.0 283.4 613.1 307.2 613.4 277.9 613.5 282.4 613.5 301.7 613.8 277.5 614.0 280.9 614.0 291.1 614.1 296.4 614.5 278.1 614.5 281.3 614.5 281.8 614.9 273.9 615.0 277.0 615.3 271.9 615.5 276.0 615.5 273.7 615.6 275.9 615.9 270.3 616.0 275.6 616.0 274.6 616.0 275.6 616.3 268.8 616.5 270.7 616.5 269.6 616.6 269.4 616.8 276.3 617.0 270.6 617.0 275.8 617.1 271.5 617.4 276.4 617.5 274.5 617.5 273.2 618.0 279.6 618.0 281.0 618.1 277.3 618.5 298.3 618.5 277.9 618.6 277.1 618.8 301.6 619.0 278.6 619.0 284.6 619.1 307.2 619.2 278.1 619.5 295.0 619.5 294.2 619.6 277.4 619.9 320.2 620.0 315.2 620.0 301.4 620.1 277.4 620.4 325.8 620.5 310.2 620.5 317.2 620.6 334.5 621.0 280.3 621.0 302.6 621.0 279.5 621.1 278.9 621.1 313.4 621.5 285.7 621.5 310.6 621.6 279.1 622.0 294.5 622.0 289.9 622.2 300.3 622.3 279.5 622.5 283.0 622.5 279.4 622.5 289.8 623.0 275.3 623.0 275.6 623.2 277.7 623.5 273.0 623.5 274.3 623.5 273.0 623.8 276.6 623.9 271.5 624.0 276.3 624.0 275.9 624.1 276.0 624.1 269.9 624.5 270.6 624.5 272.4 624.5 275.2 624.6 268.8 625.0 273.5 625.0 274.1 625.1 270.2 625.4 276.7 625.5 275.6 625.5 274.1 625.6 272.2 626.0 277.5 626.0 277.1 626.1 275.1 626.5 284.4 626.5 279.0 626.5 291.4 626.7 277.5 626.9 301.9 627.0 299.5 627.0 296.3 627.3 277.6 627.3 311.7 627.5 280.5 627.5 314.2 627.7 277.7 628.0 322.7 628.0 279.5 628.0 278.0 628.0 322.4 628.1 277.9 628.5 315.2 628.5 323.8 628.6 347.9 629.0 279.6 629.0 316.7 629.1 327.0 629.5 277.6 629.5 290.3 629.6 323.6 630.0 277.5 630.0 296.5 630.0 288.7 630.1 311.1 630.5 277.9 630.5 296.0 630.5 292.1 630.6 301.8 630.7 277.8 631.0 285.2 631.0 286.4 631.5 273.9 631.5 274.8 631.5 275.1 631.7 276.9 631.9 272.2 632.0 273.1 632.0 271.4 632.3 274.7 632.3 270.4 632.5 272.2 632.5 273.2 632.5 275.9 632.8 268.0 633.0 269.9 633.0 270.5 633.1 269.9 633.2 275.7 633.5 275.1 633.5 271.0 633.9 277.0 634.0 274.2 634.0 273.2 634.4 277.7 634.5 277.0 634.5 277.1 635.0 297.0 635.0 279.8 635.1 277.5 635.3 301.2 635.5 298.8 635.5 281.6 636.0 278.2 636.0 315.7 636.0 302.5 636.1 278.4 636.5 339.2 636.5 339.0 636.5 338.7 636.9 277.7 637.0 293.6 637.0 307.6 637.2 330.0 637.4 278.6 637.5 314.3 637.5 305.9 637.8 278.6 637.9 317.4 638.0 306.5 638.0 294.4 638.1 315.4 638.3 278.6 638.5 287.6 638.5 303.9 638.9 278.4 639.0 294.3 639.0 299.2 639.4 278.2 639.5 278.6 639.5 276.6 639.7 278.7 640.0 274.6 640.0 276.4 640.3 277.4 640.3 272.8 640.5 273.9 640.5 274.2 640.7 276.7 640.8 271.2 641.0 273.0 641.0 275.8 641.1 270.4 641.2 276.6 641.5 276.1 641.5 274.2 641.6 271.9 641.9 277.3 642.0 275.7 642.0 273.9 642.0 278.2 642.5 276.3 642.5 276.6 642.5 275.2 643.0 283.1 643.0 283.0 643.0 282.0 643.1 278.8 643.3 297.3 643.5 287.5 643.5 285.6 643.5 278.4 643.8 302.8 644.0 279.9 644.0 304.1 644.1 278.9 644.2 307.5 644.5 307.0 644.5 310.3 644.6 313.7 644.8 278.4 645.0 284.1 645.0 309.4 645.2 280.2 645.2 322.7 645.5 319.1 645.5 322.4 645.5 328.3 646.0 277.7 646.0 304.6 646.0 277.4 646.3 310.6 646.5 277.1 646.5 291.7 646.5 282.0 646.6 277.6 646.7 298.6 647.0 280.6 647.0 278.9 647.3 295.1 647.4 277.8 647.5 277.9 647.5 284.1 647.5 287.5 648.0 274.2 648.0 275.1 648.0 276.8 648.3 277.1 648.4 271.6 648.5 273.5 648.5 273.7 648.6 275.6 649.0 269.3 649.0 274.3 649.0 269.0 649.2 275.5 649.2 267.8 649.5 274.0 649.5 271.8 649.6 267.6 649.7 274.9 650.0 273.3 650.0 271.1 650.2 270.5 650.4 275.4 650.5 273.9 650.5 275.1 650.7 272.6 650.9 277.4 651.0 275.1 651.0 275.0 651.4 286.2 651.5 284.6 651.5 283.0 651.6 277.1 651.7 291.1 652.0 283.8 652.0 282.6 652.2 276.6 652.4 300.2 652.5 280.3 652.5 298.2 652.9 304.6 652.9 277.2 653.0 303.8 653.0 306.9 653.1 277.8 653.3 307.7 653.5 299.4 653.5 306.5 653.6 316.2 653.9 283.6 654.0 302.8 654.0 279.2 654.0 307.7 654.2 278.6 654.5 295.9 654.5 290.0 654.5 302.0 654.7 278.5 655.0 291.9 655.0 298.0 655.1 277.6 655.5 279.1 655.5 283.7 655.5 288.7 656.0 277.8 656.0 280.3 656.5 273.6 656.5 276.8 656.6 276.9 656.9 271.9 657.0 274.1 657.0 273.0 657.0 276.6 657.5 270.4 657.5 272.8 657.5 270.2 657.8 275.9 658.0 274.6 658.0 271.2 658.1 270.8 658.2 276.3 658.5 274.3 658.5 272.1 658.7 277.0 659.0 273.8 659.0 275.8 659.0 274.8 659.5 279.9 659.5 278.1 659.5 277.4 659.5 277.3 660.0 292.1 660.0 282.4 660.0 289.7 660.3 278.1 660.5 297.8 660.5 292.0 660.5 278.2 660.6 278.0 660.8 301.2 661.0 297.7 661.0 296.7 661.3 304.8 661.4 278.0 661.5 283.8 661.5 279.4 662.0 314.9 662.0 314.7 662.0 315.0 662.4 278.1 662.5 278.6 662.5 295.4 662.6 299.9 662.7 277.5 663.0 291.5 663.0 280.3 663.1 300.0 663.2 277.4 663.5 289.7 663.5 290.6 663.6 293.2 663.8 277.5 664.0 286.1 664.0 277.9 664.1 284.2 664.4 275.6 664.5 276.3 664.5 276.5 664.8 277.6 664.9 272.8 665.0 273.7 665.0 275.0 665.2 276.4 665.2 271.6 665.5 273.9 665.5 272.8 665.9 275.8 666.0 268.9 666.0 269.8 666.0 268.0 666.0 275.3 666.5 274.3 666.5 276.0 666.6 270.5 666.8 276.7 667.0 273.1 667.0 273.0 667.0 271.8 667.5 278.1 667.5 274.8 667.5 276.7 667.6 275.5 668.0 286.9 668.0 285.5 668.0 284.8 668.2 278.3 668.5 292.7 668.5 277.7 668.9 297.0 668.9 277.5 669.0 293.1 669.0 291.1 669.2 281.0 669.3 299.6 669.5 299.3 669.5 295.0 669.6 278.2 669.8 306.8 670.0 303.9 670.0 305.6 670.1 313.7 670.4 281.9 670.5 294.1 670.5 303.1 670.8 303.1 670.9 278.9 671.0 279.2 671.0 279.0 671.1 300.9 671.3 278.6 671.5 281.4 671.5 298.0 671.8 278.3 672.0 284.4 672.0 289.6 672.2 291.5 672.4 278.7 672.5 282.1 672.5 278.2 672.6 280.5 672.7 276.3 673.0 276.7 673.0 277.1 673.3 277.4 673.4 272.9 673.5 273.4 673.5 273.1 673.6 277.0 673.9 271.3 674.0 272.1 674.0 274.5 674.3 275.9 674.5 271.1 674.5 271.7 674.6 271.1 674.9 276.8 675.0 272.9 675.0 276.5 675.1 273.5 675.4 278.3 675.5 275.6 675.5 276.0 675.5 274.6 675.9 278.6 676.0 277.7 676.0 280.1 676.4 278.6 676.5 289.7 676.5 277.7 676.8 295.5 677.0 279.1 677.0 280.5 677.5 305.5 677.5 278.6 677.5 288.5 677.7 278.4 677.9 308.7 678.0 303.0 678.0 296.4 678.1 281.0 678.4 320.9 678.5 306.3 678.5 304.6 678.6 315.2 678.8 278.2 679.0 303.9 679.0 279.5 679.1 307.8 679.1 277.7 679.5 296.6 679.5 300.7 679.6 277.7 680.0 278.7 680.0 278.6 680.1 295.0 680.2 277.6 680.5 284.4 680.5 278.5 680.6 287.7 680.9 276.8 681.0 278.2 681.0 275.4 681.2 278.0 681.4 273.4 681.5 274.7 681.5 275.9 681.6 277.0 681.9 271.7 682.0 275.1 682.0 276.4 682.4 269.6 682.5 272.1 682.5 273.4 682.6 268.6 682.9 275.2 683.0 271.7 683.0 270.5 683.4 276.9 683.5 273.6 683.5 276.6 683.8 273.5 684.0 277.5 684.0 276.4 684.0 274.4 684.5 286.6 684.5 279.2 684.5 286.2 684.7 277.6 684.8 298.4 685.0 280.2 685.0 294.5 685.4 306.7 685.4 278.2 685.5 288.4 685.5 287.4 685.8 278.0 685.9 316.7 686.0 304.5 686.0 303.2 686.1 278.0 686.4 322.1 686.5 321.9 686.5 327.5 686.5 277.9 687.0 319.1 687.0 323.8 687.1 336.6 687.4 280.9 687.5 304.1 687.5 301.6 687.6 314.9 687.8 278.1 688.0 279.1 688.0 291.6 688.1 304.3 688.5 278.1 688.5 301.4 688.7 278.1 689.0 279.1 689.0 278.9 689.0 286.4 689.4 275.2 689.5 277.9 689.5 276.6 689.6 277.7 689.8 273.0 690.0 275.8 690.0 276.6 690.1 276.9 690.3 271.4 690.5 274.3 690.5 273.6 690.5 276.0 690.7 269.7 691.0 274.2 691.0 275.5 691.2 269.4 691.5 276.4 691.5 274.3 691.5 271.9 691.6 271.1 692.0 277.3 692.0 274.5 692.0 272.9 692.3 277.8 692.5 276.5 692.5 276.9 692.9 292.2 693.0 286.6 693.0 293.1 693.4 277.8 693.5 305.0 693.5 298.7 693.5 278.3 693.6 278.0 694.0 312.7 694.0 292.0 694.0 295.7 694.1 278.3 694.4 316.5 694.5 316.0 694.5 317.8 694.6 278.3 694.7 329.2 695.0 306.1 695.0 312.5 695.2 342.6 695.5 280.5 695.5 288.2 695.7 277.9 695.8 321.9 696.0 280.2 696.0 307.4 696.1 277.7 696.4 310.9 696.5 299.7 696.5 296.9 696.6 305.8 696.7 278.4 697.0 298.0 697.0 285.1 697.0 300.7 697.5 276.6 697.5 278.5 697.5 277.0 697.8 278.2 697.8 274.7 698.0 275.6 698.0 275.3 698.2 277.2 698.5 271.7 698.5 273.3 698.6 276.2 698.9 270.1 699.0 272.1 699.0 274.2 699.1 269.4 699.5 275.9 699.5 271.6 699.5 270.3 699.7 276.3 700.0 276.0 700.0 272.8 700.0 272.7 700.4 277.1 700.5 274.6 700.5 277.2 700.6 274.2 701.0 284.8 701.0 282.6 701.4 278.3 701.5 295.1 701.5 283.2 701.5 292.0 701.9 278.5 701.9 301.6 702.0 288.7 702.0 279.3 702.3 306.7 702.3 277.7 702.5 285.8 702.5 286.5 702.9 278.1 702.9 315.7 703.0 314.1 703.0 277.9 703.1 322.0 703.5 318.8 703.5 323.3 703.6 329.3 703.9 280.9 704.0 297.8 704.0 313.4 704.5 278.7 704.5 282.8 704.6 306.7 705.0 278.3 705.0 280.3 705.2 278.7 705.3 296.6 705.5 278.8 705.5 287.8 706.0 276.2 706.0 277.0 706.0 278.3 706.5 274.0 706.5 275.7 706.5 277.1 706.6 277.2 706.9 272.5 707.0 275.1 707.0 271.4 707.2 275.6 707.4 271.0 707.5 271.0 707.5 271.1 707.6 276.6 708.0 273.3 708.0 273.5 708.0 272.8 708.5 276.9 708.5 275.4 708.5 274.6 708.7 278.0 709.0 276.8 709.0 277.4 709.0 276.3 709.5 289.2 709.5 288.1 709.7 278.7 710.0 297.3 710.0 293.9 710.2 278.6 710.5 303.8 710.5 297.9 710.5 298.6 710.6 281.3 711.0 306.4 711.0 308.7 711.2 325.2 711.5 288.2 711.5 288.0 711.6 319.7 712.0 278.1 712.0 280.4 712.1 308.4 712.2 278.1 712.5 280.0 712.5 285.5 712.7 306.3 712.8 278.3 713.0 278.7 713.0 282.0 713.2 299.0 713.4 277.7 713.5 294.1 713.5 292.6 713.9 277.8 714.0 280.9 714.0 279.6 714.3 274.8 714.5 276.7 714.5 276.0 714.5 277.4 714.9 271.5 715.0 271.6 715.0 271.5 715.1 275.9 715.4 270.8 715.5 275.9 715.5 275.7 715.6 275.7 715.9 269.1 716.0 271.9 716.0 269.6 716.5 275.7 716.5 271.8 716.6 271.8 717.0 278.0 717.0 277.5 717.1 274.8 717.5 280.6 717.5 280.4 717.5 278.7 717.8 289.1 718.0 277.9 718.0 287.7 718.0 287.4 718.3 278.0 718.3 293.0 718.5 289.8 718.5 284.7 718.7 278.2 718.8 303.9 719.0 290.5 719.0 300.5 719.2 278.2 719.5 305.7 719.5 310.9 719.6 322.0 719.8 295.5 720.0 308.5 720.0 309.6 720.2 277.6 720.3 310.0 720.5 298.6 720.5 280.4 720.7 304.3 720.8 277.8 721.0 278.1 721.0 282.3 721.1 302.3 721.1 277.6 721.5 282.7 721.5 282.4 721.6 276.6 721.7 294.3 722.0 283.7 722.0 278.2 722.2 283.9 722.5 275.0 722.5 276.9 723.0 272.9 723.0 276.5 723.2 270.8 723.5 271.5 723.5 275.4 723.5 275.8 723.9 268.0 724.0 270.7 724.0 270.3 724.0 268.4 724.2 274.7 724.5 274.4 724.5 275.2 724.5 269.7 725.0 276.4 725.0 273.3 725.0 272.7 725.1 272.7 725.4 276.9 725.5 275.7 725.5 275.3 725.6 274.7 725.9 286.9 726.0 283.7 726.0 284.5 726.0 277.2 726.3 291.7 726.5 291.0 726.5 292.4 726.5 278.3 726.9 298.6 727.0 289.8 727.0 277.4 727.5 315.8 727.5 317.6 728.0 277.7 728.0 277.9 728.0 281.4 728.1 312.9 728.2 279.2 728.5 283.1 728.5 306.2 728.6 310.4 728.7 278.4 729.0 295.2 729.0 294.5 729.1 278.9 729.2 303.6 729.5 293.1 729.5 278.7 729.6 299.0 729.7 278.6 730.0 288.9 730.0 292.0 730.1 292.8 730.4 278.4 730.5 283.8 730.5 280.1 730.6 280.8 730.8 276.0 731.0 276.4 731.0 275.1 731.1 278.1 731.5 272.8 731.5 275.1 731.6 271.9 731.8 276.5 732.0 273.2 732.0 271.9 732.1 276.2 732.4 270.5 732.5 272.5 732.5 271.6 732.6 270.9 732.6 276.5 733.0 274.9 733.0 274.5 733.1 273.0 733.5 276.8 733.5 274.4 733.6 274.3 734.0 277.8 734.0 277.4 734.1 277.3 734.4 295.1 734.5 279.8 734.5 291.5 734.8 278.4 734.9 305.1 735.0 294.6 735.0 292.5 735.3 278.2 735.4 315.0 735.5 299.5 735.5 278.1 736.0 321.8 736.0 278.7 736.0 305.5 736.3 328.8 736.3 279.7 736.5 316.8 736.5 311.1 736.6 341.0 736.9 284.5 737.0 319.9 737.0 305.3 737.0 323.6 737.4 277.6 737.5 299.0 737.5 309.8 737.7 277.9 737.8 311.1 738.0 278.0 738.0 295.0 738.2 301.7 738.2 277.7 738.5 298.9 738.5 290.1 738.5 293.6 738.8 277.6 739.0 278.0 739.0 278.3 739.1 278.4 739.3 273.7 739.5 274.0 739.5 273.6 739.6 276.3 739.9 271.6 740.0 273.2 740.0 272.5 740.1 275.1 740.3 269.5 740.5 271.5 740.5 272.8 740.6 268.3 741.0 274.9 741.0 275.2 741.2 270.1 741.5 275.2 741.5 274.8 741.6 272.8 741.8 277.7 742.0 274.8 742.0 277.1 742.0 274.3 742.5 286.0 742.5 281.5 742.5 286.8 742.7 278.2 742.8 297.5 743.0 278.8 743.0 279.9 743.2 277.9 743.5 307.0 743.5 304.4 743.5 294.6 743.6 277.9 743.9 314.9 744.0 287.4 744.0 288.1 744.4 279.6 744.4 323.5 744.5 321.2 744.5 298.8 744.7 279.4 745.0 334.6 745.0 334.5 745.4 278.2 745.5 280.5 745.5 279.3 745.9 308.7 746.0 278.2 746.0 280.5 746.0 304.4 746.1 306.4 746.4 278.4 746.5 298.7 746.5 279.5 746.7 293.7 746.7 278.1 747.0 288.5 747.0 285.4 747.4 274.8 747.5 275.3 747.5 276.5 747.5 277.7 748.0 273.0 748.0 275.1 748.3 276.6 748.5 270.8 748.5 274.8 748.5 273.8 748.9 275.9 748.9 268.9 749.0 271.2 749.0 271.3 749.1 269.5 749.3 276.1 749.5 273.6 749.5 276.3 749.6 271.9 749.7 276.7 750.0 275.9 750.1 273.3 750.4 278.4 750.5 277.0 750.5 276.3 751.0 285.0 751.0 279.7 751.0 287.7 751.2 277.9 751.5 291.8 751.5 284.2 751.6 278.2 751.9 298.1 752.0 292.0 752.0 285.1 752.4 301.9 752.5 278.5 752.5 279.6 753.0 311.5 753.0 307.1 753.0 303.8 753.0 305.6 753.5 280.0 753.5 290.8 753.5 297.5 753.6 300.0 753.8 277.1 754.0 298.4 754.0 288.1 754.2 299.6 754.2 276.7 754.5 292.4 754.5 281.5 754.6 276.7 754.6 291.0 755.0 278.1 755.0 292.2 755.1 276.9 755.5 278.1 755.5 275.8 755.5 277.3 755.9 273.0 756.0 275.6 756.0 274.1 756.2 276.5 756.5 269.5 756.5 271.3 756.5 275.2 757.0 268.9 757.0 269.6 757.0 270.9 757.2 274.4 757.2 266.9 757.5 268.0 757.5 273.7 757.6 268.3 758.0 275.3 758.0 271.6 758.0 274.8 758.1 270.6 758.2 277.1 758.5 276.1 758.5 275.4 758.6 273.3 759.0 281.2 759.0 278.4 759.0 284.7 759.4 298.6 759.5 277.3 759.5 279.1 759.7 277.0 760.0 306.2 760.0 300.8 760.0 302.8 760.3 278.0 760.5 320.0 760.5 278.2 760.5 276.7 760.9 325.3 761.0 281.7 761.0 323.9 761.0 286.2 761.3 338.9 761.5 312.2 761.5 292.5 761.6 321.8 761.7 278.8 762.0 320.3 762.0 297.8 762.0 315.4 762.2 277.7 762.5 309.4 762.5 278.9 762.6 309.5 762.9 278.1 763.0 280.8 763.0 298.6 763.1 300.1 763.3 278.3 763.5 291.2 763.5 286.4 763.5 288.5 763.9 275.7 764.0 276.0 764.0 278.4 764.4 273.0 764.5 275.8 764.5 273.8 764.9 270.8 765.0 276.1 765.0 271.8 765.0 272.6 765.1 269.3 765.2 275.8 765.5 273.4 765.5 272.0 765.7 269.0 765.8 275.5 766.0 270.5 766.0 271.3 766.3 271.2 766.5 276.8 766.5 272.7 767.0 277.2 767.0 276.6 767.0 276.3 767.1 276.2 767.4 285.0 767.5 284.2 767.5 280.0 767.6 277.6 767.9 293.8 768.0 277.6 768.0 284.5 768.2 295.8 768.4 278.2 768.5 283.1 768.5 296.1 768.9 277.8 768.9 305.3 769.0 301.3 769.0 279.9 769.0 278.8 769.5 308.3 769.5 311.3 769.6 316.0 770.0 278.2 770.0 292.4 770.0 306.0 770.1 277.5 770.5 290.3 770.5 296.6 770.6 301.9 770.7 277.4 771.0 281.9 771.0 284.9 771.3 293.7 771.5 277.0 771.5 278.3 771.5 280.5 771.6 277.5 771.6 289.1 772.0 278.7 772.0 277.3 772.0 280.4 772.4 273.5 772.5 274.1 772.5 274.9 772.8 270.8 772.9 276.9 773.0 276.4 773.0 271.1 773.3 275.8 773.5 269.8 773.5 271.5 773.8 267.8 774.0 275.2 774.0 269.3 774.1 268.9 774.3 275.9 774.5 274.6 774.5 275.4 774.6 271.3 775.0 276.3 775.0 273.8 775.2 277.4 775.5 275.4 775.5 278.9 775.9 289.8 775.9 277.8 776.0 283.5 776.0 291.0 776.3 296.6 776.4 277.5 776.5 294.2 776.5 295.1 776.9 277.0 776.9 300.2 777.0 278.8 777.0 295.2 777.2 277.3 777.2 306.4 777.5 282.4 777.5 280.9 777.8 321.4 778.0 310.8 778.0 285.2 778.0 313.1 778.2 277.5 778.5 291.6 778.5 279.5 778.5 304.1 778.6 277.6 779.0 298.5 779.0 296.9 779.0 297.7 779.3 278.1 779.5 286.2 779.5 284.4 779.6 293.5 779.9 277.3 780.0 278.0 780.0 287.9 780.1 288.3 780.4 275.2 780.5 275.8 780.5 277.7 781.0 271.3 781.0 275.8 781.2 276.3 781.4 270.1 781.5 275.0 781.5 270.0 781.8 275.6 781.9 267.7 782.0 270.4 782.0 275.1 782.2 268.1 782.5 272.8 782.5 274.9 782.5 269.7 782.9 276.4 783.0 275.9 783.0 271.3 783.0 276.7 783.5 276.3 783.5 276.4 783.6 274.9 784.0 284.3 784.0 284.7 784.3 295.8 784.5 276.9 784.5 277.9 784.6 277.3 784.9 302.7 785.0 301.3 785.0 296.0 785.4 277.0 785.4 309.3 785.5 279.9 785.5 284.2 785.7 277.4 785.8 311.6 786.0 279.0 786.0 312.3 786.1 278.1 786.5 324.7 786.5 320.4 786.5 317.1 787.0 279.5 787.0 300.1 787.0 296.3 787.0 307.0 787.4 278.6 787.5 283.3 787.5 302.7 787.6 303.6 787.8 277.2 788.0 277.7 788.0 282.9 788.1 277.8 788.2 296.3 788.5 280.8 788.5 282.0 788.9 274.4 789.0 274.6 789.0 274.8 789.3 276.5 789.4 272.0 789.5 273.3 789.5 276.3 789.6 276.4 789.9 270.5 790.0 271.6 790.0 269.9 790.1 275.0 790.5 268.3 790.5 274.4 790.5 268.5 790.8 275.7 791.0 273.6 791.0 271.2 791.1 276.8 791.2 270.6 791.5 273.1 791.5 275.4 791.6 272.7 792.0 278.8 792.0 276.0 792.5 292.3 792.5 291.7 792.5 278.3 792.9 277.7 793.0 298.0 793.0 280.8 793.0 292.1 793.2 300.6 793.4 277.0 793.5 282.2 793.5 288.9 793.5 277.9 794.0 311.4 794.0 298.4 794.0 296.3 794.1 276.9 794.2 314.2 794.5 304.2 794.5 303.8 794.7 325.3 795.0 282.8 795.0 303.9 795.4 277.7 795.5 306.3 795.5 283.7 795.6 305.9 795.9 279.3 796.0 287.5 796.0 278.8 796.0 277.8 796.2 298.0 796.5 291.8 796.5 278.8 796.6 290.6 797.0 276.7 797.0 277.0 797.0 278.3 797.5 273.7 797.5 274.2 797.5 277.1 798.0 271.4 798.0 276.3 798.4 270.1 798.5 272.9 798.5 270.0 798.7 269.0 798.9 275.3 799.0 271.8 799.0 275.5 799.1 275.8 799.2 270.5 799.5 274.0 799.5 273.4 799.7 272.4 800.0 276.9 800.0 275.5 800.0 275.0 800.1 274.8 800.5 284.3 800.5 281.1 800.5 278.3 800.9 294.6 801.0 290.1 801.0 294.3 801.2 277.9 801.5 300.8 801.5 279.6 801.5 280.5 801.6 278.0 801.9 306.3 802.0 293.4 802.0 309.2 802.2 314.6 802.5 277.9 802.5 293.7 802.6 280.1 803.0 325.7 803.0 320.6 803.0 317.0 803.2 317.5 803.5 278.2 803.5 278.9 803.7 309.2 803.8 277.8 804.0 300.2 804.0 304.3 804.1 304.6 804.4 278.7 804.5 292.5 804.5 281.4 804.6 294.9 804.7 277.5 805.0 287.8 805.0 287.0 805.4 276.0 805.5 277.6 805.5 276.7 805.7 274.0 805.8 278.1 806.0 275.5 806.0 272.3 806.1 276.6 806.3 271.0 806.5 275.5 806.5 273.0 806.6 275.0 806.9 269.2 807.0 273.0 807.0 270.6 807.1 270.0 807.2 275.9 807.5 271.2 807.5 273.5 807.6 271.5 807.9 276.1 808.0 274.1 808.0 276.0 808.2 273.9 808.4 278.5 808.5 277.5 808.5 275.5 809.0 287.1 809.0 286.5 809.1 278.6 809.4 294.8 809.5 279.3 809.5 293.6 809.6 277.9 809.9 300.8 810.0 278.2 810.0 278.9 810.1 303.3 810.3 277.7 810.5 300.8 810.5 278.3 810.6 278.1 810.8 311.6 811.0 287.5 811.0 299.6 811.2 319.3 811.4 290.9 811.5 307.2 811.5 303.6 811.6 308.6 811.9 277.8 812.0 278.2 812.0 304.3 812.4 278.2 812.5 297.6 812.5 290.4 812.6 297.1 812.7 277.8 813.0 278.5 813.0 286.5 813.0 292.1 813.4 277.5 813.5 280.2 813.5 281.7 813.9 274.0 814.0 274.1 814.0 277.1 814.2 277.2 814.3 272.0 814.5 273.5 814.5 274.6 814.9 276.3 814.9 269.9 815.0 275.2 815.0 271.6 815.3 268.6 815.3 275.2 815.5 274.9 815.5 272.4 815.6 269.2 815.6 276.0 816.0 272.7 816.0 271.9 816.1 271.6 816.4 277.1 816.5 275.7 816.5 274.0 817.0 279.7 817.0 278.6 817.0 281.0 817.4 291.4 817.4 278.2 817.5 286.0 817.5 291.1 817.6 278.0 818.0 297.9 818.0 277.8 818.3 304.3 818.5 277.6 818.5 292.5 818.5 305.4 818.6 309.4 818.8 278.0 819.0 286.0 819.0 286.5 819.0 283.0 819.3 320.8 819.5 309.5 819.5 306.3 819.6 308.5 820.0 277.7 820.0 284.6 820.0 303.7 820.1 307.5 820.2 277.4 820.5 300.1 820.5 290.1 820.7 277.5 820.9 299.3 821.0 279.4 821.0 293.2 821.1 295.7 821.3 278.2 821.5 282.2 821.5 279.4 821.6 284.4 821.9 275.2 822.0 276.7 822.0 275.9 822.2 277.5 822.4 272.9 822.5 273.5 822.5 272.3 822.6 275.8 823.0 270.3 823.0 272.9 823.3 275.9 823.4 268.2 823.5 271.1 823.5 268.2 823.7 275.0 824.0 273.3 824.0 274.8 824.1 270.6 824.4 276.1 824.5 273.2 824.5 275.9 824.7 272.8 825.0 277.6 825.0 276.8 825.0 277.3 825.1 275.5 825.5 282.7 825.5 282.3 825.6 277.8 825.7 287.3 826.0 286.3 826.0 287.8 826.2 277.4 826.4 290.5 826.5 279.8 826.5 279.0 826.7 277.9 827.0 294.8 827.0 295.3 827.1 277.8 827.4 299.6 827.5 284.1 827.5 287.4 827.7 305.0 828.0 280.0 828.0 293.2 828.0 279.3 828.1 298.4 828.5 277.8 828.5 278.8 828.5 290.0 828.6 277.4 828.8 294.4 829.0 290.7 829.0 285.4 829.3 288.7 829.4 277.2 829.5 284.2 829.5 287.4 829.9 277.5 830.0 279.5 830.0 279.6 830.5 274.6 830.5 274.2 830.6 276.4 830.7 272.4 831.0 274.9 831.0 274.3 831.1 275.1 831.3 269.7 831.5 274.7 831.5 273.8 831.7 268.1 831.7 274.5 832.0 268.7 832.0 271.9 832.0 268.8 832.4 274.9 832.5 274.5 832.5 273.2 832.7 271.2 832.8 276.7 833.0 273.9 833.0 272.8 833.5 279.3 833.5 277.2 833.9 290.0 834.0 286.8 834.0 278.5 834.2 276.9 834.4 287.8 834.5 277.4 834.5 285.4 834.6 295.0 834.7 277.2 835.0 292.1 835.0 289.5 835.4 279.3 835.4 301.4 835.5 283.2 835.5 299.2 835.5 280.4 835.9 312.2 836.0 304.4 836.0 296.7 836.1 304.3 836.4 277.7 836.5 285.2 836.5 281.0 836.6 277.6 836.7 300.4 837.0 289.0 837.0 277.6 837.1 294.2 837.3 277.6 837.5 285.3 837.5 285.8 837.7 289.4 837.8 277.1 838.0 284.3 838.0 278.6 838.0 285.6 838.4 275.5 838.5 277.8 838.5 276.4 838.7 277.3 838.9 272.3 839.0 272.8 839.0 276.1 839.5 270.1 839.5 270.4 839.6 274.5 840.0 268.1 840.0 269.0 840.0 267.8 840.3 274.6 840.5 270.6 840.5 273.8 840.7 269.8 840.8 275.6 841.0 272.2 841.0 275.5 841.1 271.2 841.5 278.1 841.5 275.5 841.6 274.7 842.0 284.0 842.0 277.1 842.3 291.7 842.5 286.0 842.5 295.4 842.5 277.9 843.0 300.8 843.0 294.2 843.0 301.0 843.1 277.3 843.4 306.2 843.5 282.6 843.5 277.5 844.0 322.2 844.0 323.5 844.3 279.9 844.5 280.0 844.5 306.7 844.6 314.2 844.8 276.7 845.0 309.3 845.0 285.4 845.1 303.9 845.3 277.1 845.5 302.2 845.5 280.8 845.5 301.4 845.7 277.5 846.0 295.9 846.0 279.0 846.0 277.9 846.2 293.6 846.5 281.6 846.5 279.1 846.5 283.5 846.9 273.7 847.0 276.4 847.0 275.9 847.1 276.8 847.3 270.9 847.5 273.6 847.5 274.4 847.6 275.6 847.8 270.0 848.0 270.3 848.0 268.7 848.4 266.9 848.4 275.0 848.5 268.7 848.5 268.4 848.6 267.9 848.9 275.5 849.0 272.3 849.0 273.4 849.2 270.5 849.2 276.1 849.5 275.8 849.5 273.6 849.6 272.7 849.9 277.3 850.0 275.6 850.0 277.3 850.2 277.2 850.5 299.6 850.5 288.9 850.8 278.8 850.9 305.1 851.0 287.6 851.0 278.1 851.4 277.3 851.5 318.0 851.5 293.3 851.6 277.5 852.0 329.7 852.0 277.2 852.4 338.5 852.5 323.7 852.5 340.9 852.6 277.3 853.0 332.1 853.0 337.1 853.1 347.3 853.4 278.5 853.5 302.9 853.5 314.1 853.8 316.8 853.9 276.8 854.0 301.9 854.0 289.3 854.1 302.0 854.3 277.0 854.5 279.0 854.5 292.5 855.0 275.5 855.0 278.8 855.0 275.3 855.2 277.0 855.4 272.8 855.5 274.2 855.5 271.3 855.5 275.7 855.9 269.7 856.0 271.2 856.0 272.4 856.1 274.8 856.5 267.4 856.5 268.1 856.8 267.3 856.8 274.7 857.0 270.1 857.0 268.1 857.4 275.8 857.5 274.1 857.5 271.7 857.7 270.7 858.0 277.3 858.0 274.6 858.0 274.5 858.1 273.7 858.5 280.6 858.5 279.7 858.6 277.3 858.8 286.5 859.0 282.7 859.0 279.1 859.2 277.7 859.3 292.0 859.5 278.2 859.5 278.8 859.8 277.2 859.9 295.4 860.0 292.3 860.0 293.8 860.1 298.4 860.2 277.0 860.5 287.0 860.5 291.6 860.7 304.6 861.0 281.8 861.0 286.0 861.0 293.1 861.2 278.3 861.2 298.1 861.5 297.8 861.5 285.7 861.5 278.0 861.7 295.4 862.0 285.6 862.0 291.7 862.0 292.6 862.2 278.8 862.5 279.0 862.5 289.3 863.0 277.9 863.0 283.9 863.0 281.5 863.4 275.4 863.5 276.3 863.5 277.7 863.8 273.3 864.0 275.6 864.0 276.8 864.5 270.4 864.5 272.8 864.5 273.5 864.6 276.3 864.6 270.3 864.8 273.8" fill="none" stroke="#1f77b4" stroke-width="2.5" stroke-linecap="square" stroke-linejoin="round"/>
<path d="M125.5 378.5V261.5M900.5 378.5V261.5M125.5 378.5H900.5M125.5 261.5H900.5M202.5 378.5v4.86M285.5 378.5v4.86M367.5 378.5v4.86M450.5 378.5v4.86M533.5 378.5v4.86M616.5 378.5v4.86M699.5 378.5v4.86M782.5 378.5v4.86M865.5 378.5v4.86M125.5 349.5h-4.86M125.5 307.5h-4.86M125.5 266.5h-4.86" fill="none" stroke="#000" stroke-width="1.1111" stroke-linecap="square"/>
<g style="will-change:opacity" opacity="0.999"><text transform="translate(169.59 415.76) rotate(-30)" style="font-size:13.889px">2020</text><text transform="translate(252.50 415.75) rotate(-30)" style="font-size:13.889px">2030</text><text transform="translate(335.55 415.71) rotate(-30)" style="font-size:13.889px">2040</text><text transform="translate(418.61 415.69) rotate(-30)" style="font-size:13.889px">2050</text><text transform="translate(500.55 415.73) rotate(-30)" style="font-size:13.889px">2060</text><text transform="translate(583.57 415.71) rotate(-30)" style="font-size:13.889px">2070</text><text transform="translate(666.56 415.68) rotate(-30)" style="font-size:13.889px">2080</text><text transform="translate(749.62 415.72) rotate(-30)" style="font-size:13.889px">2090</text><text transform="translate(832.64 415.64) rotate(-30)" style="font-size:13.889px">2100</text><text x="115.46" y="353.72" style="font-size:13.889px;text-anchor:end">265</text><text x="115.27" y="312.70" style="font-size:13.889px;text-anchor:end">270</text><text x="115.44" y="270.68" style="font-size:13.889px;text-anchor:end">275</text><text x="79.58" y="320.84" transform="rotate(-90 79.58 320.84)" style="font-size:13.889px;text-anchor:middle">fieldmin</text></g>
<rect x="125" y="401" width="775" height="118" fill="#fff"/>
<clipPath id="c2"><rect x="125.00" y="401.38" width="775.00" height="117.24"/></clipPath>
<path clip-path="url(#c2)" d="M160.2 459.8L160.3 462.7 160.5 446.9 160.5 451.0 160.5 454.5 160.8 445.4 161.0 464.6 161.0 457.7 161.1 449.4 161.5 480.6 161.5 465.9 161.8 481.6 161.9 451.6 162.0 470.3 162.0 466.3 162.1 457.8 162.3 486.3 162.5 479.8 162.5 473.2 162.7 495.1 163.0 485.3 163.0 478.4 163.2 498.0 163.4 470.9 163.5 490.1 163.5 497.1 163.6 478.4 163.7 509.6 164.0 489.4 164.0 481.8 164.1 509.4 164.3 475.2 164.5 488.7 164.5 486.0 164.8 499.1 164.9 477.1 165.0 486.3 165.0 494.9 165.2 510.6 165.3 478.0 165.5 503.4 165.5 502.3 165.7 478.1 166.0 485.0 166.0 481.8 166.1 495.6 166.4 472.0 166.5 482.5 166.5 486.3 166.5 486.8 166.6 468.6 167.0 480.5 167.0 468.5 167.3 478.6 167.5 453.0 167.5 469.7 167.5 457.5 167.6 450.4 168.0 472.0 168.0 469.1 168.0 470.0 168.3 472.0 168.5 443.4 168.5 452.8 168.6 436.4 168.8 462.0 169.0 456.6 169.0 452.2 169.1 444.1 169.4 477.9 169.5 458.3 169.5 458.5 169.5 450.9 169.8 477.7 170.0 460.5 170.0 467.5 170.0 459.8 170.4 485.9 170.5 477.4 170.5 484.9 170.6 461.0 170.8 492.2 171.0 484.6 171.0 489.2 171.3 495.4 171.4 463.5 171.5 482.0 171.5 491.3 171.8 475.7 171.9 506.6 172.0 494.1 172.0 491.6 172.3 503.5 172.4 477.2 172.5 495.2 172.5 495.6 172.5 483.2 172.8 506.4 173.0 486.5 173.0 493.2 173.2 509.4 173.4 484.3 173.5 505.8 173.5 500.5 173.6 478.0 174.0 494.8 174.0 494.9 174.4 465.2 174.5 475.5 174.5 466.3 174.6 501.0 175.0 479.8 175.0 488.7 175.4 459.6 175.5 464.5 175.5 465.5 175.7 478.8 176.0 447.8 176.0 442.3 176.2 464.4 176.3 441.7 176.5 442.5 176.5 444.6 176.5 431.2 176.6 460.3 177.0 450.6 177.0 447.8 177.1 430.1 177.5 457.7 177.5 456.9 177.5 454.7 177.7 441.1 177.8 463.3 178.0 455.2 178.0 458.6 178.4 450.2 178.5 471.2 178.5 465.8 178.5 472.4 178.7 449.4 178.7 482.6 179.0 468.4 179.0 476.8 179.1 472.0 179.4 498.8 179.5 488.3 179.5 493.2 179.7 472.9 179.7 497.6 180.0 488.7 180.0 481.8 180.4 500.5 180.5 486.8 180.5 497.2 180.8 479.5 180.9 505.1 181.0 494.6 181.0 488.5 181.2 506.0 181.3 479.2 181.5 482.7 181.5 477.8 181.5 477.4 181.8 511.2 182.0 494.2 182.0 491.8 182.1 473.6 182.4 501.8 182.5 478.5 182.5 479.2 182.8 505.4 183.0 462.3 183.0 476.1 183.0 485.2 183.2 460.2 183.5 483.8 183.5 481.8 183.5 492.9 183.9 456.7 184.0 466.5 184.0 471.5 184.0 473.2 184.2 452.6 184.5 464.0 184.5 464.9 184.6 467.9 184.7 438.9 185.0 456.5 185.0 456.4 185.2 438.5 185.5 467.0 185.5 461.8 185.5 467.0 185.8 444.2 185.9 480.3 186.0 451.8 186.0 449.1 186.1 447.6 186.4 491.2 186.5 463.1 186.5 474.2 186.7 485.5 186.9 456.3 187.0 483.5 187.0 478.6 187.1 469.2 187.4 499.9 187.5 489.2 187.5 488.5 187.7 505.3 187.8 474.3 188.0 485.8 188.0 482.9 188.2 511.2 188.3 479.3 188.5 484.1 188.5 485.1 189.0 507.0 189.0 503.2 189.0 501.2 189.1 479.9 189.3 507.8 189.5 491.6 189.5 491.9 189.7 487.4 189.9 510.2 190.0 497.1 190.0 489.6 190.2 510.9 190.3 480.9 190.5 489.2 190.5 487.7 190.6 501.8 191.0 471.6 191.0 490.1 191.0 497.9 191.4 470.4 191.5 482.2 191.5 475.0 191.6 487.8 192.0 464.9 192.0 470.7 192.1 470.9 192.3 445.2 192.5 467.8 192.5 456.2 192.8 445.5 192.9 467.6 193.0 451.0 193.0 447.8 193.2 460.5 193.3 438.4 193.5 452.2 193.5 442.5 193.7 435.6 193.8 451.5 194.0 449.5 194.0 454.9 194.2 441.2 194.2 464.5 194.5 455.6 194.5 445.2 194.5 443.0 194.9 475.1 195.0 454.9 195.0 451.6 195.2 478.5 195.5 464.1 195.5 480.3 195.6 460.0 195.8 498.1 196.0 495.9 196.0 494.3 196.3 464.4 196.4 502.6 196.5 482.1 196.5 490.7 196.7 480.0 196.8 511.8 197.0 502.5 197.0 497.7 197.3 501.9 197.4 480.2 197.5 492.2 197.5 493.8 197.5 476.2 197.6 501.3 198.0 490.1 198.0 491.5 198.2 477.9 198.4 506.5 198.5 481.9 198.5 494.5 198.5 501.8 198.7 477.1 199.0 494.4 199.0 473.1 199.1 496.1 199.3 470.2 199.5 478.3 199.5 479.7 199.7 495.5 199.9 464.5 200.0 467.9 200.0 472.6 200.0 478.0 200.2 455.9 200.5 457.5 200.5 460.4 200.6 440.1 200.9 468.3 201.0 452.8 201.0 452.2 201.1 457.3 201.3 439.8 201.5 444.1 201.5 445.9 201.7 435.8 201.8 461.7 202.0 456.7 202.0 459.3 202.2 437.9 202.4 463.2 202.5 450.9 202.5 450.2 202.5 440.4 202.9 458.8 203.0 454.8 203.0 453.5 203.1 444.6 203.5 469.9 203.5 469.0 203.6 457.2 204.0 473.8 204.0 469.1 204.1 468.3 204.3 495.9 204.5 488.4 204.5 478.1 204.6 499.0 204.8 467.9 205.0 485.4 205.0 495.3 205.3 500.2 205.5 466.9 205.5 471.0 205.5 469.6 205.7 494.0 206.0 484.9 206.0 476.1 206.2 502.0 206.3 474.8 206.5 483.1 206.5 486.4 206.8 473.1 207.0 506.5 207.0 495.4 207.0 481.5 207.0 511.2 207.2 471.8 207.5 480.0 207.5 484.2 207.7 460.6 207.9 484.8 208.0 480.4 208.0 478.8 208.0 484.0 208.5 461.6 208.5 472.2 208.5 466.7 208.7 456.8 209.0 478.0 209.0 472.8 209.0 456.6 209.1 463.0 209.3 444.6 209.5 451.9 209.5 456.3 209.8 470.6 209.9 436.8 210.0 447.7 210.0 450.9 210.2 434.4 210.4 463.3 210.5 447.9 210.5 458.8 210.5 449.3 210.9 470.0 211.0 463.8 211.0 463.4 211.2 459.1 211.4 483.5 211.5 481.2 211.5 476.4 211.7 460.6 212.0 495.9 212.0 486.0 212.0 488.9 212.1 467.3 212.4 503.0 212.5 479.2 212.5 478.0 212.7 506.0 213.0 479.8 213.0 485.3 213.1 472.8 213.5 506.3 213.5 493.7 213.6 485.3 214.0 510.0 214.0 493.0 214.1 479.9 214.2 508.9 214.5 505.2 214.5 500.3 214.7 507.0 214.9 483.9 215.0 491.8 215.0 479.4 215.2 499.8 215.5 490.5 215.5 502.1 215.9 474.6 216.0 474.9 216.0 487.3 216.1 496.3 216.4 467.1 216.5 486.0 216.5 482.1 216.9 485.3 217.0 464.7 217.0 465.5 217.1 475.9 217.5 443.5 217.5 463.7 217.6 470.0 217.7 445.0 218.0 459.6 218.0 459.8 218.1 468.8 218.4 432.0 218.5 455.9 218.5 454.9 218.6 462.7 219.0 436.9 219.0 438.0 219.3 473.6 219.5 451.7 219.5 448.0 219.6 444.5 219.9 478.7 220.0 461.5 220.0 468.2 220.1 460.3 220.3 493.9 220.5 476.2 220.5 477.8 220.5 476.3 220.6 495.6 221.0 486.1 221.0 486.8 221.2 482.1 221.3 508.4 221.5 494.7 221.5 489.1 221.6 484.3 221.8 502.8 222.0 493.9 222.0 500.1 222.3 512.4 222.5 489.5 222.5 483.8 222.8 481.9 223.0 506.7 223.0 488.4 223.0 478.5 223.1 503.5 223.5 488.8 223.5 496.1 223.7 505.5 223.8 483.7 224.0 494.7 224.0 491.5 224.3 505.9 224.4 470.4 224.5 487.8 224.5 487.7 224.6 490.1 224.9 469.2 225.0 479.2 225.0 467.7 225.1 481.9 225.3 453.9 225.5 463.2 225.5 465.8 225.7 457.1 225.9 473.0 226.0 457.4 226.0 461.2 226.1 468.3 226.4 436.4 226.5 444.8 226.5 438.8 226.8 459.1 226.9 434.6 227.0 451.5 227.0 448.4 227.4 448.2 227.4 463.0 227.5 456.2 227.5 449.3 227.7 440.9 227.9 475.6 228.0 465.9 228.0 464.8 228.2 479.5 228.3 463.8 228.5 471.8 228.5 466.2 228.6 460.8 228.9 510.0 229.0 483.3 229.0 486.3 229.1 500.6 229.3 477.3 229.5 481.4 229.5 495.3 229.6 483.1 229.8 507.7 230.0 502.0 230.0 500.4 230.1 505.2 230.4 474.0 230.5 491.4 230.5 482.7 230.6 476.8 230.9 508.8 231.0 488.4 231.0 494.2 231.1 481.9 231.2 506.8 231.5 485.9 231.5 496.1 231.6 503.5 231.7 482.7 232.0 500.1 232.0 491.1 232.1 499.9 232.3 475.3 232.5 480.2 232.5 482.4 232.8 490.7 232.9 463.8 233.0 481.5 233.0 477.8 233.3 494.1 233.4 465.5 233.5 468.2 233.5 464.8 233.5 479.0 233.9 452.6 234.0 459.3 234.0 468.5 234.1 474.9 234.5 447.7 234.5 456.4 234.5 454.9 234.8 443.9 235.0 467.1 235.0 462.8 235.0 469.2 235.1 437.6 235.5 438.4 235.5 442.1 235.6 440.3 235.7 468.0 236.0 463.7 236.0 471.2 236.0 456.1 236.3 481.9 236.5 475.9 236.5 476.9 236.8 470.3 237.0 494.5 237.0 489.3 237.2 461.8 237.5 498.2 237.5 485.7 237.5 488.7 237.6 508.4 237.8 481.7 238.0 502.5 238.0 504.4 238.0 509.8 238.1 486.5 238.5 495.2 238.5 500.8 238.9 484.9 239.0 490.2 239.0 491.9 239.1 483.1 239.4 511.1 239.5 490.3 239.5 500.4 239.5 484.7 239.6 511.2 240.0 493.1 240.0 487.8 240.1 482.9 240.3 510.1 240.5 493.1 240.5 503.8 240.5 507.1 241.0 473.3 241.0 483.8 241.1 491.4 241.4 462.0 241.5 474.2 241.5 468.9 241.7 451.5 241.9 481.0 242.0 461.7 242.0 473.9 242.4 443.4 242.5 457.9 242.5 460.9 242.8 467.6 243.0 442.2 243.0 453.1 243.1 460.5 243.4 438.8 243.5 455.9 243.5 465.5 243.9 442.8 244.0 458.8 244.0 460.6 244.1 446.0 244.3 464.4 244.5 455.2 244.5 454.7 245.0 485.4 245.0 477.5 245.1 491.0 245.4 458.3 245.5 473.4 245.5 472.7 246.0 505.0 246.0 499.5 246.2 475.2 246.5 498.4 246.5 489.5 246.6 507.0 246.8 467.9 247.0 499.7 247.0 486.2 247.1 504.0 247.4 476.6 247.5 486.9 247.5 492.1 247.7 504.7 247.9 484.4 248.0 487.4 248.0 500.9 248.1 508.8 248.4 486.2 248.5 497.5 248.5 494.4 248.6 500.7 248.9 479.6 249.0 493.6 249.0 490.9 249.2 502.1 249.3 464.2 249.5 483.7 249.5 473.8 249.5 481.7 249.9 461.2 250.0 469.9 250.0 473.6 250.0 474.0 250.4 442.8 250.5 463.2 250.5 463.3 250.5 467.3 250.8 430.4 251.0 446.8 251.0 445.2 251.2 431.8 251.4 449.7 251.5 448.4 251.5 442.9 251.8 428.4 252.0 447.7 252.0 442.4 252.3 462.2 252.3 437.3 252.5 451.8 252.5 453.2 252.6 468.5 252.7 443.9 253.0 454.5 253.0 458.4 253.1 447.5 253.3 477.8 253.5 469.5 253.5 477.2 253.9 462.0 254.0 488.0 254.0 495.8 254.2 469.5 254.5 489.6 254.5 488.7 254.7 474.9 254.8 500.4 255.0 488.6 255.0 481.7 255.3 477.2 255.5 500.0 255.5 493.0 255.5 486.5 255.7 508.8 255.7 475.1 256.0 493.1 256.0 500.9 256.2 503.2 256.3 474.2 256.5 474.5 256.5 489.5 256.6 499.3 256.7 471.6 257.0 484.9 257.0 482.1 257.1 497.6 257.4 469.5 257.5 482.4 257.5 472.7 257.7 485.9 258.0 460.4 258.0 462.2 258.2 479.1 258.4 448.8 258.5 461.7 258.5 465.0 258.6 471.9 258.9 437.3 259.0 449.0 259.0 453.1 259.1 460.0 259.3 431.5 259.5 439.3 259.5 445.5 259.6 459.3 260.0 430.1 260.0 434.5 260.0 443.4 260.3 466.0 260.4 430.9 260.5 443.8 260.5 442.6 260.6 441.3 260.9 465.9 261.0 450.9 261.0 460.4 261.2 447.1 261.4 478.1 261.5 462.1 261.5 471.4 261.6 467.5 262.0 489.6 262.0 487.1 262.1 473.4 262.3 493.2 262.5 481.6 262.5 493.4 262.5 500.2 262.7 466.8 263.0 498.6 263.0 487.1 263.3 479.3 263.4 502.5 263.5 499.2 263.5 487.1 263.5 474.9 263.6 508.2 264.0 487.5 264.0 484.3 264.0 477.5 264.4 504.7 264.5 494.7 264.5 487.3 264.6 478.8 264.9 505.4 265.0 484.1 265.0 499.1 265.1 500.8 265.4 471.6 265.5 497.4 265.5 493.6 265.8 495.5 265.9 465.3 266.0 480.8 266.0 481.8 266.2 466.2 266.5 489.9 266.5 481.4 266.8 454.7 267.0 459.9 267.0 454.4 267.2 465.1 267.5 444.2 267.5 456.6 267.6 469.7 268.0 441.1 268.0 438.6 268.2 458.6 268.5 435.8 268.5 458.6 268.5 444.0 268.7 468.2 269.0 454.2 269.0 452.3 269.2 445.6 269.5 467.7 269.5 466.4 269.5 465.3 269.5 460.4 269.8 487.1 270.0 474.9 270.0 467.7 270.0 459.1 270.2 500.1 270.5 478.3 270.5 489.8 270.7 508.8 270.9 477.2 271.0 490.2 271.0 494.0 271.2 484.4 271.3 507.0 271.5 486.5 271.5 488.5 271.5 487.9 271.7 506.3 272.0 493.9 272.0 487.1 272.3 504.6 272.5 494.9 272.5 491.6 272.7 487.6 272.8 508.5 273.0 488.5 273.0 478.0 273.0 477.5 273.4 504.1 273.5 495.9 273.5 498.3 273.5 502.5 273.9 474.3 274.0 485.4 274.0 472.9 274.2 498.3 274.3 470.7 274.5 488.0 274.5 478.6 274.6 488.1 275.0 458.7 275.0 457.8 275.2 470.4 275.5 445.2 275.5 452.7 275.7 438.9 275.9 468.3 276.0 460.1 276.0 455.7 276.2 436.1 276.5 464.9 276.5 453.9 276.5 452.8 276.6 435.2 276.6 463.2 277.0 446.1 277.0 453.7 277.1 464.6 277.3 448.2 277.5 456.9 277.5 456.0 277.9 482.5 278.0 471.7 278.0 476.5 278.1 486.0 278.3 459.1 278.5 468.3 278.5 486.1 278.6 472.5 278.7 495.0 279.0 490.4 279.0 498.2 279.2 475.4 279.5 496.5 279.5 500.9 279.7 480.8 279.8 510.0 280.0 495.0 280.0 500.8 280.3 509.6 280.4 468.9 280.5 484.9 280.5 495.8 280.8 476.2 280.8 500.1 281.0 493.5 281.0 490.1 281.1 501.4 281.3 470.7 281.5 482.7 281.5 488.8 281.6 478.7 282.0 499.9 282.0 491.1 282.3 507.0 282.4 482.5 282.5 484.6 282.5 479.3 282.6 493.3 282.7 465.4 283.0 472.1 283.0 471.6 283.2 480.5 283.5 463.0 283.5 466.5 283.8 451.4 284.0 475.6 284.0 467.5 284.0 459.8 284.3 460.4 284.4 441.2 284.5 448.6 284.5 443.7 284.5 438.8 284.7 470.0 285.0 465.3 285.0 450.0 285.2 459.5 285.3 441.5 285.5 452.0 285.5 455.4 285.6 442.5 286.0 481.3 286.0 456.9 286.1 445.4 286.3 475.1 286.5 462.1 286.5 466.4 286.8 455.4 286.9 476.7 287.0 475.4 287.0 485.5 287.2 471.1 287.5 494.5 287.5 485.1 287.7 472.3 287.7 506.1 288.0 479.1 288.0 481.0 288.2 468.1 288.5 498.9 288.5 491.5 288.5 492.9 288.8 479.5 288.9 497.6 289.0 489.3 289.0 485.0 289.1 478.0 289.4 507.0 289.5 485.2 289.5 484.4 289.7 503.5 289.9 475.6 290.0 490.4 290.0 485.0 290.1 497.6 290.3 472.8 290.5 475.0 290.5 469.4 290.8 496.9 291.0 465.1 291.0 465.0 291.1 483.8 291.3 463.5 291.5 468.7 291.5 468.2 291.7 445.1 291.8 475.2 292.0 471.4 292.0 468.4 292.1 473.0 292.4 443.8 292.5 456.6 292.5 454.2 292.6 438.8 292.8 464.5 293.0 462.2 293.0 462.9 293.2 467.2 293.5 441.7 293.5 454.1 293.5 465.5 293.6 444.9 293.6 466.4 294.0 449.0 294.0 456.0 294.4 473.8 294.4 451.9 294.5 461.4 294.5 461.1 294.6 458.0 295.0 485.9 295.0 467.8 295.0 471.9 295.1 461.4 295.3 486.4 295.5 480.1 295.5 481.8 295.7 503.2 296.0 471.4 296.0 472.1 296.3 492.3 296.5 485.5 296.5 489.7 296.9 473.8 297.0 501.3 297.0 498.8 297.0 487.9 297.1 480.8 297.3 507.2 297.5 485.3 297.5 484.1 297.6 476.1 298.0 507.6 298.0 488.9 298.1 504.7 298.2 474.8 298.5 498.8 298.5 489.0 298.7 495.0 298.8 466.8 299.0 483.8 299.0 478.5 299.0 459.7 299.2 491.8 299.5 468.7 299.5 488.0 299.6 489.2 299.9 461.7 300.0 471.7 300.0 460.8 300.2 447.3 300.5 468.7 300.5 457.3 300.5 452.4 300.6 439.3 300.9 467.6 301.0 454.2 301.0 461.9 301.0 471.6 301.3 434.6 301.5 458.0 301.5 472.5 301.6 444.3 302.0 450.1 302.0 453.4 302.2 447.8 302.3 470.4 302.5 465.4 302.5 462.1 302.7 461.1 302.8 478.3 303.0 470.3 303.0 483.6 303.2 457.1 303.4 487.8 303.5 487.7 303.5 481.8 303.8 461.8 304.0 505.2 304.0 478.3 304.0 482.1 304.3 496.2 304.4 478.1 304.5 481.6 304.5 479.7 304.6 474.6 304.9 502.9 305.0 482.4 305.0 481.0 305.3 474.9 305.4 493.1 305.5 488.2 305.5 483.5 305.6 477.4 305.6 501.7 306.0 486.8 306.0 490.4 306.1 494.6 306.4 473.2 306.5 481.7 306.5 477.9 306.6 468.6 306.9 500.8 307.0 490.4 307.0 484.7 307.1 489.1 307.5 463.2 307.5 464.0 307.5 469.7 307.7 451.3 307.9 473.6 308.0 468.7 308.0 461.8 308.1 438.5 308.3 475.1 308.5 446.8 308.5 440.0 308.5 454.2 309.0 432.0 309.0 431.7 309.2 428.1 309.5 450.5 309.5 435.8 309.9 419.6 310.0 455.3 310.0 450.2 310.2 425.2 310.5 451.7 310.5 446.3 310.5 440.4 310.5 439.0 310.8 464.3 311.0 446.7 311.0 458.0 311.1 443.2 311.4 474.5 311.5 468.3 311.5 476.9 311.8 460.0 311.9 484.9 312.0 468.6 312.0 472.8 312.1 494.6 312.5 480.5 312.5 479.0 312.9 506.9 313.0 500.7 313.0 502.9 313.1 480.7 313.4 506.4 313.5 489.9 313.5 496.2 313.6 506.0 313.7 489.3 314.0 502.9 314.0 492.0 314.1 478.9 314.3 508.2 314.5 497.9 314.5 498.0 314.5 501.4 314.7 472.5 315.0 483.5 315.0 502.5 315.0 506.1 315.4 472.4 315.5 477.4 315.5 494.5 315.5 496.5 316.0 464.8 316.0 479.9 316.0 488.4 316.1 489.6 316.2 457.5 316.5 463.8 316.5 460.1 316.6 443.0 316.6 471.5 317.0 455.4 317.0 453.1 317.2 463.2 317.2 442.8 317.5 450.4 317.5 446.9 317.6 457.1 317.8 432.5 318.0 444.3 318.0 449.1 318.1 434.5 318.4 464.5 318.5 454.6 318.5 461.3 319.0 443.5 319.0 463.4 319.0 465.6 319.1 446.0 319.3 480.8 319.5 457.1 319.5 464.7 319.8 463.3 320.0 486.3 320.0 480.0 320.0 471.8 320.1 471.2 320.4 495.0 320.5 486.0 320.5 480.9 320.6 477.4 320.8 503.7 321.0 488.2 321.0 486.9 321.3 480.6 321.5 500.0 321.5 487.7 321.5 481.6 321.6 480.0 321.8 503.3 322.0 488.3 322.0 487.4 322.1 475.1 322.4 505.8 322.5 502.0 322.5 500.1 322.6 503.0 322.8 476.8 323.0 493.2 323.0 474.7 323.1 493.6 323.4 470.1 323.5 485.0 323.5 478.5 323.7 488.8 323.9 460.6 324.0 477.5 324.0 477.8 324.1 480.3 324.5 451.0 324.5 456.3 324.5 464.7 324.6 479.2 324.8 444.4 325.0 454.7 325.0 441.4 325.2 437.4 325.3 457.2 325.5 451.9 325.5 433.6 325.6 448.6 325.9 427.2 326.0 434.5 326.0 430.1 326.3 446.4 326.4 427.9 326.5 435.6 326.5 440.8 326.8 460.3 327.0 434.1 327.0 443.2 327.0 435.3 327.5 467.0 327.5 458.9 327.6 444.4 327.9 485.3 328.0 474.6 328.0 478.3 328.1 458.9 328.5 489.9 328.5 476.4 328.8 466.9 329.0 497.9 329.0 497.0 329.1 501.8 329.3 479.5 329.5 499.4 329.5 509.0 330.0 478.1 330.0 492.9 330.0 490.4 330.2 507.4 330.4 479.8 330.5 501.4 330.5 496.3 330.8 485.8 331.0 507.4 331.0 501.9 331.0 505.1 331.0 505.6 331.1 469.8 331.5 484.9 331.5 494.7 331.8 478.1 331.9 510.0 332.0 489.9 332.0 491.6 332.1 499.3 332.1 473.3 332.5 474.4 332.5 476.1 332.7 496.9 332.8 466.2 333.0 473.5 333.0 475.5 333.3 478.8 333.3 458.8 333.5 474.5 333.5 470.2 334.0 477.7 334.0 453.8 334.0 456.7 334.0 467.1 334.2 441.8 334.5 461.9 334.5 455.3 334.7 453.8 335.0 479.2 335.0 465.0 335.0 472.7 335.3 456.4 335.4 483.8 335.5 471.1 335.5 449.1 335.9 482.8 336.0 470.3 336.0 478.5 336.1 473.1 336.5 496.7 336.5 500.6 336.6 479.0 336.8 507.0 337.0 479.3 337.0 484.9 337.4 475.3 337.5 496.2 337.5 487.0 337.6 475.6 337.9 506.3 338.0 488.6 338.0 483.2 338.1 508.8 338.5 496.3 338.5 494.8 338.8 480.9 339.0 502.4 339.0 501.4 339.2 508.0 339.3 479.1 339.5 490.8 339.5 479.6 339.9 471.9 340.0 499.1 340.0 492.6 340.0 487.7 340.0 497.0 340.2 473.6 340.5 481.2 340.5 491.4 340.9 498.8 341.0 462.5 341.0 475.7 341.0 469.9 341.1 485.9 341.4 458.5 341.5 460.1 341.5 470.0 341.7 479.2 341.9 450.6 342.0 468.7 342.0 464.6 342.1 448.4 342.2 469.5 342.5 464.0 342.5 456.8 342.7 470.4 342.9 444.5 343.0 461.1 343.0 462.5 343.2 472.7 343.3 451.9 343.5 462.9 343.5 468.2 343.8 447.0 343.9 480.6 344.0 463.4 344.0 461.3 344.3 458.8 344.5 487.5 344.5 472.9 344.6 499.5 344.8 464.6 345.0 473.3 345.0 471.5 345.1 471.1 345.1 503.3 345.5 486.7 345.5 493.6 345.5 501.4 345.7 471.0 346.0 484.9 346.0 488.3 346.3 510.0 346.4 469.2 346.5 476.0 346.5 494.7 346.6 502.2 347.0 478.0 347.0 483.9 347.0 488.6 347.0 505.9 347.4 473.4 347.5 491.7 347.5 494.8 347.8 498.1 347.8 479.2 348.0 491.3 348.0 485.9 348.3 479.0 348.4 498.7 348.5 487.4 348.5 491.0 348.7 498.6 349.0 461.8 349.0 467.8 349.1 478.9 349.5 456.1 349.5 463.1 349.5 452.9 349.6 473.6 349.9 450.8 350.0 453.1 350.0 445.9 350.1 435.3 350.3 458.6 350.5 445.6 350.5 450.1 351.0 431.0 351.0 440.2 351.0 446.2 351.2 431.1 351.3 458.3 351.5 432.6 351.5 440.6 351.6 436.4 351.7 465.0 352.0 450.4 352.0 447.1 352.1 443.6 352.4 468.2 352.5 463.5 352.5 468.2 352.7 457.5 353.0 476.2 353.0 474.3 353.0 473.6 353.3 470.2 353.5 495.3 353.5 480.4 353.5 474.2 353.7 468.7 353.8 499.9 354.0 494.1 354.0 485.1 354.3 500.7 354.5 495.6 354.5 485.1 354.6 501.6 355.0 480.6 355.0 479.0 355.5 507.6 355.5 502.6 355.5 502.3 355.7 503.0 355.9 480.0 356.0 480.2 356.0 491.3 356.1 506.1 356.3 478.2 356.5 496.8 356.5 496.1 356.6 505.9 357.0 486.1 357.0 490.6 357.0 490.0 357.1 498.4 357.2 471.8 357.5 474.7 357.5 471.3 357.6 462.0 357.8 489.6 358.0 470.9 358.0 462.5 358.3 479.5 358.5 453.5 358.5 456.3 358.5 447.2 358.8 467.8 359.0 450.4 359.0 452.3 359.1 445.8 359.3 460.7 359.5 458.9 359.5 453.6 359.7 468.2 359.7 435.2 360.0 457.4 360.0 442.9 360.4 484.2 360.5 465.8 360.5 457.1 360.7 479.0 360.8 449.1 361.0 477.4 361.0 476.6 361.2 463.7 361.3 488.3 361.5 478.0 361.5 466.0 361.9 495.3 362.0 483.8 362.0 485.6 362.4 478.8 362.4 499.4 362.5 498.6 362.5 487.4 362.5 479.6 362.7 507.4 363.0 504.5 363.0 494.7 363.1 506.0 363.3 481.1 363.5 505.4 363.5 498.3 363.6 508.2 364.0 483.9 364.0 485.6 364.0 484.5 364.3 503.4 364.5 482.1 364.5 488.7 364.5 488.6 364.6 494.8 364.7 475.1 365.0 482.6 365.0 473.2 365.1 492.6 365.2 465.7 365.5 475.7 365.5 481.8 365.8 459.7 365.9 487.0 366.0 473.5 366.0 464.8 366.1 475.6 366.3 446.0 366.5 447.0 366.5 456.1 366.7 459.7 366.8 435.4 367.0 457.1 367.0 445.6 367.0 433.2 367.3 450.0 367.5 440.8 367.5 451.3 367.6 436.8 367.6 454.4 368.0 452.6 368.0 451.2 368.1 423.6 368.5 448.9 368.5 451.2 368.8 445.0 368.9 471.6 369.0 461.7 369.0 465.3 369.1 455.4 369.3 480.3 369.5 472.9 369.5 478.3 369.7 490.6 370.0 461.8 370.0 480.1 370.1 472.3 370.3 507.8 370.5 483.4 370.5 474.2 370.6 507.3 370.9 473.1 371.0 495.3 371.0 491.3 371.1 478.0 371.3 508.8 371.5 499.4 371.5 493.1 371.9 505.2 371.9 487.2 372.0 488.6 372.0 489.4 372.1 479.0 372.4 506.3 372.5 494.2 372.5 488.6 372.6 503.3 372.9 478.9 373.0 492.0 373.0 493.5 373.1 475.8 373.3 495.1 373.5 484.9 373.5 481.7 373.6 504.3 374.0 462.6 374.0 465.7 374.0 466.7 374.2 479.0 374.3 459.1 374.5 465.5 374.5 463.2 374.7 475.1 374.9 452.4 375.0 456.6 375.0 452.1 375.2 473.4 375.5 443.0 375.5 451.1 375.8 441.5 375.8 464.3 376.0 459.7 376.0 456.7 376.1 466.9 376.3 446.6 376.5 447.3 376.5 437.0 376.6 471.3 377.0 464.5 377.0 455.9 377.2 486.7 377.5 474.4 377.5 482.6 377.7 468.2 377.9 483.4 378.0 470.5 378.0 479.4 378.3 471.7 378.4 490.4 378.5 473.9 378.5 490.2 378.8 476.1 379.0 501.4 379.0 492.4 379.1 481.5 379.5 504.7 379.5 491.7 379.5 490.5 379.6 501.2 379.8 480.1 380.0 489.2 380.0 496.5 380.2 481.8 380.4 505.8 380.5 483.3 380.5 486.4 380.7 478.6 380.8 497.3 381.0 494.0 381.0 494.3 381.2 503.7 381.4 474.0 381.5 486.9 381.5 493.1 381.7 495.2 381.9 466.3 382.0 479.6 382.0 486.2 382.1 486.9 382.4 459.6 382.5 466.4 382.5 479.1 383.0 456.5 383.0 451.7 383.2 471.0 383.5 438.0 383.5 439.6 383.5 437.1 383.7 424.8 383.9 450.4 384.0 437.7 384.0 449.0 384.4 450.6 384.4 429.0 384.5 434.9 384.5 435.6 384.7 425.8 384.8 454.6 385.0 429.9 385.0 439.3 385.5 460.7 385.5 459.6 385.6 446.2 385.9 472.8 386.0 471.1 386.0 464.7 386.2 448.5 386.5 479.6 386.5 468.2 386.6 466.7 386.9 492.3 387.0 491.8 387.0 481.5 387.2 489.6 387.3 470.0 387.5 479.2 387.5 489.6 387.5 493.7 387.6 471.9 388.0 487.2 388.0 496.1 388.1 505.2 388.4 479.5 388.5 483.3 388.5 477.6 388.7 476.3 388.8 496.5 389.0 483.3 389.0 496.0 389.1 473.3 389.5 488.4 389.5 489.3 389.6 496.6 389.8 468.4 390.0 481.9 390.0 482.5 390.5 452.2 390.5 469.0 390.5 472.9 390.6 476.1 390.8 444.7 391.0 449.8 391.0 455.6 391.1 479.5 391.4 440.6 391.5 442.8 391.5 431.8 391.8 456.4 392.0 432.4 392.0 433.0 392.2 453.5 392.2 428.6 392.5 440.6 392.5 441.5 392.9 425.6 393.0 456.8 393.0 446.4 393.0 451.4 393.1 426.9 393.5 475.4 393.5 461.7 393.6 451.2 393.7 470.9 394.0 468.0 394.0 471.4 394.1 454.2 394.5 480.0 394.5 457.4 394.5 467.0 394.8 464.0 394.9 488.4 395.0 479.8 395.0 486.3 395.1 471.2 395.5 488.9 395.5 484.7 395.5 483.4 395.6 469.4 395.9 504.6 396.0 493.9 396.0 499.8 396.4 464.3 396.5 487.3 396.5 492.8 396.8 497.9 396.9 476.1 397.0 487.8 397.0 487.1 397.2 495.7 397.4 467.1 397.5 488.1 397.5 488.7 397.6 471.6 397.8 490.0 398.0 477.2 398.0 482.8 398.0 483.4 398.3 457.5 398.5 467.5 398.5 469.7 398.6 486.9 399.0 451.6 399.0 460.8 399.2 444.8 399.4 477.2 399.5 453.6 399.5 457.1 399.6 464.5 399.8 430.8 400.0 456.1 400.0 448.9 400.1 430.4 400.4 452.7 400.5 440.7 400.5 453.9 400.9 430.4 401.0 458.2 401.0 446.0 401.0 444.6 401.1 456.9 401.4 435.2 401.5 444.8 401.5 436.7 401.6 434.9 401.8 463.0 402.0 461.9 402.0 468.8 402.1 448.1 402.4 471.9 402.5 464.0 402.5 459.0 402.7 452.9 402.8 490.5 403.0 480.8 403.0 468.5 403.2 464.2 403.4 482.0 403.5 474.6 403.5 488.9 403.6 472.8 403.9 493.5 404.0 486.9 404.0 470.8 404.4 498.9 404.5 490.6 404.5 495.0 404.6 500.2 404.8 480.8 405.0 483.9 405.0 484.8 405.1 477.9 405.4 508.0 405.5 490.7 405.5 490.8 405.9 508.8 406.0 477.2 406.0 484.9 406.1 492.6 406.4 471.7 406.5 474.5 406.5 477.2 406.6 484.9 407.0 459.8 407.0 475.9 407.0 461.3 407.0 484.7 407.2 454.0 407.5 457.2 407.5 466.7 407.7 477.6 407.8 447.0 408.0 465.4 408.0 465.2 408.4 439.9 408.5 463.8 408.5 446.2 408.6 461.8 408.9 433.7 409.0 453.7 409.0 449.4 409.0 439.3 409.4 469.5 409.5 462.2 409.5 458.0 409.7 470.2 409.9 443.7 410.0 445.9 410.0 438.8 410.1 436.1 410.5 466.6 410.5 462.8 410.6 450.1 410.9 491.3 411.0 473.4 411.0 483.8 411.1 495.3 411.3 468.2 411.5 481.7 411.5 481.5 411.7 474.2 412.0 494.1 412.0 484.4 412.1 477.2 412.4 504.2 412.5 503.2 412.5 493.9 412.6 501.1 413.0 475.1 413.0 484.2 413.1 506.4 413.4 479.7 413.5 497.4 413.5 498.8 413.7 503.0 413.8 478.9 414.0 496.0 414.0 478.1 414.2 495.8 414.4 475.1 414.5 484.0 414.5 478.2 414.7 501.3 414.8 473.6 415.0 482.8 415.0 464.6 415.1 491.7 415.4 462.8 415.5 469.0 415.5 478.5 415.5 485.6 415.8 462.2 416.0 481.7 416.0 473.6 416.3 481.8 416.3 449.0 416.5 455.6 416.5 448.2 416.9 468.6 417.0 433.7 417.0 447.8 417.1 441.3 417.3 466.8 417.5 451.8 417.5 448.2 417.5 440.6 417.8 461.5 418.0 446.1 418.0 456.2 418.0 442.5 418.4 466.1 418.5 463.0 418.5 446.3 418.5 446.2 418.8 477.6 419.0 463.1 419.0 458.2 419.0 452.2 419.3 484.0 419.5 482.8 419.5 480.3 419.6 459.6 420.0 492.4 420.0 482.2 420.0 481.7 420.2 493.2 420.3 468.6 420.5 485.9 420.6 499.7 420.7 470.1 421.0 490.0 421.0 488.2 421.1 504.6 421.3 479.2 421.5 487.0 421.5 481.0 421.6 474.7 421.8 495.8 422.0 495.7 422.0 489.5 422.2 494.0 422.4 463.6 422.5 486.4 422.5 491.8 422.5 499.1 422.8 477.1 423.0 488.5 423.0 479.8 423.4 467.5 423.5 494.7 423.5 483.5 423.5 486.7 423.7 458.1 424.0 475.8 424.0 466.0 424.1 474.1 424.5 441.3 424.5 439.4 424.6 459.2 425.0 430.6 425.0 433.6 425.0 427.9 425.1 453.0 425.5 444.7 425.5 451.3 425.5 456.1 425.8 420.5 426.0 438.6 426.0 438.3 426.3 428.0 426.5 452.2 426.5 450.9 426.5 459.5 426.6 440.3 426.9 465.7 427.0 453.7 427.0 464.9 427.3 442.5 427.4 477.9 427.5 458.3 427.5 474.5 427.6 459.7 428.0 491.2 428.0 479.9 428.1 476.0 428.3 492.7 428.5 479.1 428.5 471.6 428.6 503.2 429.0 497.2 429.0 487.0 429.4 494.0 429.5 469.5 429.5 472.9 429.5 481.5 429.7 497.0 429.7 473.3 430.0 486.1 430.0 484.6 430.3 469.8 430.4 504.6 430.5 481.5 430.5 486.9 430.7 467.0 431.0 488.9 431.0 475.5 431.0 487.6 431.4 461.8 431.5 472.5 431.5 465.4 431.9 471.0 432.0 451.7 432.0 449.2 432.1 470.4 432.4 442.3 432.5 460.5 432.5 468.1 433.0 435.4 433.0 440.4 433.0 459.8 433.1 460.0 433.4 432.3 433.5 444.0 433.5 443.1 433.7 449.8 433.8 432.4 434.0 434.6 434.0 447.3 434.4 428.4 434.5 434.3 434.5 444.0 434.7 462.8 434.8 436.3 435.0 441.5 435.0 459.8 435.1 442.7 435.3 469.0 435.5 462.3 435.5 464.6 435.9 483.1 436.0 453.4 436.0 454.0 436.0 467.7 436.1 462.6 436.5 489.8 436.5 472.7 436.5 468.6 436.8 499.5 437.0 481.5 437.0 475.2 437.1 471.5 437.5 503.0 437.5 492.0 437.5 484.7 437.7 477.9 438.0 499.1 438.0 494.2 438.0 495.0 438.3 504.4 438.4 481.1 438.5 490.3 438.5 482.0 438.6 476.8 438.8 506.4 439.0 485.0 439.0 487.3 439.3 467.5 439.3 498.0 439.5 485.7 439.5 491.9 439.8 466.5 440.0 478.0 440.0 475.4 440.1 484.6 440.3 459.2 440.5 467.3 440.5 472.3 440.5 476.1 440.9 443.4 441.0 464.5 441.0 465.2 441.3 474.2 441.4 440.7 441.5 459.5 441.5 456.6 441.8 432.7 442.0 438.3 442.0 442.7 442.2 428.9 442.4 463.3 442.5 438.3 442.5 441.9 442.6 433.9 442.8 456.0 443.0 443.0 443.0 445.7 443.5 467.8 443.5 461.1 443.7 448.6 444.0 482.9 444.0 478.9 444.0 484.0 444.3 467.3 444.3 489.0 444.5 477.9 444.5 480.0 444.6 464.6 445.0 495.9 445.0 481.3 445.1 471.0 445.3 501.9 445.5 490.9 445.5 488.4 445.6 501.5 445.9 484.7 446.0 487.5 446.0 487.0 446.3 483.8 446.4 502.1 446.5 499.3 446.5 491.9 446.6 477.7 446.8 503.4 447.0 490.2 447.0 498.6 447.0 500.9 447.2 471.1 447.5 488.6 447.5 484.4 447.6 493.2 447.7 461.4 448.0 483.1 448.0 481.1 448.1 489.6 448.4 451.5 448.5 467.3 448.5 456.5 448.7 486.5 449.0 446.5 449.0 458.1 449.1 466.9 449.4 440.4 449.5 450.1 449.5 449.1 449.8 465.1 450.0 441.1 450.0 447.9 450.3 456.3 450.5 432.2 450.5 434.2 450.5 438.4 450.8 459.1 450.9 429.2 451.0 437.4 451.0 452.2 451.4 438.1 451.4 459.5 451.5 446.9 451.5 444.1 451.6 441.5 451.8 473.1 452.0 459.7 452.0 457.0 452.3 452.3 452.4 479.3 452.5 477.1 452.5 468.7 452.7 462.7 452.8 488.0 453.0 481.8 453.0 481.7 453.3 500.9 453.5 468.0 453.5 472.8 453.6 468.2 453.7 495.5 454.0 479.2 454.0 474.5 454.1 496.4 454.5 486.7 454.5 489.8 454.8 479.1 454.9 497.3 455.0 488.1 455.0 496.2 455.2 469.1 455.5 504.6 455.5 498.0 455.5 489.7 455.7 494.9 456.0 469.0 456.0 477.6 456.2 463.0 456.4 490.1 456.5 481.5 456.5 469.7 456.8 462.7 457.0 474.4 457.0 464.8 457.3 438.4 457.5 453.6 457.5 461.9 457.9 435.0 458.0 451.6 458.0 445.4 458.2 431.0 458.4 459.3 458.5 440.0 458.5 443.4 458.6 451.6 458.8 432.0 459.0 438.6 459.0 438.7 459.2 438.6 459.4 461.9 459.5 454.9 459.5 453.3 459.7 460.8 459.8 437.1 460.0 454.3 460.0 443.0 460.2 471.0 460.5 455.5 460.5 455.7 460.9 483.2 461.0 476.9 461.0 481.0 461.2 469.8 461.5 494.1 461.5 490.0 461.6 487.9 461.8 506.6 462.0 488.6 462.0 496.9 462.2 476.9 462.4 506.9 462.5 497.3 462.5 490.5 462.6 482.0 462.9 502.6 463.0 485.9 463.0 473.2 463.5 498.6 463.5 489.3 463.9 507.6 464.0 478.3 464.0 482.7 464.0 488.7 464.1 501.6 464.5 478.9 464.5 471.5 464.7 496.9 464.9 471.2 465.0 484.2 465.0 477.6 465.1 485.9 465.5 456.8 465.5 468.5 465.5 470.3 465.7 476.6 465.8 457.9 466.0 473.9 466.0 471.6 466.1 475.1 466.5 449.2 466.5 461.8 466.7 436.6 466.7 475.2 467.0 456.9 467.0 449.9 467.2 468.1 467.5 435.8 467.5 450.2 467.6 444.9 467.8 467.4 468.0 463.2 468.0 458.9 468.2 447.0 468.3 476.7 468.5 461.4 468.5 460.9 468.8 452.7 468.8 480.5 469.0 463.6 469.0 471.2 469.4 463.3 469.5 487.9 469.5 485.3 469.8 467.0 469.9 507.0 470.0 484.0 470.0 483.2 470.2 495.6 470.5 464.8 470.5 469.5 470.5 474.6 470.6 465.0 470.8 493.2 471.0 473.8 471.0 474.4 471.3 503.5 471.5 466.6 471.5 480.9 471.7 488.3 472.0 466.8 472.0 473.8 472.2 462.4 472.3 489.7 472.5 468.5 472.5 479.6 472.7 487.1 472.8 462.8 473.0 470.7 473.0 470.9 473.2 450.2 473.5 482.5 473.5 474.1 473.6 440.4 474.0 453.4 474.0 465.6 474.3 444.6 474.5 445.3 474.5 437.7 474.6 430.3 475.0 457.5 475.0 440.4 475.1 429.8 475.3 458.7 475.5 450.8 475.5 450.3 475.7 431.0 476.0 451.3 476.0 449.2 476.2 431.2 476.5 466.9 476.5 462.4 476.5 457.0 476.7 478.3 476.9 452.6 477.0 453.4 477.0 465.0 477.2 475.5 477.2 449.8 477.5 474.4 477.5 472.5 477.6 497.1 478.0 477.3 478.0 487.3 478.2 473.1 478.4 495.7 478.5 482.0 478.5 470.9 478.8 497.5 478.9 468.4 479.0 481.3 479.0 496.3 479.2 501.6 479.4 474.5 479.5 476.9 479.5 479.5 479.8 496.4 479.9 471.5 480.0 493.2 480.0 488.0 480.0 478.9 480.4 498.6 480.5 485.8 480.5 488.2 480.6 473.5 480.9 497.8 481.0 477.2 481.0 476.4 481.3 463.2 481.4 493.6 481.5 472.3 481.5 466.3 481.6 482.9 481.9 458.0 482.0 468.6 482.0 466.7 482.1 471.8 482.3 448.2 482.5 448.4 482.5 445.3 482.9 460.5 482.9 442.4 483.0 451.7 483.0 451.9 483.3 435.2 483.5 460.7 483.5 445.7 483.6 429.7 483.7 466.1 484.0 439.7 484.0 446.4 484.1 428.0 484.4 458.5 484.5 454.2 484.5 448.1 484.7 438.0 485.0 473.1 485.0 475.7 485.2 446.7 485.5 483.5 485.5 473.2 485.9 486.8 486.0 463.2 486.0 473.0 486.1 467.5 486.5 491.2 486.5 494.8 486.5 501.7 486.6 472.5 487.0 483.4 487.0 469.8 487.4 500.2 487.5 492.6 487.5 492.2 487.7 472.0 487.8 505.8 488.0 502.6 488.0 500.7 488.1 482.6 488.2 505.7 488.5 490.1 488.5 487.1 488.6 501.8 488.9 469.7 489.0 475.9 489.0 476.5 489.3 492.5 489.4 462.6 489.5 482.7 489.5 471.9 489.5 486.0 489.8 461.5 490.0 470.0 490.0 473.1 490.0 481.4 490.3 451.5 490.5 460.1 490.5 459.7 490.6 468.7 490.7 444.6 491.0 453.1 491.0 461.3 491.3 445.1 491.4 467.5 491.5 449.5 491.5 452.7 491.6 456.4 491.8 432.5 492.0 452.1 492.0 445.3 492.0 449.7 492.2 436.2 492.5 446.3 492.5 449.9 492.5 440.1 492.7 463.4 493.0 448.0 493.0 452.8 493.2 478.5 493.4 452.7 493.5 467.2 493.5 474.4 493.6 463.0 493.9 487.2 494.0 466.2 494.0 467.5 494.0 461.9 494.2 489.8 494.5 475.5 494.5 490.1 494.7 470.4 495.0 474.1 495.0 476.7 495.2 468.7 495.5 503.4 495.5 498.2 495.5 495.7 495.6 498.8 495.8 470.8 496.0 494.2 496.0 491.5 496.1 501.5 496.3 469.7 496.5 479.5 496.5 483.0 496.5 498.2 497.0 467.7 497.0 476.4 497.1 467.5 497.4 494.9 497.5 476.1 497.5 481.0 497.8 493.7 498.0 462.5 498.0 470.1 498.2 482.7 498.4 457.2 498.5 466.9 498.5 472.4 498.6 473.8 499.0 440.5 499.0 440.4 499.4 456.2 499.5 443.9 499.5 440.1 499.6 466.8 499.9 435.6 500.0 458.7 500.0 462.8 500.1 439.4 500.5 450.3 500.5 453.7 500.8 441.5 500.9 462.5 501.0 449.5 501.0 453.1 501.2 442.0 501.5 465.3 501.5 449.9 501.5 454.5 502.0 475.4 502.0 468.7 502.0 480.2 502.3 455.2 502.5 468.6 502.5 468.3 502.9 493.6 503.0 476.0 503.0 474.5 503.4 495.1 503.5 489.3 503.5 500.6 503.6 485.5 503.7 501.8 504.0 499.1 504.0 489.2 504.2 472.8 504.3 507.0 504.5 480.1 504.5 497.1 504.6 501.7 505.0 476.7 505.0 488.6 505.2 504.5 505.3 475.6 505.5 486.7 505.5 499.8 505.7 500.6 505.8 474.9 506.0 485.9 506.0 486.1 506.5 490.6 506.5 470.8 506.5 466.6 506.7 483.4 506.8 459.4 507.0 474.1 507.0 481.7 507.2 486.6 507.4 446.0 507.5 465.2 507.5 464.5 507.9 435.0 508.0 439.1 508.0 439.0 508.4 432.8 508.5 454.2 508.5 459.7 508.6 468.7 508.7 441.0 509.0 445.4 509.0 435.3 509.5 461.6 509.5 457.8 509.5 445.0 509.8 483.1 510.0 456.6 510.0 454.2 510.3 483.7 510.5 461.5 510.5 478.5 510.6 468.3 511.0 497.5 511.0 490.5 511.0 476.6 511.2 503.9 511.4 476.0 511.5 482.4 511.5 481.1 511.7 471.6 512.0 506.4 512.0 501.6 512.1 483.7 512.4 505.4 512.5 485.2 512.5 490.0 512.5 482.3 513.0 501.5 513.0 500.6 513.2 505.7 513.3 470.3 513.5 497.5 513.5 498.2 513.8 501.1 514.0 475.8 514.0 489.7 514.0 496.0 514.5 472.2 514.5 474.8 514.6 486.8 514.7 453.9 515.0 461.6 515.0 464.9 515.1 479.2 515.3 461.8 515.5 463.1 515.5 456.1 515.6 474.2 515.9 445.8 516.0 451.5 516.0 448.3 516.1 432.0 516.2 462.1 516.5 448.9 516.5 443.4 516.7 449.1 516.8 427.7 517.0 441.6 517.0 440.4 517.2 459.0 517.3 434.0 517.5 443.3 517.5 448.7 517.5 438.3 517.6 463.8 518.0 445.0 518.0 448.9 518.1 441.1 518.2 469.3 518.5 460.8 518.5 466.9 518.6 477.7 518.8 454.2 519.0 471.6 519.0 479.0 519.0 464.7 519.3 495.1 519.5 474.4 519.5 469.9 519.9 503.4 520.0 491.5 520.0 482.6 520.0 472.7 520.4 499.4 520.5 493.8 520.5 489.7 520.7 477.2 521.0 500.6 521.0 499.8 521.0 484.6 521.0 477.3 521.4 497.1 521.5 487.3 521.5 482.1 521.7 474.2 521.8 497.7 522.0 477.4 522.0 483.3 522.2 489.2 522.3 471.2 522.5 476.3 522.5 475.3 522.6 496.1 522.8 458.3 523.0 469.0 523.0 470.2 523.3 484.6 523.5 452.6 523.5 463.0 523.8 465.1 523.9 439.7 524.0 451.7 524.0 451.5 524.2 462.1 524.4 429.7 524.5 444.4 524.5 442.2 524.9 450.5 525.0 429.0 525.0 442.3 525.0 436.6 525.2 455.7 525.2 425.6 525.5 443.2 525.5 435.7 525.5 425.7 526.0 456.1 526.0 449.9 526.0 444.7 526.4 428.6 526.5 460.7 526.5 453.9 526.5 448.4 526.6 445.2 526.9 466.7 527.0 458.5 527.0 463.5 527.3 451.5 527.4 484.4 527.5 463.3 527.5 475.4 527.9 487.5 528.0 466.5 528.0 477.8 528.2 488.5 528.2 469.4 528.5 487.1 528.5 482.6 528.5 494.0 529.0 475.8 529.0 486.1 529.1 469.8 529.2 507.0 529.5 484.5 529.5 487.8 529.6 474.8 529.7 493.1 530.0 490.2 530.0 481.5 530.1 465.4 530.3 492.0 530.5 476.3 530.5 473.4 530.7 478.8 530.9 457.6 531.0 471.0 531.0 469.1 531.1 476.4 531.4 452.4 531.5 461.5 531.5 469.2 531.7 451.1 531.8 471.5 532.0 453.9 532.0 449.2 532.1 459.7 532.5 435.7 532.5 440.7 532.7 446.9 532.9 422.8 533.0 433.5 533.0 429.7 533.1 442.8 533.3 420.2 533.5 440.1 533.5 451.0 533.8 424.6 534.0 434.0 534.0 435.5 534.1 433.3 534.2 453.3 534.5 444.8 534.5 445.4 534.6 434.9 534.8 460.4 535.0 459.7 535.0 457.9 535.4 454.4 535.5 477.0 535.5 465.6 535.5 466.2 535.7 459.3 535.8 494.2 536.0 485.1 536.0 484.9 536.3 496.1 536.4 459.8 536.5 486.9 536.5 486.6 536.6 478.9 537.0 498.4 537.0 481.6 537.0 476.6 537.3 495.2 537.3 474.5 537.5 490.4 537.5 480.8 537.7 474.7 537.9 497.4 538.0 491.7 538.0 489.6 538.3 465.0 538.4 502.2 538.5 495.1 538.5 490.3 538.6 491.1 538.9 473.1 539.0 474.3 539.0 477.5 539.3 484.2 539.4 463.3 539.5 479.0 539.5 477.5 539.7 485.4 539.9 462.3 540.0 470.8 540.0 474.7 540.0 482.1 540.3 455.3 540.5 459.0 540.5 461.6 540.5 471.5 540.9 442.7 541.0 466.9 541.0 465.5 541.2 431.8 541.5 459.3 541.5 444.8 541.7 439.3 541.8 457.2 542.0 439.7 542.0 437.5 542.0 427.2 542.4 459.6 542.5 457.1 542.5 449.3 542.7 466.7 543.0 443.5 543.0 450.5 543.0 464.3 543.2 460.6 543.3 484.6 543.5 464.9 543.5 457.2 544.0 484.6 544.0 493.1 544.2 502.2 544.4 470.0 544.5 492.5 544.5 493.9 544.6 473.3 544.9 496.3 545.0 477.5 545.0 484.0 545.2 505.2 545.4 476.4 545.5 476.4 545.5 498.4 545.6 501.0 545.9 476.2 546.0 494.8 546.0 481.9 546.2 499.8 546.3 475.9 546.5 482.7 546.5 481.1 546.6 503.9 546.9 467.8 547.0 480.5 547.0 486.2 547.1 500.4 547.4 464.6 547.5 483.6 547.5 480.0 547.5 489.5 547.9 460.2 548.0 470.3 548.0 474.8 548.4 447.4 548.5 459.2 548.5 458.0 548.5 459.8 548.6 432.8 549.0 441.8 549.0 445.5 549.0 431.1 549.1 456.1 549.5 445.5 549.5 440.8 549.8 443.1 549.9 420.0 550.0 431.9 550.0 430.3 550.2 422.1 550.4 447.5 550.5 428.8 550.5 437.8 550.6 425.7 551.0 456.3 551.0 453.5 551.1 434.1 551.5 458.8 551.5 463.4 551.6 452.4 551.8 471.5 552.0 467.8 552.0 464.5 552.1 456.4 552.2 485.3 552.5 479.4 552.5 483.3 552.7 459.8 553.0 497.2 553.0 492.2 553.0 492.3 553.1 493.9 553.4 470.3 553.5 483.8 553.5 486.6 553.6 480.7 553.8 498.4 554.0 490.7 554.0 493.1 554.1 468.6 554.4 504.6 554.5 494.1 554.5 487.8 554.7 474.2 554.8 502.5 555.0 479.1 555.0 489.8 555.3 490.3 555.4 462.0 555.5 486.6 555.5 485.6 555.6 498.8 556.0 469.9 556.0 473.1 556.0 474.6 556.2 479.0 556.2 445.7 556.5 451.9 556.5 463.6 556.6 471.2 557.0 442.3 557.0 435.0 557.2 449.7 557.5 424.6 557.5 439.2 557.5 441.2 557.7 451.0 558.0 421.6 558.0 423.6 558.2 443.9 558.4 416.0 558.5 431.8 558.5 428.3 558.7 416.6 558.8 441.7 559.0 432.9 559.0 434.8 559.0 419.4 559.3 445.6 559.5 443.2 559.5 445.6 559.6 441.4 559.9 472.2 560.0 455.5 560.0 446.3 560.2 441.9 560.5 478.2 560.5 481.7 560.6 466.8 560.9 494.1 561.0 486.6 561.0 473.1 561.1 463.5 561.5 503.4 561.5 491.9 561.5 486.3 561.8 502.5 561.9 476.9 562.0 490.4 562.0 485.2 562.2 495.6 562.3 471.1 562.5 493.7 562.5 475.8 562.7 495.9 562.7 473.6 563.0 481.7 563.0 480.4 563.1 501.6 563.3 470.8 563.5 480.1 563.5 492.0 563.8 493.6 564.0 469.7 564.0 475.9 564.3 485.0 564.5 464.7 564.5 474.9 564.5 457.0 564.8 475.5 565.0 458.2 565.0 461.9 565.1 468.1 565.3 444.6 565.5 453.7 565.5 447.9 565.8 468.6 565.8 437.5 566.0 447.8 566.0 442.5 566.3 434.5 566.5 451.4 566.5 446.7 566.5 443.8 566.6 453.7 567.0 427.7 567.0 443.1 567.1 439.8 567.4 458.3 567.5 443.1 567.5 449.4 567.7 463.7 567.9 442.7 568.0 451.3 568.0 466.6 568.1 456.0 568.5 479.4 568.5 474.4 568.7 484.0 568.8 462.3 569.0 483.0 569.0 468.1 569.2 498.4 569.3 462.5 569.5 486.5 569.5 496.6 570.0 474.8 570.0 476.3 570.0 479.4 570.1 473.4 570.5 503.4 570.5 490.4 570.5 487.9 570.8 479.6 570.9 501.3 571.0 491.9 571.0 482.7 571.2 494.8 571.3 477.3 571.5 478.7 571.5 476.9 571.6 499.4 571.9 463.2 572.0 471.3 572.0 473.1 572.3 488.4 572.4 459.1 572.5 479.0 572.5 473.5 572.6 485.6 572.8 464.1 573.0 474.2 573.0 460.4 573.1 467.7 573.4 436.1 573.5 453.4 573.5 439.2 573.7 461.8 573.9 430.3 574.0 442.7 574.0 451.5 574.2 419.6 574.5 441.0 574.5 429.3 574.8 455.5 575.0 425.0 575.0 430.1 575.4 442.5 575.4 421.9 575.5 433.7 575.5 430.9 575.9 455.3 576.0 445.0 576.0 440.5 576.0 430.1 576.5 471.9 576.5 462.0 576.5 451.3 576.8 476.8 577.0 467.3 577.0 458.3 577.2 456.2 577.3 485.7 577.5 471.8 577.5 470.4 577.8 469.9 577.9 494.7 578.0 494.5 578.0 478.7 578.3 472.9 578.3 491.5 578.5 490.0 578.5 482.6 578.6 476.1 578.8 502.2 579.0 483.2 579.0 486.0 579.1 497.7 579.1 471.5 579.5 487.7 579.5 477.0 579.7 500.3 579.9 471.0 580.0 474.6 580.0 475.1 580.2 471.5 580.5 492.7 580.5 492.1 580.5 491.6 580.6 461.8 580.8 494.3 581.0 464.0 581.0 470.1 581.2 454.9 581.4 472.0 581.5 461.3 581.5 466.4 581.5 469.7 581.9 435.0 582.0 457.3 582.0 470.8 582.3 432.7 582.5 435.5 582.5 441.5 582.6 424.4 583.0 452.6 583.0 449.4 583.2 459.1 583.3 425.4 583.5 454.1 583.5 447.6 583.7 457.9 583.8 428.7 584.0 454.2 584.0 455.9 584.1 434.1 584.4 466.2 584.5 449.2 584.5 452.4 584.7 476.2 585.0 470.3 585.0 479.9 585.2 462.4 585.5 489.4 585.5 477.0 585.5 485.1 585.7 466.9 586.0 496.1 586.0 491.5 586.0 492.5 586.3 481.5 586.4 498.4 586.5 481.8 586.5 487.0 586.7 476.0 587.0 492.7 587.0 478.0 587.0 490.6 587.0 481.0 587.2 501.6 587.5 484.4 587.5 478.6 587.8 468.4 587.9 492.8 588.0 479.8 588.0 473.2 588.3 461.2 588.4 491.7 588.5 474.5 588.5 476.2 588.6 493.8 588.8 463.2 589.0 477.6 589.0 487.5 589.2 454.9 589.3 489.5 589.5 468.0 589.5 478.1 589.9 450.9 590.0 472.2 590.0 468.9 590.5 434.3 590.5 440.7 590.5 436.9 590.6 434.8 590.8 454.7 591.0 440.1 591.0 428.8 591.1 443.5 591.5 419.2 591.5 420.6 591.5 427.7 591.7 444.6 591.8 416.9 592.0 431.2 592.0 429.1 592.5 455.3 592.5 439.1 592.8 438.8 593.0 465.6 593.0 460.0 593.2 443.3 593.3 466.9 593.5 454.4 593.5 468.8 593.7 460.6 593.8 483.9 594.0 478.3 594.0 475.3 594.1 472.5 594.5 489.9 594.5 489.0 594.6 471.1 595.0 499.2 595.0 493.2 595.2 476.1 595.3 497.4 595.5 483.8 595.5 472.9 595.5 468.4 595.9 494.5 596.0 490.1 596.0 478.8 596.0 496.4 596.2 476.1 596.5 482.7 596.5 482.2 596.7 470.3 597.0 496.9 597.0 478.0 597.0 487.0 597.5 464.7 597.5 478.1 597.5 475.9 597.5 478.8 598.0 443.3 598.0 456.0 598.0 459.4 598.1 467.2 598.3 427.5 598.5 445.9 598.5 444.3 598.6 451.7 598.8 422.9 599.0 437.1 599.0 441.7 599.1 428.5 599.4 444.1 599.5 434.1 599.5 434.8 599.6 449.5 599.7 423.0 600.0 426.3 600.0 441.6 600.1 423.7 600.4 447.8 600.5 441.9 600.5 455.7 600.9 438.1 601.0 453.5 601.0 443.2 601.1 436.9 601.4 477.7 601.5 463.5 601.5 468.5 601.7 455.5 601.9 483.4 602.0 467.1 602.0 487.5 602.2 467.5 602.3 489.8 602.5 476.3 602.5 482.0 602.6 491.1 602.8 473.1 603.0 485.1 603.0 471.8 603.1 502.2 603.5 479.1 603.5 480.1 603.8 496.7 604.0 475.4 604.0 477.9 604.2 499.7 604.4 477.0 604.5 490.9 604.5 488.9 604.7 493.6 604.8 473.4 605.0 474.0 605.0 480.6 605.1 491.4 605.4 464.2 605.5 481.3 605.5 469.1 605.6 458.4 605.9 480.8 606.0 463.4 606.0 470.5 606.2 476.8 606.4 438.3 606.5 457.6 606.5 474.4 606.9 437.8 607.0 455.7 607.0 450.7 607.1 435.0 607.3 459.9 607.5 437.0 607.5 431.8 607.6 457.6 608.0 445.1 608.0 438.8 608.0 431.3 608.1 456.0 608.5 446.9 608.5 447.2 608.6 436.1 609.0 465.0 609.0 455.0 609.0 457.4 609.3 439.0 609.5 469.0 609.5 468.7 609.5 455.7 609.7 447.4 609.8 471.3 610.0 468.4 610.0 458.0 610.4 484.3 610.5 470.2 610.5 461.0 610.7 497.3 611.0 474.3 611.0 481.4 611.3 501.0 611.5 474.4 611.5 478.1 611.5 483.5 611.7 497.7 612.0 472.7 612.0 465.9 612.4 496.6 612.5 494.4 612.5 482.0 612.5 480.5 612.6 497.8 613.0 487.8 613.0 487.0 613.1 498.6 613.2 473.7 613.5 487.7 613.5 480.0 613.5 493.7 614.0 460.3 614.0 461.2 614.1 486.0 614.4 453.2 614.5 466.6 614.5 475.1 614.6 480.7 615.0 448.7 615.0 449.1 615.3 439.2 615.4 460.8 615.5 453.1 615.5 447.9 615.6 452.2 615.9 432.6 616.0 447.9 616.0 451.7 616.1 428.0 616.3 453.7 616.5 430.9 616.5 426.8 616.9 458.4 617.0 436.7 617.0 438.8 617.1 464.6 617.5 452.3 617.5 445.8 617.5 440.0 617.9 470.8 618.0 454.8 618.0 478.6 618.1 454.9 618.3 485.0 618.5 471.4 618.5 470.5 618.6 464.4 618.9 488.9 619.0 473.1 619.0 478.0 619.1 475.2 619.3 499.7 619.5 490.3 619.5 489.6 619.9 501.0 619.9 472.3 620.0 474.1 620.0 481.6 620.1 472.7 620.2 497.1 620.5 483.8 620.5 489.8 620.6 469.5 620.9 503.4 621.0 494.8 621.0 491.1 621.1 498.5 621.4 478.3 621.5 487.4 621.5 490.6 621.8 498.8 622.0 472.4 622.0 476.0 622.0 486.9 622.1 494.3 622.4 472.7 622.5 486.8 622.5 482.3 622.6 482.9 622.7 455.8 623.0 474.7 623.0 474.9 623.5 452.0 623.5 461.3 623.8 472.8 624.0 449.4 624.0 450.4 624.0 456.1 624.0 461.0 624.2 435.5 624.5 455.5 624.5 452.4 624.6 435.7 624.8 466.1 625.0 444.4 625.0 434.8 625.0 430.4 625.2 470.6 625.5 461.4 625.5 451.9 625.5 440.7 625.9 480.2 626.0 466.5 626.0 465.4 626.0 463.1 626.5 479.6 626.5 472.1 626.8 485.5 626.9 465.2 627.0 478.0 627.0 490.7 627.1 473.2 627.5 497.7 627.5 502.1 627.9 478.6 628.0 497.5 628.0 499.4 628.0 502.2 628.3 472.4 628.5 501.3 628.5 494.0 628.9 499.5 628.9 477.4 629.0 485.1 629.0 492.0 629.1 470.2 629.4 502.8 629.5 481.5 629.5 489.2 629.5 499.3 629.8 470.3 630.0 478.1 630.0 479.3 630.4 495.1 630.5 475.6 630.5 485.8 630.9 451.3 631.0 457.5 631.0 469.9 631.3 448.5 631.4 475.2 631.5 473.6 631.5 458.7 631.7 466.5 631.8 440.8 632.0 448.4 632.0 451.4 632.2 458.0 632.4 440.3 632.5 443.2 632.5 447.8 632.9 467.4 633.0 426.8 633.0 445.3 633.0 441.5 633.2 463.4 633.5 460.2 633.5 459.1 633.8 470.4 633.9 439.6 634.0 454.7 634.0 460.6 634.4 444.7 634.5 470.4 634.5 466.6 634.5 473.5 634.6 455.1 634.9 485.2 635.0 468.2 635.0 466.0 635.1 485.5 635.5 481.6 635.5 469.3 635.7 502.8 636.0 484.6 636.0 482.2 636.1 468.9 636.4 494.0 636.5 486.7 636.5 478.7 636.7 497.8 636.8 474.0 637.0 482.7 637.0 482.1 637.1 471.3 637.2 495.4 637.5 486.9 637.5 476.9 637.7 476.0 637.8 499.9 638.0 493.6 638.0 490.7 638.2 470.2 638.5 497.8 638.5 484.0 638.5 487.2 638.7 460.8 639.0 481.4 639.0 485.2 639.3 460.3 639.5 463.0 639.5 445.0 639.6 440.1 639.8 478.6 640.0 448.8 640.0 453.5 640.3 430.9 640.5 452.4 640.5 446.5 640.5 457.1 640.9 425.6 641.0 435.4 641.0 437.3 641.2 432.8 641.4 452.7 641.5 448.4 641.5 452.7 641.6 428.6 642.0 443.1 642.0 440.0 642.4 463.0 642.5 449.9 642.5 459.5 642.7 450.6 642.9 472.6 643.0 465.9 643.0 476.2 643.2 453.4 643.5 482.2 643.5 466.8 643.5 464.5 643.6 464.0 644.0 501.2 644.0 492.7 644.3 499.9 644.4 475.6 644.5 490.5 644.5 491.2 644.6 500.2 644.7 466.9 645.0 490.0 645.0 484.4 645.1 481.7 645.2 500.3 645.5 494.5 645.5 497.4 645.6 470.6 645.8 502.8 646.0 482.2 646.0 495.9 646.1 471.7 646.4 500.9 646.5 484.1 646.5 497.3 646.5 498.2 646.8 473.8 647.0 476.2 647.0 472.1 647.1 468.2 647.4 486.1 647.5 475.1 647.5 475.6 647.7 476.7 647.8 450.3 648.0 461.1 648.0 458.9 648.2 467.0 648.5 432.7 648.5 434.6 648.7 433.1 649.0 447.1 649.0 443.5 649.0 446.9 649.1 427.7 649.2 457.2 649.5 436.4 649.5 436.6 649.6 429.9 649.8 461.0 650.0 444.9 650.0 449.9 650.3 434.0 650.4 459.9 650.5 443.6 650.5 434.1 651.0 465.9 651.0 460.3 651.0 464.7 651.1 441.0 651.4 472.4 651.5 467.8 651.5 470.9 651.6 461.9 651.8 498.4 652.0 480.2 652.0 474.8 652.1 469.2 652.2 487.4 652.5 477.7 652.5 483.0 652.8 471.6 653.0 501.6 653.0 494.3 653.0 496.7 653.5 471.5 653.5 475.2 653.5 470.4 654.0 500.0 654.0 494.2 654.0 485.0 654.1 486.2 654.4 470.3 654.5 482.3 654.5 478.0 654.8 469.8 655.0 489.5 655.0 483.3 655.0 481.3 655.0 488.3 655.3 469.5 655.5 471.5 655.5 470.2 655.7 459.1 655.9 483.4 656.0 465.7 656.0 464.4 656.2 476.7 656.3 454.4 656.5 458.6 656.5 458.2 656.6 471.9 656.9 434.3 657.0 441.3 657.0 444.9 657.1 442.2 657.2 462.7 657.5 453.3 657.5 444.5 657.5 450.1 657.9 426.2 658.0 439.6 658.0 436.7 658.1 453.6 658.1 430.0 658.5 450.8 658.5 455.9 658.6 439.9 658.7 462.8 659.0 456.1 659.0 465.0 659.3 445.1 659.5 484.6 659.5 476.6 659.6 481.8 659.9 457.0 660.0 479.1 660.0 477.6 660.1 482.5 660.4 465.1 660.5 480.8 660.5 478.1 660.8 466.6 660.9 493.8 661.0 491.9 661.0 490.3 661.3 474.4 661.4 500.8 661.5 489.0 661.5 500.0 661.7 501.9 662.0 476.0 662.0 484.8 662.0 490.0 662.1 468.6 662.2 502.8 662.5 477.7 662.5 483.2 662.6 472.4 662.9 497.2 663.0 475.6 663.0 484.3 663.1 472.8 663.3 498.9 663.5 488.5 663.5 483.7 663.7 462.5 664.0 474.5 664.0 465.5 664.0 483.9 664.4 448.9 664.5 468.4 664.5 467.0 664.7 470.4 664.7 453.9 665.0 467.0 665.0 456.4 665.4 457.7 665.4 427.4 665.5 429.3 665.5 438.3 665.7 459.5 665.8 434.3 666.0 439.4 666.0 439.8 666.2 432.8 666.4 457.8 666.5 454.2 666.5 458.1 666.7 467.3 666.8 429.1 667.0 452.3 667.0 463.4 667.1 443.6 667.5 484.3 667.5 479.5 667.5 481.3 667.6 455.1 667.8 486.7 668.0 457.0 668.0 465.3 668.1 460.6 668.3 493.1 668.5 492.0 668.5 489.9 668.8 464.8 668.9 494.5 669.0 478.4 669.0 478.1 669.2 468.5 669.3 498.5 669.5 474.2 669.5 476.3 669.5 475.6 669.7 501.6 670.0 483.3 670.0 480.4 670.1 473.3 670.2 496.5 670.5 478.7 670.5 478.3 670.8 463.1 670.9 501.5 671.0 497.0 671.0 489.6 671.2 472.1 671.5 498.6 671.5 494.0 671.6 466.7 671.9 494.0 672.0 482.2 672.0 483.7 672.1 492.8 672.2 459.5 672.5 462.4 672.5 466.3 672.7 446.1 672.7 468.5 673.0 458.9 673.0 454.9 673.2 471.4 673.4 443.1 673.5 450.6 673.5 461.4 673.9 418.4 674.0 436.0 674.0 441.1 674.1 429.5 674.3 463.0 674.5 439.8 674.5 436.1 674.8 456.8 675.0 445.8 675.0 440.0 675.4 470.0 675.5 447.4 675.5 450.9 675.6 442.1 675.8 465.0 676.0 450.3 676.0 447.5 676.0 443.6 676.3 482.7 676.5 459.0 676.5 463.8 676.6 461.4 676.9 492.2 677.0 477.0 677.0 477.6 677.2 490.1 677.5 465.8 677.5 471.9 677.7 461.4 677.8 487.9 678.0 482.9 678.0 484.2 678.1 492.7 678.4 471.9 678.5 485.2 678.5 479.1 678.7 493.2 679.0 464.0 679.0 467.2 679.0 484.7 679.1 465.9 679.3 500.4 679.5 473.8 679.5 471.9 679.6 453.4 680.0 485.9 680.0 477.6 680.0 475.8 680.3 476.3 680.3 450.7 680.5 472.7 680.5 472.6 681.0 445.0 681.0 456.5 681.0 463.9 681.5 435.2 681.5 445.0 681.5 453.0 682.0 430.9 682.0 440.7 682.0 439.5 682.1 453.9 682.2 432.6 682.5 437.3 682.5 438.7 682.6 456.8 682.8 423.8 683.0 448.2 683.0 448.3 683.1 431.3 683.2 462.0 683.5 441.7 683.5 444.0 683.6 436.1 683.7 470.2 684.0 466.0 684.0 470.5 684.1 449.2 684.5 485.2 684.5 477.8 684.5 476.3 684.7 459.4 684.8 488.5 685.0 480.9 685.0 480.4 685.1 499.0 685.2 460.9 685.5 479.5 685.5 481.7 685.5 476.5 685.9 502.1 686.0 488.7 686.0 469.3 686.4 502.8 686.5 489.4 686.5 502.6 686.8 473.3 687.0 480.0 687.0 487.7 687.1 495.0 687.2 474.8 687.5 483.9 687.5 486.0 687.7 492.7 688.0 463.5 688.0 470.9 688.1 489.4 688.5 457.4 688.5 467.7 688.5 476.4 688.6 478.2 689.0 457.5 689.0 457.6 689.0 461.8 689.3 468.0 689.4 435.5 689.5 442.2 689.5 455.6 689.9 435.6 690.0 450.1 690.0 443.8 690.1 428.3 690.4 444.4 690.5 441.0 690.5 431.9 690.7 423.8 691.0 439.7 691.0 433.2 691.0 426.6 691.3 453.2 691.5 428.4 691.5 438.1 691.8 427.6 691.8 448.9 692.0 441.6 692.0 440.3 692.1 440.1 692.3 457.3 692.5 444.4 692.5 434.4 693.0 476.0 693.0 471.7 693.0 483.5 693.3 459.2 693.5 474.2 693.5 468.6 693.6 462.7 694.0 492.1 694.0 477.8 694.1 468.6 694.4 493.1 694.5 482.6 694.5 484.8 694.8 471.4 694.9 495.8 695.0 485.7 695.0 481.7 695.0 471.7 695.4 497.3 695.5 492.7 695.5 489.4 695.7 499.2 695.8 469.1 696.0 484.0 696.0 483.5 696.3 475.9 696.4 498.6 696.5 479.6 696.5 485.6 696.7 466.9 697.0 480.2 697.0 477.7 697.0 489.6 697.3 453.8 697.5 458.4 697.5 465.0 697.5 455.7 697.8 477.5 698.0 459.4 698.0 447.1 698.2 471.9 698.3 438.4 698.5 451.8 698.5 456.3 698.7 475.5 698.8 433.4 699.0 445.6 699.0 445.9 699.1 433.8 699.5 462.8 699.5 454.2 699.5 460.1 699.7 434.5 699.9 464.4 700.0 450.7 700.0 458.1 700.2 443.5 700.5 474.5 700.5 478.3 700.7 449.4 700.8 480.0 701.0 474.4 701.2 467.9 701.3 493.7 701.5 491.1 701.5 489.4 701.7 495.5 702.0 466.9 702.0 480.2 702.2 478.2 702.4 501.3 702.5 498.3 702.5 496.9 703.0 478.1 703.0 496.2 703.1 483.2 703.2 499.7 703.5 497.0 703.5 494.0 703.7 496.7 704.0 474.0 704.0 480.9 704.0 488.5 704.3 473.8 704.4 502.2 704.5 489.0 704.5 478.5 704.8 492.5 705.0 472.7 705.0 468.5 705.1 486.0 705.5 464.7 705.5 466.9 705.6 460.0 705.7 476.2 706.0 466.0 706.0 454.8 706.2 465.9 706.5 446.9 706.5 450.2 706.8 456.1 706.9 432.2 707.0 439.9 707.0 459.7 707.3 430.9 707.5 449.7 707.5 437.4 707.7 425.6 708.0 451.4 708.0 456.7 708.2 430.3 708.3 464.6 708.5 448.6 708.5 446.0 708.6 442.2 708.9 470.4 709.0 464.6 709.0 465.6 709.2 479.1 709.3 450.8 709.5 463.3 709.5 471.0 709.7 452.2 709.8 484.1 710.0 476.1 710.0 471.7 710.1 488.2 710.2 464.0 710.5 472.4 710.5 473.6 710.6 473.4 710.7 489.2 711.0 482.2 711.0 485.4 711.2 498.4 711.4 464.9 711.5 476.7 711.5 470.5 711.7 501.0 711.9 469.9 712.0 488.4 712.0 482.3 712.1 463.1 712.3 489.4 712.5 486.1 712.5 492.2 712.9 465.4 713.0 473.9 713.0 466.8 713.1 448.5 713.3 479.2 713.5 473.8 713.5 477.6 713.6 487.5 714.0 449.0 714.0 452.4 714.2 470.8 714.4 438.3 714.5 454.5 714.5 441.4 714.7 454.7 714.9 421.3 715.0 427.7 715.0 423.6 715.1 437.5 715.2 414.0 715.5 423.8 715.5 425.4 715.8 416.9 715.9 439.9 716.0 434.3 716.0 437.5 716.4 417.7 716.4 446.8 716.5 438.5 716.5 441.0 716.5 442.8 716.6 425.9 717.0 438.2 717.0 432.6 717.4 461.9 717.5 449.5 717.5 458.0 717.6 439.8 718.0 479.9 718.0 465.9 718.0 470.0 718.1 456.7 718.3 494.8 718.5 468.6 718.5 471.6 718.6 496.7 718.8 467.8 719.0 485.2 719.0 484.6 719.1 481.1 719.4 502.8 719.5 484.1 719.5 500.7 719.5 501.6 719.6 475.8 720.0 493.7 720.0 496.5 720.1 497.8 720.3 474.0 720.5 480.6 720.5 480.8 720.6 474.4 720.7 501.0 721.0 482.6 721.0 491.4 721.4 471.8 721.5 479.8 721.5 476.1 721.5 459.6 721.8 489.5 722.0 470.7 722.0 471.9 722.0 474.7 722.4 449.5 722.5 463.4 722.5 461.6 722.5 468.1 722.8 428.8 723.0 443.7 723.0 441.6 723.1 422.4 723.5 460.2 723.5 451.3 724.0 419.6 724.0 426.3 724.0 428.1 724.3 420.9 724.5 448.9 724.5 442.5 724.5 438.4 724.8 451.6 725.0 432.7 725.0 441.8 725.2 440.8 725.5 456.3 725.5 455.6 725.5 449.0 725.7 447.9 725.9 474.6 726.0 470.5 726.0 469.8 726.1 453.6 726.2 482.5 726.5 474.4 726.5 470.5 726.6 458.3 726.9 485.5 727.0 464.0 727.0 469.0 727.3 454.1 727.4 495.6 727.5 471.5 727.5 475.7 727.7 467.6 727.8 492.8 728.0 470.6 728.0 468.5 728.2 465.4 728.2 494.5 728.5 478.6 728.5 479.9 728.6 495.1 728.9 467.9 729.0 471.8 729.0 489.0 729.1 492.5 729.3 467.9 729.5 475.4 729.5 463.4 729.9 489.8 730.0 463.2 730.0 461.0 730.1 481.9 730.4 452.8 730.5 458.9 730.5 451.9 730.8 474.5 731.0 457.6 731.0 467.1 731.2 469.5 731.5 438.9 731.5 440.2 731.6 455.8 731.9 420.8 732.0 445.3 732.0 440.6 732.0 456.7 732.3 422.3 732.5 441.1 732.5 443.1 732.6 454.1 733.0 435.6 733.0 448.8 733.0 452.4 733.1 435.5 733.5 457.7 733.5 449.5 733.5 440.4 733.9 463.5 734.0 460.8 734.0 455.0 734.2 444.1 734.3 480.6 734.5 460.6 734.5 466.1 734.6 456.2 735.0 486.6 735.0 484.3 735.0 480.6 735.1 457.6 735.4 496.0 735.5 476.0 735.5 482.0 735.6 485.2 735.7 460.2 736.0 478.4 736.0 472.6 736.3 477.7 736.3 461.5 736.5 474.0 736.5 470.2 736.5 495.5 736.9 462.8 737.0 466.5 737.0 471.9 737.0 457.3 737.2 481.1 737.5 460.8 737.5 469.0 737.8 498.0 737.9 457.5 738.0 471.3 738.0 466.8 738.1 453.8 738.2 481.2 738.5 465.2 738.5 469.1 738.7 478.3 738.9 447.2 739.0 449.3 739.2 466.2 739.5 441.1 739.5 443.7 739.7 431.9 740.0 454.7 740.0 447.9 740.2 428.5 740.5 450.1 740.5 439.9 740.5 439.6 740.6 427.2 741.0 450.4 741.0 439.5 741.1 423.2 741.3 457.1 741.5 449.9 741.5 447.1 741.7 436.6 741.9 461.7 742.0 453.4 742.0 460.5 742.2 450.7 742.4 472.1 742.5 464.0 742.5 463.7 742.7 461.0 743.0 482.5 743.0 480.3 743.3 469.5 743.4 492.9 743.5 488.5 743.5 482.7 743.7 466.9 743.9 495.6 744.0 486.8 744.0 487.3 744.4 474.4 744.5 497.2 744.5 489.7 744.5 486.7 744.6 466.8 744.7 499.8 745.0 483.4 745.0 486.1 745.2 474.4 745.3 500.4 745.5 481.9 745.5 482.7 745.5 476.4 745.9 497.5 746.0 490.0 746.0 483.1 746.3 492.4 746.4 472.2 746.5 479.9 746.5 461.8 746.5 456.9 746.9 484.0 747.0 464.9 747.0 449.3 747.2 469.4 747.5 440.8 747.5 441.1 747.8 468.6 748.0 434.0 748.0 435.4 748.3 426.7 748.5 448.6 748.5 439.8 748.5 436.9 748.5 428.6 748.7 454.0 749.0 430.6 749.0 431.5 749.1 417.2 749.4 460.0 749.5 444.6 749.5 443.3 749.6 434.0 749.8 462.5 750.0 460.6 750.0 463.7 750.1 470.2 750.2 448.6 750.5 453.9 750.5 456.4 750.9 489.9 751.0 471.9 751.0 473.5 751.2 483.1 751.4 465.4 751.5 481.5 751.5 465.8 751.5 464.9 752.0 492.1 752.0 484.6 752.0 492.4 752.1 499.8 752.3 477.5 752.5 487.0 752.5 488.3 752.7 497.1 752.8 476.9 753.0 478.4 753.0 488.9 753.0 499.6 753.3 473.4 753.5 487.3 753.5 486.2 753.8 473.9 753.8 493.7 754.0 488.3 754.0 494.2 754.2 476.0 754.5 480.2 754.5 468.2 754.6 486.0 754.9 465.3 755.0 466.1 755.0 471.2 755.0 487.3 755.4 446.5 755.5 460.4 755.5 459.1 755.7 475.1 756.0 442.0 756.0 456.0 756.0 440.5 756.2 437.0 756.4 455.8 756.5 437.0 756.5 437.1 756.6 422.6 756.7 450.8 757.0 431.2 757.0 447.4 757.1 424.6 757.3 449.0 757.5 436.4 757.5 433.5 757.5 424.8 758.0 448.6 758.0 446.2 758.1 429.2 758.4 460.1 758.5 447.2 758.5 443.5 758.7 434.4 758.9 458.1 759.0 457.5 759.0 468.3 759.1 442.7 759.4 473.6 759.5 466.8 759.5 459.2 759.8 448.5 759.9 482.1 760.0 475.5 760.0 458.5 760.0 456.0 760.5 485.2 760.5 483.8 760.5 471.1 760.8 467.2 761.0 487.7 761.0 486.3 761.1 486.8 761.3 465.7 761.5 486.5 761.5 498.0 761.9 466.8 762.0 473.5 762.0 491.1 762.2 461.4 762.5 478.8 762.5 488.6 762.8 455.6 763.0 470.5 763.0 470.8 763.2 472.4 763.4 456.9 763.5 460.3 763.5 462.3 764.0 433.6 764.0 450.4 764.0 437.6 764.4 450.1 764.5 419.2 764.5 423.3 764.5 437.2 764.7 443.2 765.0 418.5 765.0 423.5 765.0 430.3 765.2 411.2 765.5 423.1 765.5 419.9 765.7 407.6 765.8 437.0 766.0 422.2 766.0 422.7 766.4 419.5 766.5 438.9 766.5 440.1 766.8 429.1 766.9 454.0 767.0 452.4 767.0 446.9 767.0 444.1 767.4 472.2 767.5 468.9 767.5 469.7 767.6 472.4 767.9 456.7 768.0 464.7 768.0 466.9 768.0 464.8 768.4 495.1 768.5 491.1 768.5 488.5 768.6 488.6 768.8 465.9 769.0 471.6 769.0 483.7 769.1 498.6 769.2 463.7 769.5 487.2 769.5 483.2 769.6 462.2 769.7 490.1 770.0 469.9 770.0 478.9 770.1 470.9 770.2 490.5 770.5 473.1 770.5 479.2 770.6 469.8 770.8 490.5 771.0 473.7 771.0 474.3 771.4 478.0 771.5 456.1 771.5 470.8 771.6 472.5 771.9 443.9 772.0 467.9 772.0 474.6 772.5 444.1 772.5 446.3 772.5 451.9 772.7 461.6 772.9 435.4 773.0 447.9 773.0 439.2 773.1 443.6 773.3 418.7 773.5 431.6 773.5 440.4 773.6 413.6 773.7 443.5 774.0 427.3 774.0 426.1 774.1 414.2 774.4 444.0 774.5 437.3 774.5 429.8 774.6 428.3 774.9 456.4 775.0 446.8 775.0 447.1 775.4 437.3 775.4 465.6 775.5 464.3 775.5 452.5 775.9 479.3 776.0 458.4 776.0 471.9 776.3 456.8 776.5 485.6 776.5 477.5 776.9 466.3 777.0 494.5 777.0 484.6 777.0 481.6 777.1 468.0 777.4 491.5 777.5 476.8 777.5 470.2 777.6 467.3 777.9 495.6 778.0 487.0 778.0 488.8 778.1 463.0 778.5 480.9 778.5 463.1 778.8 485.0 779.0 476.5 779.0 474.0 779.1 455.2 779.5 485.0 779.5 482.0 779.5 483.7 779.9 455.3 780.0 462.9 780.0 464.0 780.1 446.0 780.2 475.5 780.5 451.8 780.5 449.9 780.7 462.0 781.0 445.5 781.0 458.5 781.3 425.6 781.5 445.9 781.5 451.7 781.7 425.9 782.0 434.6 782.0 434.1 782.2 425.9 782.4 448.5 782.5 439.4 782.5 427.4 782.7 427.4 783.0 458.3 783.0 456.4 783.1 462.9 783.2 434.3 783.5 444.9 783.5 450.3 783.6 447.7 783.9 469.6 784.0 467.8 784.0 462.3 784.3 485.0 784.5 464.9 784.5 472.8 784.6 461.3 784.9 486.7 785.0 472.5 785.0 482.6 785.1 457.1 785.4 488.9 785.5 484.2 785.5 481.7 785.7 493.7 786.0 464.9 786.0 476.2 786.0 477.5 786.1 471.1 786.5 488.8 786.5 481.4 786.5 476.9 786.7 461.0 787.0 499.2 787.0 488.3 787.0 484.3 787.1 497.7 787.4 465.1 787.5 487.4 787.5 475.4 787.6 465.0 787.7 494.1 788.0 473.8 788.0 475.2 788.1 486.6 788.4 451.6 788.5 459.5 788.5 461.2 788.5 475.6 789.0 446.7 789.0 448.3 789.1 451.5 789.5 431.3 789.5 431.8 789.5 440.2 789.7 453.5 789.8 424.4 790.0 436.9 790.0 432.1 790.2 431.2 790.4 456.8 790.5 451.3 790.5 437.6 790.6 452.8 790.9 422.0 791.0 440.1 791.0 442.5 791.3 428.4 791.4 461.9 791.5 455.9 791.5 460.1 791.6 472.6 791.8 440.2 792.0 465.6 792.0 458.5 792.0 453.5 792.4 480.1 792.5 465.3 792.5 458.7 792.6 452.3 793.0 485.9 793.0 480.6 793.1 468.5 793.4 489.1 793.5 476.6 793.5 472.9 793.8 466.3 793.9 485.7 794.0 473.6 794.0 480.9 794.1 498.6 794.3 458.9 794.5 475.3 794.5 479.4 794.6 491.0 794.8 467.1 795.0 479.5 795.0 475.3 795.2 487.0 795.4 463.9 795.5 479.3 795.5 493.1 795.9 459.8 796.0 467.3 796.0 471.9 796.1 484.7 796.2 460.1 796.5 461.3 796.5 459.9 796.6 478.3 797.0 447.1 797.0 449.3 797.0 453.2 797.1 461.5 797.4 433.5 797.5 455.0 797.5 451.2 797.5 451.9 797.9 429.3 798.0 429.7 798.0 431.3 798.4 451.2 798.5 441.9 798.5 438.5 798.6 459.5 798.7 434.5 799.0 445.9 799.0 450.1 799.0 459.3 799.5 433.0 799.5 430.1 799.5 425.6 799.8 462.7 800.0 453.4 800.0 447.5 800.3 474.9 800.5 473.0 800.5 472.2 800.8 449.6 800.9 478.5 801.0 472.5 801.0 473.1 801.1 463.4 801.4 486.0 801.5 471.7 801.5 476.1 801.8 463.9 801.8 487.9 802.0 477.4 802.0 466.0 802.1 464.9 802.5 490.0 802.5 482.1 802.5 480.9 802.8 487.2 803.0 465.4 803.0 475.9 803.1 466.6 803.3 495.0 803.5 478.5 803.5 485.6 803.5 492.0 804.0 459.2 804.0 480.6 804.0 482.9 804.2 484.9 804.3 457.1 804.5 476.3 804.5 471.1 804.5 479.2 804.9 446.1 805.0 463.8 805.0 453.7 805.3 468.0 805.5 443.2 805.5 446.1 805.8 465.8 805.9 431.5 806.0 447.5 806.0 435.8 806.2 428.4 806.3 449.8 806.5 428.5 806.5 445.6 806.5 451.2 806.9 418.5 807.0 429.5 807.0 428.8 807.2 416.0 807.5 442.6 807.5 445.0 807.7 417.9 808.0 453.5 808.0 438.5 808.0 449.2 808.2 439.9 808.2 464.6 808.5 458.9 808.5 456.9 808.9 452.7 809.0 477.5 809.0 487.8 809.4 460.4 809.5 475.4 809.5 477.9 809.6 468.7 809.9 486.8 810.0 472.9 810.0 490.3 810.1 492.7 810.4 472.2 810.5 485.4 810.5 489.6 810.8 493.7 810.9 478.0 811.0 490.2 811.0 492.7 811.1 478.5 811.2 498.0 811.5 487.7 811.5 486.9 811.7 490.0 811.8 472.0 812.0 480.5 812.0 482.5 812.1 483.5 812.3 463.9 812.5 474.6 812.5 478.4 812.5 484.9 812.8 458.6 813.0 473.3 813.0 478.8 813.1 488.0 813.4 456.9 813.5 461.7 813.5 465.3 813.9 442.6 814.0 443.1 814.0 443.7 814.1 461.6 814.4 430.6 814.5 452.6 814.5 447.1 814.7 420.8 814.8 453.0 815.0 427.5 815.0 425.9 815.2 443.3 815.4 417.2 815.5 420.5 815.5 425.1 815.5 422.8 815.9 442.9 816.0 425.3 816.0 417.6 816.4 450.0 816.5 439.2 816.5 444.8 816.5 443.4 816.9 480.1 817.0 469.2 817.0 461.6 817.1 475.6 817.3 455.6 817.5 468.5 817.5 465.9 817.7 459.3 818.0 483.3 818.0 479.5 818.0 470.6 818.1 462.0 818.2 491.9 818.5 483.4 818.5 485.0 818.7 465.1 818.8 495.1 819.0 493.5 819.0 475.6 819.2 468.4 819.5 495.8 819.5 488.5 819.5 477.8 819.5 462.4 819.9 498.6 820.0 478.5 820.0 480.6 820.1 489.1 820.2 467.8 820.5 471.4 820.5 473.4 820.9 456.2 821.0 480.3 821.0 471.5 821.0 477.8 821.4 447.3 821.5 469.1 821.5 459.1 821.8 446.0 821.9 468.9 822.0 450.6 822.0 462.7 822.4 438.3 822.5 439.5 822.5 451.9 822.5 429.8 822.7 454.6 823.0 434.6 823.0 436.8 823.1 443.8 823.4 419.3 823.5 431.6 823.5 445.5 823.9 418.8 824.0 427.2 824.0 433.5 824.1 451.9 824.4 421.5 824.5 433.5 824.5 437.4 824.7 434.2 824.8 462.6 825.0 454.8 825.0 456.2 825.4 444.5 825.5 475.0 825.5 479.2 825.7 455.6 826.0 456.4 826.0 467.1 826.1 482.4 826.3 466.2 826.5 472.0 826.5 471.5 826.7 490.5 827.0 469.9 827.0 483.1 827.1 498.6 827.4 467.6 827.5 489.9 827.5 480.7 827.6 486.4 827.8 458.8 828.0 472.7 828.0 481.9 828.3 493.9 828.4 470.5 828.5 477.4 828.5 481.2 828.6 494.2 828.7 459.9 829.0 480.1 829.0 486.9 829.0 490.7 829.2 455.4 829.5 475.4 829.5 461.7 829.8 471.8 829.9 450.3 830.0 455.7 830.0 456.4 830.2 447.0 830.3 469.1 830.5 451.3 830.5 460.9 830.5 469.6 830.9 437.1 831.0 450.4 831.0 454.1 831.4 432.1 831.5 444.2 831.5 441.8 831.6 452.6 831.9 420.8 832.0 433.6 832.0 435.0 832.1 456.3 832.2 422.2 832.5 442.0 832.5 429.0 832.6 421.3 832.9 464.3 833.0 436.5 833.0 451.0 833.4 443.9 833.5 467.9 833.5 468.3 833.8 454.1 834.0 479.3 834.0 476.8 834.0 473.9 834.2 459.3 834.3 490.5 834.5 481.6 834.5 480.4 834.5 468.9 835.0 487.7 835.0 469.9 835.1 467.9 835.2 489.3 835.5 474.5 835.5 483.3 835.6 489.7 835.9 470.4 836.0 478.9 836.0 478.0 836.1 496.2 836.2 473.8 836.5 481.1 836.5 477.0 836.7 462.6 836.8 490.3 837.0 470.4 837.0 484.2 837.1 485.2 837.4 453.4 837.5 459.7 837.5 476.1 837.8 476.3 837.9 459.7 838.0 461.7 838.0 470.4 838.2 445.2 838.5 454.7 838.5 471.8 839.0 433.9 839.0 431.2 839.2 450.5 839.3 429.9 839.5 448.0 839.5 441.5 839.8 452.1 839.8 420.1 840.0 423.5 840.0 425.7 840.2 418.4 840.4 442.3 840.5 432.6 840.5 431.7 840.9 446.6 841.0 418.6 841.0 423.2 841.4 454.6 841.5 452.6 841.5 453.3 841.7 434.7 842.0 463.4 842.0 461.2 842.0 451.8 842.4 477.7 842.5 464.6 842.5 474.6 842.9 476.5 843.0 457.2 843.0 469.0 843.0 476.1 843.2 458.9 843.4 485.9 843.5 470.7 843.5 475.0 843.6 484.5 843.7 459.1 844.0 473.0 844.0 481.9 844.1 487.6 844.3 461.0 844.5 476.6 844.5 477.4 844.5 495.0 844.9 470.0 845.0 476.4 845.0 468.2 845.1 484.2 845.4 461.8 845.5 478.5 845.5 477.7 845.5 485.3 845.9 454.8 846.0 475.8 846.0 473.9 846.1 475.0 846.5 439.3 846.5 446.1 846.7 438.5 846.8 463.4 847.0 447.7 847.0 448.9 847.2 460.3 847.5 422.5 847.5 429.0 847.5 432.7 847.6 418.9 847.7 446.3 848.0 426.9 848.0 433.3 848.3 441.7 848.5 413.6 848.5 418.7 848.5 430.3 848.7 436.0 848.9 421.4 849.0 430.0 849.0 435.6 849.2 447.2 849.3 424.6 849.5 442.0 849.5 448.6 849.7 433.6 849.9 459.8 850.0 436.6 850.0 445.8 850.0 437.4 850.4 480.0 850.5 465.4 850.5 465.6 850.8 454.2 851.0 484.9 851.0 462.2 851.0 461.0 851.2 459.6 851.4 491.5 851.5 478.6 851.5 486.7 851.8 458.0 852.0 483.2 852.0 479.9 852.3 492.5 852.5 464.2 852.5 473.1 852.5 465.8 852.7 489.7 852.9 460.0 853.0 462.1 853.0 462.3 853.1 496.2 853.5 483.4 853.5 479.0 853.5 487.6 853.7 466.6 854.0 473.3 854.0 465.4 854.1 487.1 854.3 458.9 854.5 461.7 854.5 475.9 854.6 439.2 855.0 446.7 855.0 447.0 855.1 461.2 855.4 428.0 855.5 443.6 855.5 441.0 855.6 425.0 855.9 443.5 856.0 439.4 856.0 457.4 856.3 413.6 856.5 427.2 856.5 435.2 856.8 444.7 856.9 422.9 857.0 433.9 857.0 429.2 857.2 419.9 857.4 448.2 857.5 433.2 857.5 437.2 857.9 445.6 857.9 428.0 858.0 439.2 858.0 443.9 858.0 435.9 858.4 462.2 858.5 459.4 858.5 462.1 858.6 448.6 858.8 470.6 859.0 461.5 859.0 463.6 859.2 453.3 859.4 476.2 859.5 463.6 859.5 467.7 859.5 458.9 859.9 493.2 860.0 462.7 860.0 464.2 860.3 488.3 860.5 470.3 860.5 481.8 860.7 463.5 861.0 490.1 861.0 486.5 861.0 472.7 861.1 485.8 861.3 463.7 861.5 470.6 861.5 467.9 861.7 487.2 861.9 464.2 862.0 464.2 862.0 462.6 862.2 461.3 862.3 480.4 862.5 471.0 862.5 478.4 862.7 480.6 862.9 450.5 863.0 467.3 863.0 475.7 863.4 446.1 863.5 447.6 863.5 450.4 863.8 461.1 863.9 434.8 864.0 443.9 864.0 443.8 864.3 462.3 864.5 432.2 864.5 434.2 864.5 426.8 864.7 442.7 864.8 442.3" fill="none" stroke="#1f77b4" stroke-width="2.5" stroke-linecap="square" stroke-linejoin="round"/>
<path d="M125.5 519.5V401.5M900.5 519.5V401.5M125.5 519.5H900.5M125.5 401.5H900.5M202.5 519.5v4.86M285.5 519.5v4.86M367.5 519.5v4.86M450.5 519.5v4.86M533.5 519.5v4.86M616.5 519.5v4.86M699.5 519.5v4.86M782.5 519.5v4.86M865.5 519.5v4.86M125.5 513.5h-4.86M125.5 473.5h-4.86M125.5 432.5h-4.86" fill="none" stroke="#000" stroke-width="1.1111" stroke-linecap="square"/>
<g style="will-change:opacity" opacity="0.999"><text transform="translate(169.59 555.75) rotate(-30)" style="font-size:13.889px">2020</text><text transform="translate(252.51 555.75) rotate(-30)" style="font-size:13.889px">2030</text><text transform="translate(335.56 555.70) rotate(-30)" style="font-size:13.889px">2040</text><text transform="translate(418.61 555.68) rotate(-30)" style="font-size:13.889px">2050</text><text transform="translate(500.60 555.73) rotate(-30)" style="font-size:13.889px">2060</text><text transform="translate(583.39 555.69) rotate(-30)" style="font-size:13.889px">2070</text><text transform="translate(666.61 555.69) rotate(-30)" style="font-size:13.889px">2080</text><text transform="translate(749.56 555.73) rotate(-30)" style="font-size:13.889px">2090</text><text transform="translate(832.65 555.65) rotate(-30)" style="font-size:13.889px">2100</text><text x="114.37" y="518.62" style="font-size:13.889px;text-anchor:end">300</text><text x="114.48" y="477.52" style="font-size:13.889px;text-anchor:end">310</text><text x="114.42" y="437.52" style="font-size:13.889px;text-anchor:end">320</text><text x="79.52" y="461.57" transform="rotate(-90 79.52 461.57)" style="font-size:13.889px;text-anchor:middle">fieldmax</text></g>
<rect x="125" y="542" width="775" height="117" fill="#fff"/>
<clipPath id="c3"><rect x="125.00" y="542.07" width="775.00" height="117.24"/></clipPath>
<path clip-path="url(#c3)" d="M160.2 600.7L160.5 600.7 161.0 600.7 161.5 600.7 162.0 600.7 162.5 600.7 163.0 600.7 163.5 600.7 164.0 600.7 164.5 600.7 165.0 600.7 165.5 600.7 166.0 600.7 166.5 600.7 167.0 600.7 167.5 600.7 168.0 600.7 168.5 600.7 169.0 600.7 169.5 600.7 170.0 600.7 170.5 600.7 171.0 600.7 171.5 600.7 172.0 600.7 172.5 600.7 173.0 600.7 173.5 600.7 174.0 600.7 174.5 600.7 175.0 600.7 175.5 600.7 176.0 600.7 176.5 600.7 177.0 600.7 177.5 600.7 178.0 600.7 178.5 600.7 179.0 600.7 179.5 600.7 180.0 600.7 180.5 600.7 181.0 600.7 181.5 600.7 182.0 600.7 182.5 600.7 183.0 600.7 183.5 600.7 184.0 600.7 184.5 600.7 185.0 600.7 185.5 600.7 186.0 600.7 186.5 600.7 187.0 600.7 187.5 600.7 188.0 600.7 188.5 600.7 189.0 600.7 189.5 600.7 190.0 600.7 190.5 600.7 191.0 600.7 191.5 600.7 192.0 600.7 192.5 600.7 193.0 600.7 193.5 600.7 194.0 600.7 194.5 600.7 195.0 600.7 195.5 600.7 196.0 600.7 196.5 600.7 197.0 600.7 197.5 600.7 198.0 600.7 198.5 600.7 199.0 600.7 199.5 600.7 200.0 600.7 200.5 600.7 201.0 600.7 201.5 600.7 202.0 600.7 202.5 600.7 203.0 600.7 203.5 600.7 204.0 600.7 204.5 600.7 205.0 600.7 205.5 600.7 206.0 600.7 206.5 600.7 207.0 600.7 207.5 600.7 208.0 600.7 208.5 600.7 209.0 600.7 209.5 600.7 210.0 600.7 210.5 600.7 211.0 600.7 211.5 600.7 212.0 600.7 212.5 600.7 213.0 600.7 213.5 600.7 214.0 600.7 214.5 600.7 215.0 600.7 215.5 600.7 216.0 600.7 216.5 600.7 217.0 600.7 217.5 600.7 218.0 600.7 218.5 600.7 219.0 600.7 219.5 600.7 220.0 600.7 220.5 600.7 221.0 600.7 221.5 600.7 222.0 600.7 222.5 600.7 223.0 600.7 223.5 600.7 224.0 600.7 224.5 600.7 225.0 600.7 225.5 600.7 226.0 600.7 226.5 600.7 227.0 600.7 227.5 600.7 228.0 600.7 228.5 600.7 229.0 600.7 229.5 600.7 230.0 600.7 230.5 600.7 231.0 600.7 231.5 600.7 232.0 600.7 232.5 600.7 233.0 600.7 233.5 600.7 234.0 600.7 234.5 600.7 235.0 600.7 235.5 600.7 236.0 600.7 236.5 600.7 237.0 600.7 237.5 600.7 238.0 600.7 238.5 600.7 239.0 600.7 239.5 600.7 240.0 600.7 240.5 600.7 241.0 600.7 241.5 600.7 242.0 600.7 242.5 600.7 243.0 600.7 243.5 600.7 244.0 600.7 244.5 600.7 245.0 600.7 245.5 600.7 246.0 600.7 246.5 600.7 247.0 600.7 247.5 600.7 248.0 600.7 248.5 600.7 249.0 600.7 249.5 600.7 250.0 600.7 250.5 600.7 251.0 600.7 251.5 600.7 252.0 600.7 252.5 600.7 253.0 600.7 253.5 600.7 254.0 600.7 254.5 600.7 255.0 600.7 255.5 600.7 256.0 600.7 256.5 600.7 257.0 600.7 257.5 600.7 258.0 600.7 258.5 600.7 259.0 600.7 259.5 600.7 260.0 600.7 260.5 600.7 261.0 600.7 261.5 600.7 262.0 600.7 262.5 600.7 263.0 600.7 263.5 600.7 264.0 600.7 264.5 600.7 265.0 600.7 265.5 600.7 266.0 600.7 266.5 600.7 267.0 600.7 267.5 600.7 268.0 600.7 268.5 600.7 269.0 600.7 269.5 600.7 270.0 600.7 270.5 600.7 271.0 600.7 271.5 600.7 272.0 600.7 272.5 600.7 273.0 600.7 273.5 600.7 274.0 600.7 274.5 600.7 275.0 600.7 275.5 600.7 276.0 600.7 276.5 600.7 277.0 600.7 277.5 600.7 278.0 600.7 278.5 600.7 279.0 600.7 279.5 600.7 280.0 600.7 280.5 600.7 281.0 600.7 281.5 600.7 282.0 600.7 282.5 600.7 283.0 600.7 283.5 600.7 284.0 600.7 284.5 600.7 285.0 600.7 285.5 600.7 286.0 600.7 286.5 600.7 287.0 600.7 287.5 600.7 288.0 600.7 288.5 600.7 289.0 600.7 289.5 600.7 290.0 600.7 290.5 600.7 291.0 600.7 291.5 600.7 292.0 600.7 292.5 600.7 293.0 600.7 293.5 600.7 294.0 600.7 294.5 600.7 295.0 600.7 295.5 600.7 296.0 600.7 296.5 600.7 297.0 600.7 297.5 600.7 298.0 600.7 298.5 600.7 299.0 600.7 299.5 600.7 300.0 600.7 300.5 600.7 301.0 600.7 301.5 600.7 302.0 600.7 302.5 600.7 303.0 600.7 303.5 600.7 304.0 600.7 304.5 600.7 305.0 600.7 305.5 600.7 306.0 600.7 306.5 600.7 307.0 600.7 307.5 600.7 308.0 600.7 308.5 600.7 309.0 600.7 309.5 600.7 310.0 600.7 310.5 600.7 311.0 600.7 311.5 600.7 312.0 600.7 312.5 600.7 313.0 600.7 313.5 600.7 314.0 600.7 314.5 600.7 315.0 600.7 315.5 600.7 316.0 600.7 316.5 600.7 317.0 600.7 317.5 600.7 318.0 600.7 318.5 600.7 319.0 600.7 319.5 600.7 320.0 600.7 320.5 600.7 321.0 600.7 321.5 600.7 322.0 600.7 322.5 600.7 323.0 600.7 323.5 600.7 324.0 600.7 324.5 600.7 325.0 600.7 325.5 600.7 326.0 600.7 326.5 600.7 327.0 600.7 327.5 600.7 328.0 600.7 328.5 600.7 329.0 600.7 329.5 600.7 330.0 600.7 330.5 600.7 331.0 600.7 331.5 600.7 332.0 600.7 332.5 600.7 333.0 600.7 333.5 600.7 334.0 600.7 334.5 600.7 335.0 600.7 335.5 600.7 336.0 600.7 336.5 600.7 337.0 600.7 337.5 600.7 338.0 600.7 338.5 600.7 339.0 600.7 339.5 600.7 340.0 600.7 340.5 600.7 341.0 600.7 341.5 600.7 342.0 600.7 342.5 600.7 343.0 600.7 343.5 600.7 344.0 600.7 344.5 600.7 345.0 600.7 345.5 600.7 346.0 600.7 346.5 600.7 347.0 600.7 347.5 600.7 348.0 600.7 348.5 600.7 349.0 600.7 349.5 600.7 350.0 600.7 350.5 600.7 351.0 600.7 351.5 600.7 352.0 600.7 352.5 600.7 353.0 600.7 353.5 600.7 354.0 600.7 354.5 600.7 355.0 600.7 355.5 600.7 356.0 600.7 356.5 600.7 357.0 600.7 357.5 600.7 358.0 600.7 358.5 600.7 359.0 600.7 359.5 600.7 360.0 600.7 360.5 600.7 361.0 600.7 361.5 600.7 362.0 600.7 362.5 600.7 363.0 600.7 363.5 600.7 364.0 600.7 364.5 600.7 365.0 600.7 365.5 600.7 366.0 600.7 366.5 600.7 367.0 600.7 367.5 600.7 368.0 600.7 368.5 600.7 369.0 600.7 369.5 600.7 370.0 600.7 370.5 600.7 371.0 600.7 371.5 600.7 372.0 600.7 372.5 600.7 373.0 600.7 373.5 600.7 374.0 600.7 374.5 600.7 375.0 600.7 375.5 600.7 376.0 600.7 376.5 600.7 377.0 600.7 377.5 600.7 378.0 600.7 378.5 600.7 379.0 600.7 379.5 600.7 380.0 600.7 380.5 600.7 381.0 600.7 381.5 600.7 382.0 600.7 382.5 600.7 383.0 600.7 383.5 600.7 384.0 600.7 384.5 600.7 385.0 600.7 385.5 600.7 386.0 600.7 386.5 600.7 387.0 600.7 387.5 600.7 388.0 600.7 388.5 600.7 389.0 600.7 389.5 600.7 390.0 600.7 390.5 600.7 391.0 600.7 391.5 600.7 392.0 600.7 392.5 600.7 393.0 600.7 393.5 600.7 394.0 600.7 394.5 600.7 395.0 600.7 395.5 600.7 396.0 600.7 396.5 600.7 397.0 600.7 397.5 600.7 398.0 600.7 398.5 600.7 399.0 600.7 399.5 600.7 400.0 600.7 400.5 600.7 401.0 600.7 401.5 600.7 402.0 600.7 402.5 600.7 403.0 600.7 403.5 600.7 404.0 600.7 404.5 600.7 405.0 600.7 405.5 600.7 406.0 600.7 406.5 600.7 407.0 600.7 407.5 600.7 408.0 600.7 408.5 600.7 409.0 600.7 409.5 600.7 410.0 600.7 410.5 600.7 411.0 600.7 411.5 600.7 412.0 600.7 412.5 600.7 413.0 600.7 413.5 600.7 414.0 600.7 414.5 600.7 415.0 600.7 415.5 600.7 416.0 600.7 416.5 600.7 417.0 600.7 417.5 600.7 418.0 600.7 418.5 600.7 419.0 600.7 419.5 600.7 420.0 600.7 420.5 600.7 421.0 600.7 421.5 600.7 422.0 600.7 422.5 600.7 423.0 600.7 423.5 600.7 424.0 600.7 424.5 600.7 425.0 600.7 425.5 600.7 426.0 600.7 426.5 600.7 427.0 600.7 427.5 600.7 428.0 600.7 428.5 600.7 429.0 600.7 429.5 600.7 430.0 600.7 430.5 600.7 431.0 600.7 431.5 600.7 432.0 600.7 432.5 600.7 433.0 600.7 433.5 600.7 434.0 600.7 434.5 600.7 435.0 600.7 435.5 600.7 436.0 600.7 436.5 600.7 437.0 600.7 437.5 600.7 438.0 600.7 438.5 600.7 439.0 600.7 439.5 600.7 440.0 600.7 440.5 600.7 441.0 600.7 441.5 600.7 442.0 600.7 442.5 600.7 443.0 600.7 443.5 600.7 444.0 600.7 444.5 600.7 445.0 600.7 445.5 600.7 446.0 600.7 446.5 600.7 447.0 600.7 447.5 600.7 448.0 600.7 448.5 600.7 449.0 600.7 449.5 600.7 450.0 600.7 450.5 600.7 451.0 600.7 451.5 600.7 452.0 600.7 452.5 600.7 453.0 600.7 453.5 600.7 454.0 600.7 454.5 600.7 455.0 600.7 455.5 600.7 456.0 600.7 456.5 600.7 457.0 600.7 457.5 600.7 458.0 600.7 458.5 600.7 459.0 600.7 459.5 600.7 460.0 600.7 460.5 600.7 461.0 600.7 461.5 600.7 462.0 600.7 462.5 600.7 463.0 600.7 463.5 600.7 464.0 600.7 464.5 600.7 465.0 600.7 465.5 600.7 466.0 600.7 466.5 600.7 467.0 600.7 467.5 600.7 468.0 600.7 468.5 600.7 469.0 600.7 469.5 600.7 470.0 600.7 470.5 600.7 471.0 600.7 471.5 600.7 472.0 600.7 472.5 600.7 473.0 600.7 473.5 600.7 474.0 600.7 474.5 600.7 475.0 600.7 475.5 600.7 476.0 600.7 476.5 600.7 477.0 600.7 477.5 600.7 478.0 600.7 478.5 600.7 479.0 600.7 479.5 600.7 480.0 600.7 480.5 600.7 481.0 600.7 481.5 600.7 482.0 600.7 482.5 600.7 483.0 600.7 483.5 600.7 484.0 600.7 484.5 600.7 485.0 600.7 485.5 600.7 486.0 600.7 486.5 600.7 487.0 600.7 487.5 600.7 488.0 600.7 488.5 600.7 489.0 600.7 489.5 600.7 490.0 600.7 490.5 600.7 491.0 600.7 491.5 600.7 492.0 600.7 492.5 600.7 493.0 600.7 493.5 600.7 494.0 600.7 494.5 600.7 495.0 600.7 495.5 600.7 496.0 600.7 496.5 600.7 497.0 600.7 497.5 600.7 498.0 600.7 498.5 600.7 499.0 600.7 499.5 600.7 500.0 600.7 500.5 600.7 501.0 600.7 501.5 600.7 502.0 600.7 502.5 600.7 503.0 600.7 503.5 600.7 504.0 600.7 504.5 600.7 505.0 600.7 505.5 600.7 506.0 600.7 506.5 600.7 507.0 600.7 507.5 600.7 508.0 600.7 508.5 600.7 509.0 600.7 509.5 600.7 510.0 600.7 510.5 600.7 511.0 600.7 511.5 600.7 512.0 600.7 512.5 600.7 513.0 600.7 513.5 600.7 514.0 600.7 514.5 600.7 515.0 600.7 515.5 600.7 516.0 600.7 516.5 600.7 517.0 600.7 517.5 600.7 518.0 600.7 518.5 600.7 519.0 600.7 519.5 600.7 520.0 600.7 520.5 600.7 521.0 600.7 521.5 600.7 522.0 600.7 522.5 600.7 523.0 600.7 523.5 600.7 524.0 600.7 524.5 600.7 525.0 600.7 525.5 600.7 526.0 600.7 526.5 600.7 527.0 600.7 527.5 600.7 528.0 600.7 528.5 600.7 529.0 600.7 529.5 600.7 530.0 600.7 530.5 600.7 531.0 600.7 531.5 600.7 532.0 600.7 532.5 600.7 533.0 600.7 533.5 600.7 534.0 600.7 534.5 600.7 535.0 600.7 535.5 600.7 536.0 600.7 536.5 600.7 537.0 600.7 537.5 600.7 538.0 600.7 538.5 600.7 539.0 600.7 539.5 600.7 540.0 600.7 540.5 600.7 541.0 600.7 541.5 600.7 542.0 600.7 542.5 600.7 543.0 600.7 543.5 600.7 544.0 600.7 544.5 600.7 545.0 600.7 545.5 600.7 546.0 600.7 546.5 600.7 547.0 600.7 547.5 600.7 548.0 600.7 548.5 600.7 549.0 600.7 549.5 600.7 550.0 600.7 550.5 600.7 551.0 600.7 551.5 600.7 552.0 600.7 552.5 600.7 553.0 600.7 553.5 600.7 554.0 600.7 554.5 600.7 555.0 600.7 555.5 600.7 556.0 600.7 556.5 600.7 557.0 600.7 557.5 600.7 558.0 600.7 558.5 600.7 559.0 600.7 559.5 600.7 560.0 600.7 560.5 600.7 561.0 600.7 561.5 600.7 562.0 600.7 562.5 600.7 563.0 600.7 563.5 600.7 564.0 600.7 564.5 600.7 565.0 600.7 565.5 600.7 566.0 600.7 566.5 600.7 567.0 600.7 567.5 600.7 568.0 600.7 568.5 600.7 569.0 600.7 569.5 600.7 570.0 600.7 570.5 600.7 571.0 600.7 571.5 600.7 572.0 600.7 572.5 600.7 573.0 600.7 573.5 600.7 574.0 600.7 574.5 600.7 575.0 600.7 575.5 600.7 576.0 600.7 576.5 600.7 577.0 600.7 577.5 600.7 578.0 600.7 578.5 600.7 579.0 600.7 579.5 600.7 580.0 600.7 580.5 600.7 581.0 600.7 581.5 600.7 582.0 600.7 582.5 600.7 583.0 600.7 583.5 600.7 584.0 600.7 584.5 600.7 585.0 600.7 585.5 600.7 586.0 600.7 586.5 600.7 587.0 600.7 587.5 600.7 588.0 600.7 588.5 600.7 589.0 600.7 589.5 600.7 590.0 600.7 590.5 600.7 591.0 600.7 591.5 600.7 592.0 600.7 592.5 600.7 593.0 600.7 593.5 600.7 594.0 600.7 594.5 600.7 595.0 600.7 595.5 600.7 596.0 600.7 596.5 600.7 597.0 600.7 597.5 600.7 598.0 600.7 598.5 600.7 599.0 600.7 599.5 600.7 600.0 600.7 600.5 600.7 601.0 600.7 601.5 600.7 602.0 600.7 602.5 600.7 603.0 600.7 603.5 600.7 604.0 600.7 604.5 600.7 605.0 600.7 605.5 600.7 606.0 600.7 606.5 600.7 607.0 600.7 607.5 600.7 608.0 600.7 608.5 600.7 609.0 600.7 609.5 600.7 610.0 600.7 610.5 600.7 611.0 600.7 611.5 600.7 612.0 600.7 612.5 600.7 613.0 600.7 613.5 600.7 614.0 600.7 614.5 600.7 615.0 600.7 615.5 600.7 616.0 600.7 616.5 600.7 617.0 600.7 617.5 600.7 618.0 600.7 618.5 600.7 619.0 600.7 619.5 600.7 620.0 600.7 620.5 600.7 621.0 600.7 621.5 600.7 622.0 600.7 622.5 600.7 623.0 600.7 623.5 600.7 624.0 600.7 624.5 600.7 625.0 600.7 625.5 600.7 626.0 600.7 626.5 600.7 627.0 600.7 627.5 600.7 628.0 600.7 628.5 600.7 629.0 600.7 629.5 600.7 630.0 600.7 630.5 600.7 631.0 600.7 631.5 600.7 632.0 600.7 632.5 600.7 633.0 600.7 633.5 600.7 634.0 600.7 634.5 600.7 635.0 600.7 635.5 600.7 636.0 600.7 636.5 600.7 637.0 600.7 637.5 600.7 638.0 600.7 638.5 600.7 639.0 600.7 639.5 600.7 640.0 600.7 640.5 600.7 641.0 600.7 641.5 600.7 642.0 600.7 642.5 600.7 643.0 600.7 643.5 600.7 644.0 600.7 644.5 600.7 645.0 600.7 645.5 600.7 646.0 600.7 646.5 600.7 647.0 600.7 647.5 600.7 648.0 600.7 648.5 600.7 649.0 600.7 649.5 600.7 650.0 600.7 650.5 600.7 651.0 600.7 651.5 600.7 652.0 600.7 652.5 600.7 653.0 600.7 653.5 600.7 654.0 600.7 654.5 600.7 655.0 600.7 655.5 600.7 656.0 600.7 656.5 600.7 657.0 600.7 657.5 600.7 658.0 600.7 658.5 600.7 659.0 600.7 659.5 600.7 660.0 600.7 660.5 600.7 661.0 600.7 661.5 600.7 662.0 600.7 662.5 600.7 663.0 600.7 663.5 600.7 664.0 600.7 664.5 600.7 665.0 600.7 665.5 600.7 666.0 600.7 666.5 600.7 667.0 600.7 667.5 600.7 668.0 600.7 668.5 600.7 669.0 600.7 669.5 600.7 670.0 600.7 670.5 600.7 671.0 600.7 671.5 600.7 672.0 600.7 672.5 600.7 673.0 600.7 673.5 600.7 674.0 600.7 674.5 600.7 675.0 600.7 675.5 600.7 676.0 600.7 676.5 600.7 677.0 600.7 677.5 600.7 678.0 600.7 678.5 600.7 679.0 600.7 679.5 600.7 680.0 600.7 680.5 600.7 681.0 600.7 681.5 600.7 682.0 600.7 682.5 600.7 683.0 600.7 683.5 600.7 684.0 600.7 684.5 600.7 685.0 600.7 685.5 600.7 686.0 600.7 686.5 600.7 687.0 600.7 687.5 600.7 688.0 600.7 688.5 600.7 689.0 600.7 689.5 600.7 690.0 600.7 690.5 600.7 691.0 600.7 691.5 600.7 692.0 600.7 692.5 600.7 693.0 600.7 693.5 600.7 694.0 600.7 694.5 600.7 695.0 600.7 695.5 600.7 696.0 600.7 696.5 600.7 697.0 600.7 697.5 600.7 698.0 600.7 698.5 600.7 699.0 600.7 699.5 600.7 700.0 600.7 700.5 600.7 701.0 600.7 701.5 600.7 702.0 600.7 702.5 600.7 703.0 600.7 703.5 600.7 704.0 600.7 704.5 600.7 705.0 600.7 705.5 600.7 706.0 600.7 706.5 600.7 707.0 600.7 707.5 600.7 708.0 600.7 708.5 600.7 709.0 600.7 709.5 600.7 710.0 600.7 710.5 600.7 711.0 600.7 711.5 600.7 712.0 600.7 712.5 600.7 713.0 600.7 713.5 600.7 714.0 600.7 714.5 600.7 715.0 600.7 715.5 600.7 716.0 600.7 716.5 600.7 717.0 600.7 717.5 600.7 718.0 600.7 718.5 600.7 719.0 600.7 719.5 600.7 720.0 600.7 720.5 600.7 721.0 600.7 721.5 600.7 722.0 600.7 722.5 600.7 723.0 600.7 723.5 600.7 724.0 600.7 724.5 600.7 725.0 600.7 725.5 600.7 726.0 600.7 726.5 600.7 727.0 600.7 727.5 600.7 728.0 600.7 728.5 600.7 729.0 600.7 729.5 600.7 730.0 600.7 730.5 600.7 731.0 600.7 731.5 600.7 732.0 600.7 732.5 600.7 733.0 600.7 733.5 600.7 734.0 600.7 734.5 600.7 735.0 600.7 735.5 600.7 736.0 600.7 736.5 600.7 737.0 600.7 737.5 600.7 738.0 600.7 738.5 600.7 739.0 600.7 739.5 600.7 740.0 600.7 740.5 600.7 741.0 600.7 741.5 600.7 742.0 600.7 742.5 600.7 743.0 600.7 743.5 600.7 744.0 600.7 744.5 600.7 745.0 600.7 745.5 600.7 746.0 600.7 746.5 600.7 747.0 600.7 747.5 600.7 748.0 600.7 748.5 600.7 749.0 600.7 749.5 600.7 750.0 600.7 750.5 600.7 751.0 600.7 751.5 600.7 752.0 600.7 752.5 600.7 753.0 600.7 753.5 600.7 754.0 600.7 754.5 600.7 755.0 600.7 755.5 600.7 756.0 600.7 756.5 600.7 757.0 600.7 757.5 600.7 758.0 600.7 758.5 600.7 759.0 600.7 759.5 600.7 760.0 600.7 760.5 600.7 761.0 600.7 761.5 600.7 762.0 600.7 762.5 600.7 763.0 600.7 763.5 600.7 764.0 600.7 764.5 600.7 765.0 600.7 765.5 600.7 766.0 600.7 766.5 600.7 767.0 600.7 767.5 600.7 768.0 600.7 768.5 600.7 769.0 600.7 769.5 600.7 770.0 600.7 770.5 600.7 771.0 600.7 771.5 600.7 772.0 600.7 772.5 600.7 773.0 600.7 773.5 600.7 774.0 600.7 774.5 600.7 775.0 600.7 775.5 600.7 776.0 600.7 776.5 600.7 777.0 600.7 777.5 600.7 778.0 600.7 778.5 600.7 779.0 600.7 779.5 600.7 780.0 600.7 780.5 600.7 781.0 600.7 781.5 600.7 782.0 600.7 782.5 600.7 783.0 600.7 783.5 600.7 784.0 600.7 784.5 600.7 785.0 600.7 785.5 600.7 786.0 600.7 786.5 600.7 787.0 600.7 787.5 600.7 788.0 600.7 788.5 600.7 789.0 600.7 789.5 600.7 790.0 600.7 790.5 600.7 791.0 600.7 791.5 600.7 792.0 600.7 792.5 600.7 793.0 600.7 793.5 600.7 794.0 600.7 794.5 600.7 795.0 600.7 795.5 600.7 796.0 600.7 796.5 600.7 797.0 600.7 797.5 600.7 798.0 600.7 798.5 600.7 799.0 600.7 799.5 600.7 800.0 600.7 800.5 600.7 801.0 600.7 801.5 600.7 802.0 600.7 802.5 600.7 803.0 600.7 803.5 600.7 804.0 600.7 804.5 600.7 805.0 600.7 805.5 600.7 806.0 600.7 806.5 600.7 807.0 600.7 807.5 600.7 808.0 600.7 808.5 600.7 809.0 600.7 809.5 600.7 810.0 600.7 810.5 600.7 811.0 600.7 811.5 600.7 812.0 600.7 812.5 600.7 813.0 600.7 813.5 600.7 814.0 600.7 814.5 600.7 815.0 600.7 815.5 600.7 816.0 600.7 816.5 600.7 817.0 600.7 817.5 600.7 818.0 600.7 818.5 600.7 819.0 600.7 819.5 600.7 820.0 600.7 820.5 600.7 821.0 600.7 821.5 600.7 822.0 600.7 822.5 600.7 823.0 600.7 823.5 600.7 824.0 600.7 824.5 600.7 825.0 600.7 825.5 600.7 826.0 600.7 826.5 600.7 827.0 600.7 827.5 600.7 828.0 600.7 828.5 600.7 829.0 600.7 829.5 600.7 830.0 600.7 830.5 600.7 831.0 600.7 831.5 600.7 832.0 600.7 832.5 600.7 833.0 600.7 833.5 600.7 834.0 600.7 834.5 600.7 835.0 600.7 835.5 600.7 836.0 600.7 836.5 600.7 837.0 600.7 837.5 600.7 838.0 600.7 838.5 600.7 839.0 600.7 839.5 600.7 840.0 600.7 840.5 600.7 841.0 600.7 841.5 600.7 842.0 600.7 842.5 600.7 843.0 600.7 843.5 600.7 844.0 600.7 844.5 600.7 845.0 600.7 845.5 600.7 846.0 600.7 846.5 600.7 847.0 600.7 847.5 600.7 848.0 600.7 848.5 600.7 849.0 600.7 849.5 600.7 850.0 600.7 850.5 600.7 851.0 600.7 851.5 600.7 852.0 600.7 852.5 600.7 853.0 600.7 853.5 600.7 854.0 600.7 854.5 600.7 855.0 600.7 855.5 600.7 856.0 600.7 856.5 600.7 857.0 600.7 857.5 600.7 858.0 600.7 858.5 600.7 859.0 600.7 859.5 600.7 860.0 600.7 860.5 600.7 861.0 600.7 861.5 600.7 862.0 600.7 862.5 600.7 863.0 600.7 863.5 600.7 864.0 600.7 864.5 600.7 864.8 600.7" fill="none" stroke="#1f77b4" stroke-width="2.0833" stroke-linecap="square" stroke-linejoin="round"/>
<path d="M125.5 659.5V542.5M900.5 659.5V542.5M125.5 659.5H900.5M125.5 542.5H900.5M202.5 659.5v4.86M285.5 659.5v4.86M367.5 659.5v4.86M450.5 659.5v4.86M533.5 659.5v4.86M616.5 659.5v4.86M699.5 659.5v4.86M782.5 659.5v4.86M865.5 659.5v4.86M125.5 631.5h-4.86M125.5 586.5h-4.86" fill="none" stroke="#000" stroke-width="1.1111" stroke-linecap="square"/>
<g style="will-change:opacity" opacity="0.999"><text transform="translate(169.59 696.77) rotate(-30)" style="font-size:13.889px">2020</text><text transform="translate(252.51 696.76) rotate(-30)" style="font-size:13.889px">2030</text><text transform="translate(335.55 696.72) rotate(-30)" style="font-size:13.889px">2040</text><text transform="translate(418.38 696.69) rotate(-30)" style="font-size:13.889px">2050</text><text transform="translate(500.63 696.72) rotate(-30)" style="font-size:13.889px">2060</text><text transform="translate(583.38 696.68) rotate(-30)" style="font-size:13.889px">2070</text><text transform="translate(666.56 696.68) rotate(-30)" style="font-size:13.889px">2080</text><text transform="translate(749.63 696.73) rotate(-30)" style="font-size:13.889px">2090</text><text transform="translate(832.64 696.65) rotate(-30)" style="font-size:13.889px">2100</text><text x="114.71" y="636.56" style="font-size:13.889px;text-anchor:end">460000</text><text x="114.88" y="591.51" style="font-size:13.889px;text-anchor:end">480000</text><text x="53.62" y="603.41" transform="rotate(-90 53.62 603.41)" style="font-size:13.889px;text-anchor:middle">nummasked</text></g>
<rect x="125" y="683" width="775" height="117" fill="#fff"/>
<clipPath id="c4"><rect x="125.00" y="682.76" width="775.00" height="117.24"/></clipPath>
<path clip-path="url(#c4)" d="M160.2 741.4L160.5 741.4 161.0 741.4 161.5 741.4 162.0 741.4 162.5 741.4 163.0 741.4 163.5 741.4 164.0 741.4 164.5 741.4 165.0 741.4 165.5 741.4 166.0 741.4 166.5 741.4 167.0 741.4 167.5 741.4 168.0 741.4 168.5 741.4 169.0 741.4 169.5 741.4 170.0 741.4 170.5 741.4 171.0 741.4 171.5 741.4 172.0 741.4 172.5 741.4 173.0 741.4 173.5 741.4 174.0 741.4 174.5 741.4 175.0 741.4 175.5 741.4 176.0 741.4 176.5 741.4 177.0 741.4 177.5 741.4 178.0 741.4 178.5 741.4 179.0 741.4 179.5 741.4 180.0 741.4 180.5 741.4 181.0 741.4 181.5 741.4 182.0 741.4 182.5 741.4 183.0 741.4 183.5 741.4 184.0 741.4 184.5 741.4 185.0 741.4 185.5 741.4 186.0 741.4 186.5 741.4 187.0 741.4 187.5 741.4 188.0 741.4 188.5 741.4 189.0 741.4 189.5 741.4 190.0 741.4 190.5 741.4 191.0 741.4 191.5 741.4 192.0 741.4 192.5 741.4 193.0 741.4 193.5 741.4 194.0 741.4 194.5 741.4 195.0 741.4 195.5 741.4 196.0 741.4 196.5 741.4 197.0 741.4 197.5 741.4 198.0 741.4 198.5 741.4 199.0 741.4 199.5 741.4 200.0 741.4 200.5 741.4 201.0 741.4 201.5 741.4 202.0 741.4 202.5 741.4 203.0 741.4 203.5 741.4 204.0 741.4 204.5 741.4 205.0 741.4 205.5 741.4 206.0 741.4 206.5 741.4 207.0 741.4 207.5 741.4 208.0 741.4 208.5 741.4 209.0 741.4 209.5 741.4 210.0 741.4 210.5 741.4 211.0 741.4 211.5 741.4 212.0 741.4 212.5 741.4 213.0 741.4 213.5 741.4 214.0 741.4 214.5 741.4 215.0 741.4 215.5 741.4 216.0 741.4 216.5 741.4 217.0 741.4 217.5 741.4 218.0 741.4 218.5 741.4 219.0 741.4 219.5 741.4 220.0 741.4 220.5 741.4 221.0 741.4 221.5 741.4 222.0 741.4 222.5 741.4 223.0 741.4 223.5 741.4 224.0 741.4 224.5 741.4 225.0 741.4 225.5 741.4 226.0 741.4 226.5 741.4 227.0 741.4 227.5 741.4 228.0 741.4 228.5 741.4 229.0 741.4 229.5 741.4 230.0 741.4 230.5 741.4 231.0 741.4 231.5 741.4 232.0 741.4 232.5 741.4 233.0 741.4 233.5 741.4 234.0 741.4 234.5 741.4 235.0 741.4 235.5 741.4 236.0 741.4 236.5 741.4 237.0 741.4 237.5 741.4 238.0 741.4 238.5 741.4 239.0 741.4 239.5 741.4 240.0 741.4 240.5 741.4 241.0 741.4 241.5 741.4 242.0 741.4 242.5 741.4 243.0 741.4 243.5 741.4 244.0 741.4 244.5 741.4 245.0 741.4 245.5 741.4 246.0 741.4 246.5 741.4 247.0 741.4 247.5 741.4 248.0 741.4 248.5 741.4 249.0 741.4 249.5 741.4 250.0 741.4 250.5 741.4 251.0 741.4 251.5 741.4 252.0 741.4 252.5 741.4 253.0 741.4 253.5 741.4 254.0 741.4 254.5 741.4 255.0 741.4 255.5 741.4 256.0 741.4 256.5 741.4 257.0 741.4 257.5 741.4 258.0 741.4 258.5 741.4 259.0 741.4 259.5 741.4 260.0 741.4 260.5 741.4 261.0 741.4 261.5 741.4 262.0 741.4 262.5 741.4 263.0 741.4 263.5 741.4 264.0 741.4 264.5 741.4 265.0 741.4 265.5 741.4 266.0 741.4 266.5 741.4 267.0 741.4 267.5 741.4 268.0 741.4 268.5 741.4 269.0 741.4 269.5 741.4 270.0 741.4 270.5 741.4 271.0 741.4 271.5 741.4 272.0 741.4 272.5 741.4 273.0 741.4 273.5 741.4 274.0 741.4 274.5 741.4 275.0 741.4 275.5 741.4 276.0 741.4 276.5 741.4 277.0 741.4 277.5 741.4 278.0 741.4 278.5 741.4 279.0 741.4 279.5 741.4 280.0 741.4 280.5 741.4 281.0 741.4 281.5 741.4 282.0 741.4 282.5 741.4 283.0 741.4 283.5 741.4 284.0 741.4 284.5 741.4 285.0 741.4 285.5 741.4 286.0 741.4 286.5 741.4 287.0 741.4 287.5 741.4 288.0 741.4 288.5 741.4 289.0 741.4 289.5 741.4 290.0 741.4 290.5 741.4 291.0 741.4 291.5 741.4 292.0 741.4 292.5 741.4 293.0 741.4 293.5 741.4 294.0 741.4 294.5 741.4 295.0 741.4 295.5 741.4 296.0 741.4 296.5 741.4 297.0 741.4 297.5 741.4 298.0 741.4 298.5 741.4 299.0 741.4 299.5 741.4 300.0 741.4 300.5 741.4 301.0 741.4 301.5 741.4 302.0 741.4 302.5 741.4 303.0 741.4 303.5 741.4 304.0 741.4 304.5 741.4 305.0 741.4 305.5 741.4 306.0 741.4 306.5 741.4 307.0 741.4 307.5 741.4 308.0 741.4 308.5 741.4 309.0 741.4 309.5 741.4 310.0 741.4 310.5 741.4 311.0 741.4 311.5 741.4 312.0 741.4 312.5 741.4 313.0 741.4 313.5 741.4 314.0 741.4 314.5 741.4 315.0 741.4 315.5 741.4 316.0 741.4 316.5 741.4 317.0 741.4 317.5 741.4 318.0 741.4 318.5 741.4 319.0 741.4 319.5 741.4 320.0 741.4 320.5 741.4 321.0 741.4 321.5 741.4 322.0 741.4 322.5 741.4 323.0 741.4 323.5 741.4 324.0 741.4 324.5 741.4 325.0 741.4 325.5 741.4 326.0 741.4 326.5 741.4 327.0 741.4 327.5 741.4 328.0 741.4 328.5 741.4 329.0 741.4 329.5 741.4 330.0 741.4 330.5 741.4 331.0 741.4 331.5 741.4 332.0 741.4 332.5 741.4 333.0 741.4 333.5 741.4 334.0 741.4 334.5 741.4 335.0 741.4 335.5 741.4 336.0 741.4 336.5 741.4 337.0 741.4 337.5 741.4 338.0 741.4 338.5 741.4 339.0 741.4 339.5 741.4 340.0 741.4 340.5 741.4 341.0 741.4 341.5 741.4 342.0 741.4 342.5 741.4 343.0 741.4 343.5 741.4 344.0 741.4 344.5 741.4 345.0 741.4 345.5 741.4 346.0 741.4 346.5 741.4 347.0 741.4 347.5 741.4 348.0 741.4 348.5 741.4 349.0 741.4 349.5 741.4 350.0 741.4 350.5 741.4 351.0 741.4 351.5 741.4 352.0 741.4 352.5 741.4 353.0 741.4 353.5 741.4 354.0 741.4 354.5 741.4 355.0 741.4 355.5 741.4 356.0 741.4 356.5 741.4 357.0 741.4 357.5 741.4 358.0 741.4 358.5 741.4 359.0 741.4 359.5 741.4 360.0 741.4 360.5 741.4 361.0 741.4 361.5 741.4 362.0 741.4 362.5 741.4 363.0 741.4 363.5 741.4 364.0 741.4 364.5 741.4 365.0 741.4 365.5 741.4 366.0 741.4 366.5 741.4 367.0 741.4 367.5 741.4 368.0 741.4 368.5 741.4 369.0 741.4 369.5 741.4 370.0 741.4 370.5 741.4 371.0 741.4 371.5 741.4 372.0 741.4 372.5 741.4 373.0 741.4 373.5 741.4 374.0 741.4 374.5 741.4 375.0 741.4 375.5 741.4 376.0 741.4 376.5 741.4 377.0 741.4 377.5 741.4 378.0 741.4 378.5 741.4 379.0 741.4 379.5 741.4 380.0 741.4 380.5 741.4 381.0 741.4 381.5 741.4 382.0 741.4 382.5 741.4 383.0 741.4 383.5 741.4 384.0 741.4 384.5 741.4 385.0 741.4 385.5 741.4 386.0 741.4 386.5 741.4 387.0 741.4 387.5 741.4 388.0 741.4 388.5 741.4 389.0 741.4 389.5 741.4 390.0 741.4 390.5 741.4 391.0 741.4 391.5 741.4 392.0 741.4 392.5 741.4 393.0 741.4 393.5 741.4 394.0 741.4 394.5 741.4 395.0 741.4 395.5 741.4 396.0 741.4 396.5 741.4 397.0 741.4 397.5 741.4 398.0 741.4 398.5 741.4 399.0 741.4 399.5 741.4 400.0 741.4 400.5 741.4 401.0 741.4 401.5 741.4 402.0 741.4 402.5 741.4 403.0 741.4 403.5 741.4 404.0 741.4 404.5 741.4 405.0 741.4 405.5 741.4 406.0 741.4 406.5 741.4 407.0 741.4 407.5 741.4 408.0 741.4 408.5 741.4 409.0 741.4 409.5 741.4 410.0 741.4 410.5 741.4 411.0 741.4 411.5 741.4 412.0 741.4 412.5 741.4 413.0 741.4 413.5 741.4 414.0 741.4 414.5 741.4 415.0 741.4 415.5 741.4 416.0 741.4 416.5 741.4 417.0 741.4 417.5 741.4 418.0 741.4 418.5 741.4 419.0 741.4 419.5 741.4 420.0 741.4 420.5 741.4 421.0 741.4 421.5 741.4 422.0 741.4 422.5 741.4 423.0 741.4 423.5 741.4 424.0 741.4 424.5 741.4 425.0 741.4 425.5 741.4 426.0 741.4 426.5 741.4 427.0 741.4 427.5 741.4 428.0 741.4 428.5 741.4 429.0 741.4 429.5 741.4 430.0 741.4 430.5 741.4 431.0 741.4 431.5 741.4 432.0 741.4 432.5 741.4 433.0 741.4 433.5 741.4 434.0 741.4 434.5 741.4 435.0 741.4 435.5 741.4 436.0 741.4 436.5 741.4 437.0 741.4 437.5 741.4 438.0 741.4 438.5 741.4 439.0 741.4 439.5 741.4 440.0 741.4 440.5 741.4 441.0 741.4 441.5 741.4 442.0 741.4 442.5 741.4 443.0 741.4 443.5 741.4 444.0 741.4 444.5 741.4 445.0 741.4 445.5 741.4 446.0 741.4 446.5 741.4 447.0 741.4 447.5 741.4 448.0 741.4 448.5 741.4 449.0 741.4 449.5 741.4 450.0 741.4 450.5 741.4 451.0 741.4 451.5 741.4 452.0 741.4 452.5 741.4 453.0 741.4 453.5 741.4 454.0 741.4 454.5 741.4 455.0 741.4 455.5 741.4 456.0 741.4 456.5 741.4 457.0 741.4 457.5 741.4 458.0 741.4 458.5 741.4 459.0 741.4 459.5 741.4 460.0 741.4 460.5 741.4 461.0 741.4 461.5 741.4 462.0 741.4 462.5 741.4 463.0 741.4 463.5 741.4 464.0 741.4 464.5 741.4 465.0 741.4 465.5 741.4 466.0 741.4 466.5 741.4 467.0 741.4 467.5 741.4 468.0 741.4 468.5 741.4 469.0 741.4 469.5 741.4 470.0 741.4 470.5 741.4 471.0 741.4 471.5 741.4 472.0 741.4 472.5 741.4 473.0 741.4 473.5 741.4 474.0 741.4 474.5 741.4 475.0 741.4 475.5 741.4 476.0 741.4 476.5 741.4 477.0 741.4 477.5 741.4 478.0 741.4 478.5 741.4 479.0 741.4 479.5 741.4 480.0 741.4 480.5 741.4 481.0 741.4 481.5 741.4 482.0 741.4 482.5 741.4 483.0 741.4 483.5 741.4 484.0 741.4 484.5 741.4 485.0 741.4 485.5 741.4 486.0 741.4 486.5 741.4 487.0 741.4 487.5 741.4 488.0 741.4 488.5 741.4 489.0 741.4 489.5 741.4 490.0 741.4 490.5 741.4 491.0 741.4 491.5 741.4 492.0 741.4 492.5 741.4 493.0 741.4 493.5 741.4 494.0 741.4 494.5 741.4 495.0 741.4 495.5 741.4 496.0 741.4 496.5 741.4 497.0 741.4 497.5 741.4 498.0 741.4 498.5 741.4 499.0 741.4 499.5 741.4 500.0 741.4 500.5 741.4 501.0 741.4 501.5 741.4 502.0 741.4 502.5 741.4 503.0 741.4 503.5 741.4 504.0 741.4 504.5 741.4 505.0 741.4 505.5 741.4 506.0 741.4 506.5 741.4 507.0 741.4 507.5 741.4 508.0 741.4 508.5 741.4 509.0 741.4 509.5 741.4 510.0 741.4 510.5 741.4 511.0 741.4 511.5 741.4 512.0 741.4 512.5 741.4 513.0 741.4 513.5 741.4 514.0 741.4 514.5 741.4 515.0 741.4 515.5 741.4 516.0 741.4 516.5 741.4 517.0 741.4 517.5 741.4 518.0 741.4 518.5 741.4 519.0 741.4 519.5 741.4 520.0 741.4 520.5 741.4 521.0 741.4 521.5 741.4 522.0 741.4 522.5 741.4 523.0 741.4 523.5 741.4 524.0 741.4 524.5 741.4 525.0 741.4 525.5 741.4 526.0 741.4 526.5 741.4 527.0 741.4 527.5 741.4 528.0 741.4 528.5 741.4 529.0 741.4 529.5 741.4 530.0 741.4 530.5 741.4 531.0 741.4 531.5 741.4 532.0 741.4 532.5 741.4 533.0 741.4 533.5 741.4 534.0 741.4 534.5 741.4 535.0 741.4 535.5 741.4 536.0 741.4 536.5 741.4 537.0 741.4 537.5 741.4 538.0 741.4 538.5 741.4 539.0 741.4 539.5 741.4 540.0 741.4 540.5 741.4 541.0 741.4 541.5 741.4 542.0 741.4 542.5 741.4 543.0 741.4 543.5 741.4 544.0 741.4 544.5 741.4 545.0 741.4 545.5 741.4 546.0 741.4 546.5 741.4 547.0 741.4 547.5 741.4 548.0 741.4 548.5 741.4 549.0 741.4 549.5 741.4 550.0 741.4 550.5 741.4 551.0 741.4 551.5 741.4 552.0 741.4 552.5 741.4 553.0 741.4 553.5 741.4 554.0 741.4 554.5 741.4 555.0 741.4 555.5 741.4 556.0 741.4 556.5 741.4 557.0 741.4 557.5 741.4 558.0 741.4 558.5 741.4 559.0 741.4 559.5 741.4 560.0 741.4 560.5 741.4 561.0 741.4 561.5 741.4 562.0 741.4 562.5 741.4 563.0 741.4 563.5 741.4 564.0 741.4 564.5 741.4 565.0 741.4 565.5 741.4 566.0 741.4 566.5 741.4 567.0 741.4 567.5 741.4 568.0 741.4 568.5 741.4 569.0 741.4 569.5 741.4 570.0 741.4 570.5 741.4 571.0 741.4 571.5 741.4 572.0 741.4 572.5 741.4 573.0 741.4 573.5 741.4 574.0 741.4 574.5 741.4 575.0 741.4 575.5 741.4 576.0 741.4 576.5 741.4 577.0 741.4 577.5 741.4 578.0 741.4 578.5 741.4 579.0 741.4 579.5 741.4 580.0 741.4 580.5 741.4 581.0 741.4 581.5 741.4 582.0 741.4 582.5 741.4 583.0 741.4 583.5 741.4 584.0 741.4 584.5 741.4 585.0 741.4 585.5 741.4 586.0 741.4 586.5 741.4 587.0 741.4 587.5 741.4 588.0 741.4 588.5 741.4 589.0 741.4 589.5 741.4 590.0 741.4 590.5 741.4 591.0 741.4 591.5 741.4 592.0 741.4 592.5 741.4 593.0 741.4 593.5 741.4 594.0 741.4 594.5 741.4 595.0 741.4 595.5 741.4 596.0 741.4 596.5 741.4 597.0 741.4 597.5 741.4 598.0 741.4 598.5 741.4 599.0 741.4 599.5 741.4 600.0 741.4 600.5 741.4 601.0 741.4 601.5 741.4 602.0 741.4 602.5 741.4 603.0 741.4 603.5 741.4 604.0 741.4 604.5 741.4 605.0 741.4 605.5 741.4 606.0 741.4 606.5 741.4 607.0 741.4 607.5 741.4 608.0 741.4 608.5 741.4 609.0 741.4 609.5 741.4 610.0 741.4 610.5 741.4 611.0 741.4 611.5 741.4 612.0 741.4 612.5 741.4 613.0 741.4 613.5 741.4 614.0 741.4 614.5 741.4 615.0 741.4 615.5 741.4 616.0 741.4 616.5 741.4 617.0 741.4 617.5 741.4 618.0 741.4 618.5 741.4 619.0 741.4 619.5 741.4 620.0 741.4 620.5 741.4 621.0 741.4 621.5 741.4 622.0 741.4 622.5 741.4 623.0 741.4 623.5 741.4 624.0 741.4 624.5 741.4 625.0 741.4 625.5 741.4 626.0 741.4 626.5 741.4 627.0 741.4 627.5 741.4 628.0 741.4 628.5 741.4 629.0 741.4 629.5 741.4 630.0 741.4 630.5 741.4 631.0 741.4 631.5 741.4 632.0 741.4 632.5 741.4 633.0 741.4 633.5 741.4 634.0 741.4 634.5 741.4 635.0 741.4 635.5 741.4 636.0 741.4 636.5 741.4 637.0 741.4 637.5 741.4 638.0 741.4 638.5 741.4 639.0 741.4 639.5 741.4 640.0 741.4 640.5 741.4 641.0 741.4 641.5 741.4 642.0 741.4 642.5 741.4 643.0 741.4 643.5 741.4 644.0 741.4 644.5 741.4 645.0 741.4 645.5 741.4 646.0 741.4 646.5 741.4 647.0 741.4 647.5 741.4 648.0 741.4 648.5 741.4 649.0 741.4 649.5 741.4 650.0 741.4 650.5 741.4 651.0 741.4 651.5 741.4 652.0 741.4 652.5 741.4 653.0 741.4 653.5 741.4 654.0 741.4 654.5 741.4 655.0 741.4 655.5 741.4 656.0 741.4 656.5 741.4 657.0 741.4 657.5 741.4 658.0 741.4 658.5 741.4 659.0 741.4 659.5 741.4 660.0 741.4 660.5 741.4 661.0 741.4 661.5 741.4 662.0 741.4 662.5 741.4 663.0 741.4 663.5 741.4 664.0 741.4 664.5 741.4 665.0 741.4 665.5 741.4 666.0 741.4 666.5 741.4 667.0 741.4 667.5 741.4 668.0 741.4 668.5 741.4 669.0 741.4 669.5 741.4 670.0 741.4 670.5 741.4 671.0 741.4 671.5 741.4 672.0 741.4 672.5 741.4 673.0 741.4 673.5 741.4 674.0 741.4 674.5 741.4 675.0 741.4 675.5 741.4 676.0 741.4 676.5 741.4 677.0 741.4 677.5 741.4 678.0 741.4 678.5 741.4 679.0 741.4 679.5 741.4 680.0 741.4 680.5 741.4 681.0 741.4 681.5 741.4 682.0 741.4 682.5 741.4 683.0 741.4 683.5 741.4 684.0 741.4 684.5 741.4 685.0 741.4 685.5 741.4 686.0 741.4 686.5 741.4 687.0 741.4 687.5 741.4 688.0 741.4 688.5 741.4 689.0 741.4 689.5 741.4 690.0 741.4 690.5 741.4 691.0 741.4 691.5 741.4 692.0 741.4 692.5 741.4 693.0 741.4 693.5 741.4 694.0 741.4 694.5 741.4 695.0 741.4 695.5 741.4 696.0 741.4 696.5 741.4 697.0 741.4 697.5 741.4 698.0 741.4 698.5 741.4 699.0 741.4 699.5 741.4 700.0 741.4 700.5 741.4 701.0 741.4 701.5 741.4 702.0 741.4 702.5 741.4 703.0 741.4 703.5 741.4 704.0 741.4 704.5 741.4 705.0 741.4 705.5 741.4 706.0 741.4 706.5 741.4 707.0 741.4 707.5 741.4 708.0 741.4 708.5 741.4 709.0 741.4 709.5 741.4 710.0 741.4 710.5 741.4 711.0 741.4 711.5 741.4 712.0 741.4 712.5 741.4 713.0 741.4 713.5 741.4 714.0 741.4 714.5 741.4 715.0 741.4 715.5 741.4 716.0 741.4 716.5 741.4 717.0 741.4 717.5 741.4 718.0 741.4 718.5 741.4 719.0 741.4 719.5 741.4 720.0 741.4 720.5 741.4 721.0 741.4 721.5 741.4 722.0 741.4 722.5 741.4 723.0 741.4 723.5 741.4 724.0 741.4 724.5 741.4 725.0 741.4 725.5 741.4 726.0 741.4 726.5 741.4 727.0 741.4 727.5 741.4 728.0 741.4 728.5 741.4 729.0 741.4 729.5 741.4 730.0 741.4 730.5 741.4 731.0 741.4 731.5 741.4 732.0 741.4 732.5 741.4 733.0 741.4 733.5 741.4 734.0 741.4 734.5 741.4 735.0 741.4 735.5 741.4 736.0 741.4 736.5 741.4 737.0 741.4 737.5 741.4 738.0 741.4 738.5 741.4 739.0 741.4 739.5 741.4 740.0 741.4 740.5 741.4 741.0 741.4 741.5 741.4 742.0 741.4 742.5 741.4 743.0 741.4 743.5 741.4 744.0 741.4 744.5 741.4 745.0 741.4 745.5 741.4 746.0 741.4 746.5 741.4 747.0 741.4 747.5 741.4 748.0 741.4 748.5 741.4 749.0 741.4 749.5 741.4 750.0 741.4 750.5 741.4 751.0 741.4 751.5 741.4 752.0 741.4 752.5 741.4 753.0 741.4 753.5 741.4 754.0 741.4 754.5 741.4 755.0 741.4 755.5 741.4 756.0 741.4 756.5 741.4 757.0 741.4 757.5 741.4 758.0 741.4 758.5 741.4 759.0 741.4 759.5 741.4 760.0 741.4 760.5 741.4 761.0 741.4 761.5 741.4 762.0 741.4 762.5 741.4 763.0 741.4 763.5 741.4 764.0 741.4 764.5 741.4 765.0 741.4 765.5 741.4 766.0 741.4 766.5 741.4 767.0 741.4 767.5 741.4 768.0 741.4 768.5 741.4 769.0 741.4 769.5 741.4 770.0 741.4 770.5 741.4 771.0 741.4 771.5 741.4 772.0 741.4 772.5 741.4 773.0 741.4 773.5 741.4 774.0 741.4 774.5 741.4 775.0 741.4 775.5 741.4 776.0 741.4 776.5 741.4 777.0 741.4 777.5 741.4 778.0 741.4 778.5 741.4 779.0 741.4 779.5 741.4 780.0 741.4 780.5 741.4 781.0 741.4 781.5 741.4 782.0 741.4 782.5 741.4 783.0 741.4 783.5 741.4 784.0 741.4 784.5 741.4 785.0 741.4 785.5 741.4 786.0 741.4 786.5 741.4 787.0 741.4 787.5 741.4 788.0 741.4 788.5 741.4 789.0 741.4 789.5 741.4 790.0 741.4 790.5 741.4 791.0 741.4 791.5 741.4 792.0 741.4 792.5 741.4 793.0 741.4 793.5 741.4 794.0 741.4 794.5 741.4 795.0 741.4 795.5 741.4 796.0 741.4 796.5 741.4 797.0 741.4 797.5 741.4 798.0 741.4 798.5 741.4 799.0 741.4 799.5 741.4 800.0 741.4 800.5 741.4 801.0 741.4 801.5 741.4 802.0 741.4 802.5 741.4 803.0 741.4 803.5 741.4 804.0 741.4 804.5 741.4 805.0 741.4 805.5 741.4 806.0 741.4 806.5 741.4 807.0 741.4 807.5 741.4 808.0 741.4 808.5 741.4 809.0 741.4 809.5 741.4 810.0 741.4 810.5 741.4 811.0 741.4 811.5 741.4 812.0 741.4 812.5 741.4 813.0 741.4 813.5 741.4 814.0 741.4 814.5 741.4 815.0 741.4 815.5 741.4 816.0 741.4 816.5 741.4 817.0 741.4 817.5 741.4 818.0 741.4 818.5 741.4 819.0 741.4 819.5 741.4 820.0 741.4 820.5 741.4 821.0 741.4 821.5 741.4 822.0 741.4 822.5 741.4 823.0 741.4 823.5 741.4 824.0 741.4 824.5 741.4 825.0 741.4 825.5 741.4 826.0 741.4 826.5 741.4 827.0 741.4 827.5 741.4 828.0 741.4 828.5 741.4 829.0 741.4 829.5 741.4 830.0 741.4 830.5 741.4 831.0 741.4 831.5 741.4 832.0 741.4 832.5 741.4 833.0 741.4 833.5 741.4 834.0 741.4 834.5 741.4 835.0 741.4 835.5 741.4 836.0 741.4 836.5 741.4 837.0 741.4 837.5 741.4 838.0 741.4 838.5 741.4 839.0 741.4 839.5 741.4 840.0 741.4 840.5 741.4 841.0 741.4 841.5 741.4 842.0 741.4 842.5 741.4 843.0 741.4 843.5 741.4 844.0 741.4 844.5 741.4 845.0 741.4 845.5 741.4 846.0 741.4 846.5 741.4 847.0 741.4 847.5 741.4 848.0 741.4 848.5 741.4 849.0 741.4 849.5 741.4 850.0 741.4 850.5 741.4 851.0 741.4 851.5 741.4 852.0 741.4 852.5 741.4 853.0 741.4 853.5 741.4 854.0 741.4 854.5 741.4 855.0 741.4 855.5 741.4 856.0 741.4 856.5 741.4 857.0 741.4 857.5 741.4 858.0 741.4 858.5 741.4 859.0 741.4 859.5 741.4 860.0 741.4 860.5 741.4 861.0 741.4 861.5 741.4 862.0 741.4 862.5 741.4 863.0 741.4 863.5 741.4 864.0 741.4 864.5 741.4 864.8 741.4" fill="none" stroke="#1f77b4" stroke-width="2.0833" stroke-linecap="square" stroke-linejoin="round"/>
<path d="M125.5 800.5V683.5M900.5 800.5V683.5M125.5 800.5H900.5M125.5 683.5H900.5M202.5 800.5v4.86M285.5 800.5v4.86M367.5 800.5v4.86M450.5 800.5v4.86M533.5 800.5v4.86M616.5 800.5v4.86M699.5 800.5v4.86M782.5 800.5v4.86M865.5 800.5v4.86M125.5 795.5h-4.86M125.5 741.5h-4.86M125.5 688.5h-4.86" fill="none" stroke="#000" stroke-width="1.1111" stroke-linecap="square"/>
<g style="will-change:opacity" opacity="0.999"><text transform="translate(169.59 837.77) rotate(-30)" style="font-size:13.889px">2020</text><text transform="translate(252.51 837.76) rotate(-30)" style="font-size:13.889px">2030</text><text transform="translate(335.55 837.72) rotate(-30)" style="font-size:13.889px">2040</text><text transform="translate(418.61 837.69) rotate(-30)" style="font-size:13.889px">2050</text><text transform="translate(500.55 837.73) rotate(-30)" style="font-size:13.889px">2060</text><text transform="translate(583.58 837.71) rotate(-30)" style="font-size:13.889px">2070</text><text transform="translate(666.56 837.68) rotate(-30)" style="font-size:13.889px">2080</text><text transform="translate(749.63 837.72) rotate(-30)" style="font-size:13.889px">2090</text><text transform="translate(832.64 837.65) rotate(-30)" style="font-size:13.889px">2100</text><text x="114.30" y="799.69" style="font-size:13.889px;text-anchor:end">−0.05</text><text x="115.73" y="746.67" style="font-size:13.889px;text-anchor:end">0.00</text><text x="115.73" y="693.63" style="font-size:13.889px;text-anchor:end">0.05</text><text x="64.53" y="744.55" transform="rotate(-90 64.53 744.55)" style="font-size:13.889px;text-anchor:middle">numnan</text><text x="511.68" y="855.56" style="font-size:13.889px;text-anchor:middle">validtime</text></g></svg>
</body></html>
